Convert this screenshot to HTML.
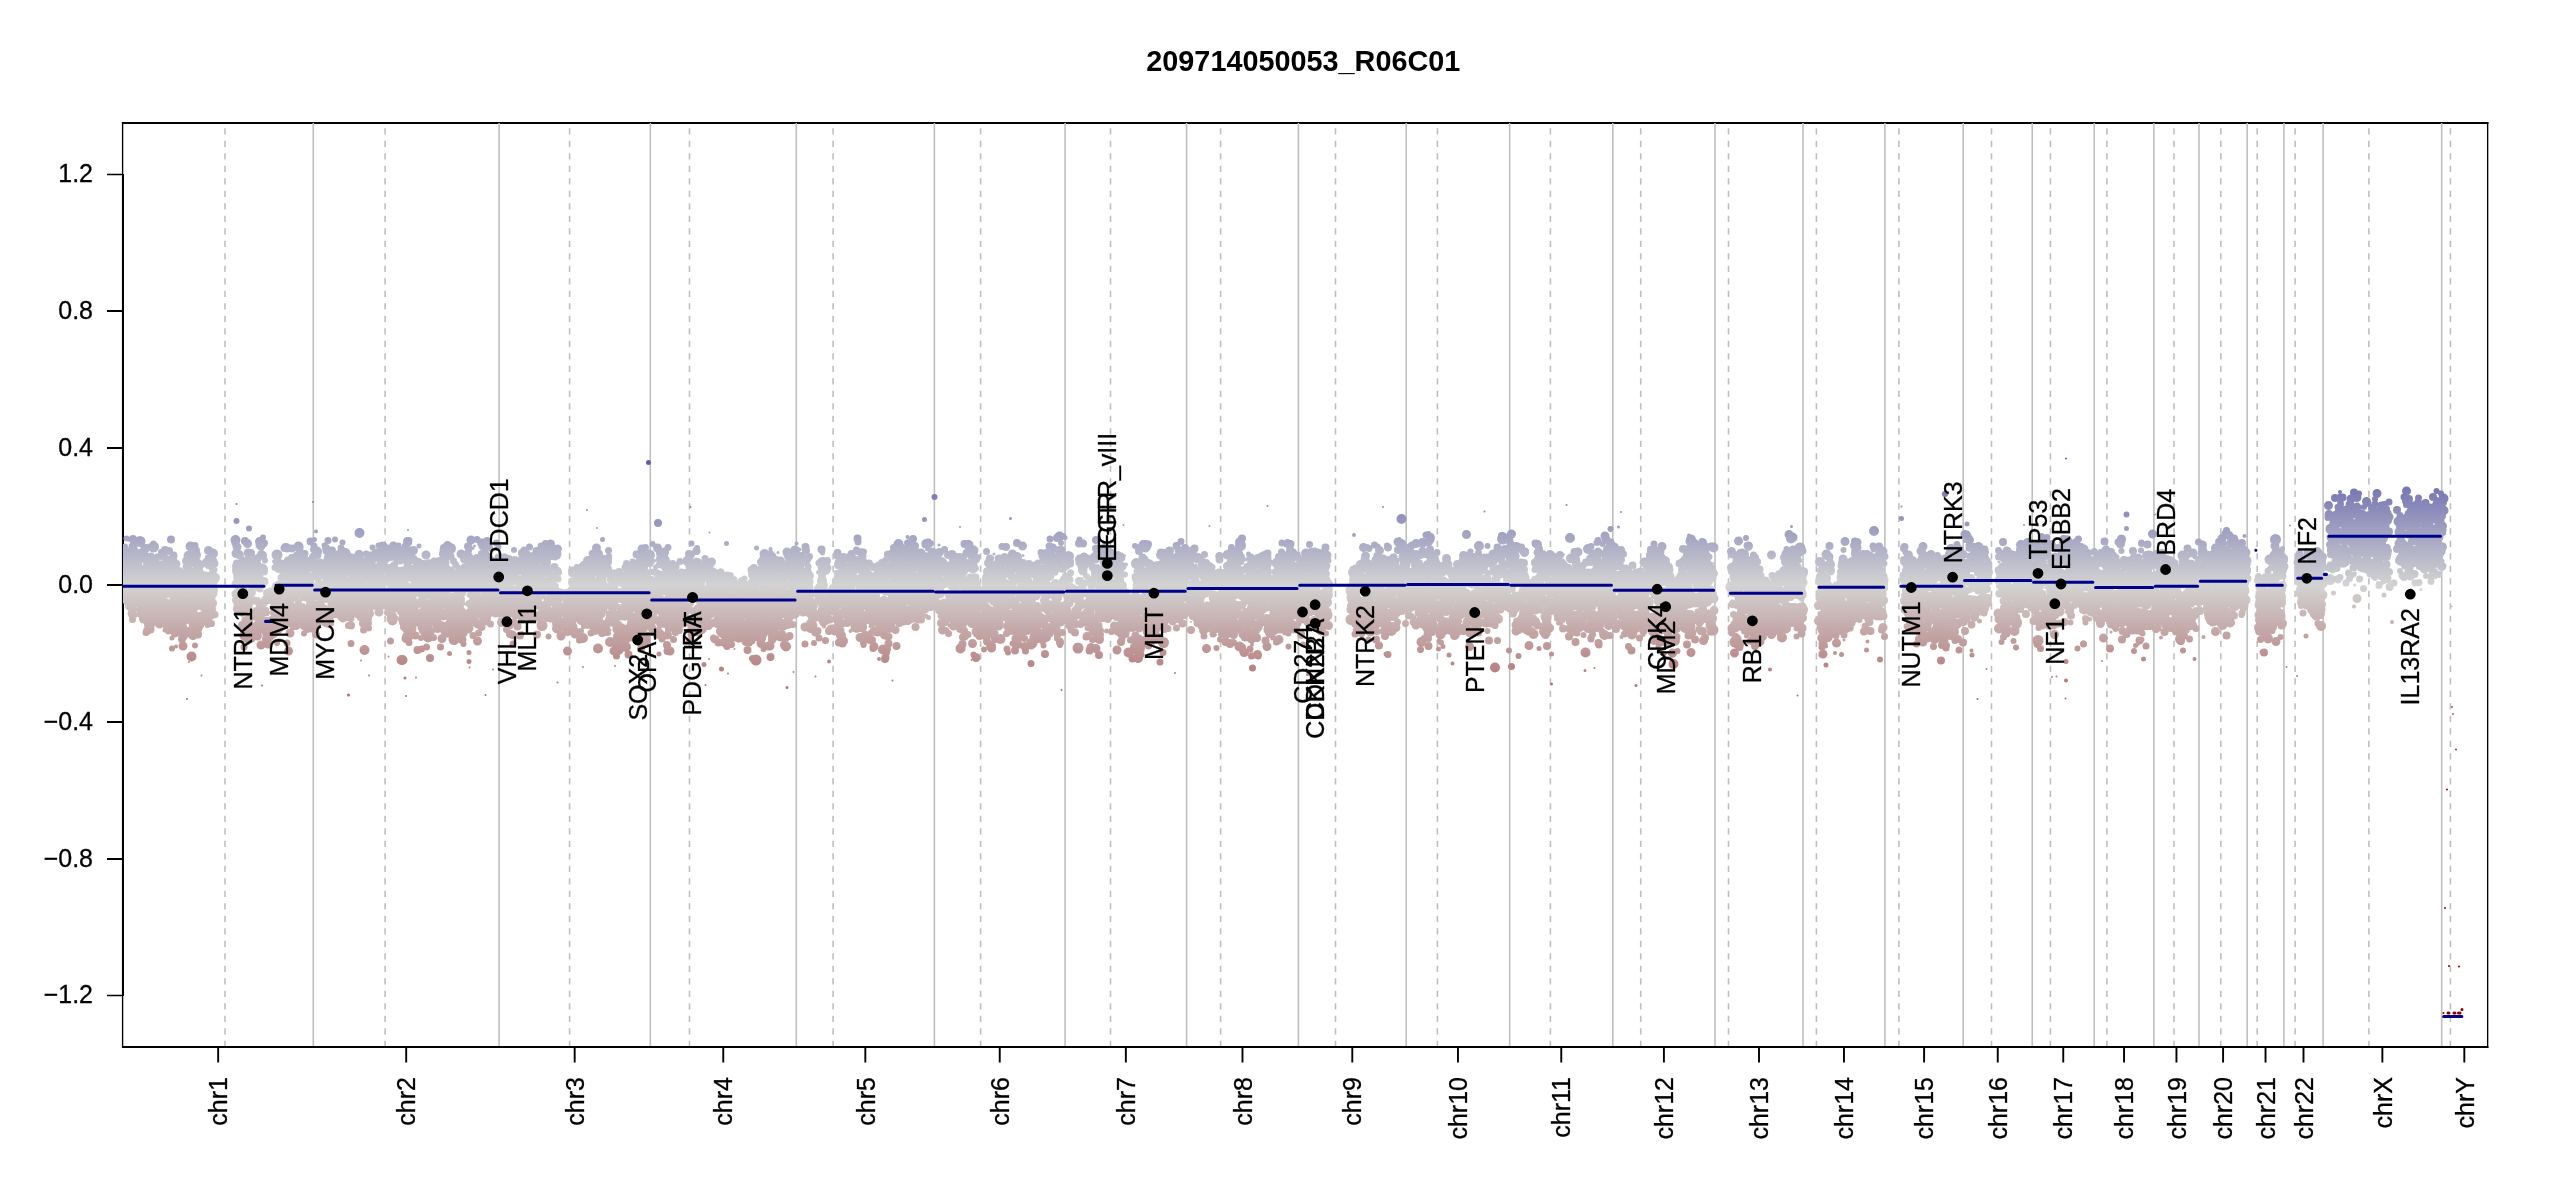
<!DOCTYPE html>
<html><head><meta charset="utf-8"><title>209714050053_R06C01</title>
<style>html,body{margin:0;padding:0;background:#fff}svg{display:block;will-change:transform}text{font-family:"Liberation Sans",Arial,Helvetica,sans-serif;fill:#000;stroke:#000;stroke-width:0.3px;font-size:25px}</style></head><body>
<svg width="2550" height="1200" viewBox="0 0 2550 1200">
<defs><linearGradient id="g" gradientUnits="userSpaceOnUse" x1="0" y1="362.6" x2="0" y2="807.4"><stop offset="0" stop-color="#00008b"/><stop offset="0.5" stop-color="#d3d3d3"/><stop offset="1" stop-color="#8b0000"/></linearGradient><clipPath id="c"><rect x="123.0" y="123.0" width="2364.5" height="924.0"/></clipPath></defs>
<rect width="2550" height="1200" fill="#fff"/>
<text x="1146.3" y="71" style="font-size:29.3px;font-weight:bold;stroke-width:0" textLength="314" lengthAdjust="spacingAndGlyphs">209714050053_R06C01</text>
<path d="M121.9 123H2488.4M121.9 1047H2488.4" stroke="#000" stroke-width="2" fill="none"/>
<path d="M122.6 122V1048M2487.65 122V1048" stroke="#000" stroke-width="1.35" fill="none"/>
<path d="M123.00 173.90V996.10M123.00 311.00H107.00M123.00 448.00H107.00M123.00 585.00H107.00M123.00 722.00H107.00M123.00 859.00H107.00" stroke="#000" stroke-width="2" fill="none"/>
<path d="M123 174.5H107M123 995.5H107" stroke="#000" stroke-width="1.3" fill="none"/>
<text x="93" y="182.3" text-anchor="end">1.2</text>
<text x="93" y="318.8" text-anchor="end">0.8</text>
<text x="93" y="455.8" text-anchor="end">0.4</text>
<text x="93" y="592.9" text-anchor="end">0.0</text>
<text x="93" y="729.9" text-anchor="end">−0.4</text>
<text x="93" y="866.9" text-anchor="end">−0.8</text>
<text x="93" y="1003.4" text-anchor="end">−1.2</text>
<path d="M313.3 123.0V1047.0M499.1 123.0V1047.0M650.3 123.0V1047.0M796.3 123.0V1047.0M934.4 123.0V1047.0M1065.1 123.0V1047.0M1186.6 123.0V1047.0M1298.4 123.0V1047.0M1406.2 123.0V1047.0M1509.7 123.0V1047.0M1612.8 123.0V1047.0M1715.0 123.0V1047.0M1803.0 123.0V1047.0M1884.9 123.0V1047.0M1963.2 123.0V1047.0M2032.2 123.0V1047.0M2094.2 123.0V1047.0M2153.9 123.0V1047.0M2199.0 123.0V1047.0M2247.2 123.0V1047.0M2283.9 123.0V1047.0M2323.1 123.0V1047.0M2441.7 123.0V1047.0" stroke="#bebebe" stroke-width="1.5625" fill="none"/>
<path d="M225.0 1047.0V123.0M385.1 1047.0V123.0M569.6 1047.0V123.0M689.5 1047.0V123.0M833.1 1047.0V123.0M980.6 1047.0V123.0M1110.5 1047.0V123.0M1220.6 1047.0V123.0M1335.5 1047.0V123.0M1437.4 1047.0V123.0M1550.4 1047.0V123.0M1640.7 1047.0V123.0M1728.5 1047.0V123.0M1816.4 1047.0V123.0M1898.9 1047.0V123.0M1991.5 1047.0V123.0M2050.4 1047.0V123.0M2106.9 1047.0V123.0M2174.0 1047.0V123.0M2220.8 1047.0V123.0M2257.2 1047.0V123.0M2295.1 1047.0V123.0M2368.9 1047.0V123.0M2450.4 1047.0V123.0" stroke="#bebebe" stroke-width="1.5625" stroke-dasharray="6.25 6.25" fill="none"/>
<path d="M218.17 1047.00H2464.33M218.17 1047.00V1062.60M406.20 1047.00V1062.60M574.67 1047.00V1062.60M723.26 1047.00V1062.60M865.33 1047.00V1062.60M999.74 1047.00V1062.60M1125.84 1047.00V1062.60M1242.49 1047.00V1062.60M1352.29 1047.00V1062.60M1457.96 1047.00V1062.60M1561.26 1047.00V1062.60M1663.91 1047.00V1062.60M1759.00 1047.00V1062.60M1843.96 1047.00V1062.60M1924.10 1047.00V1062.60M1997.75 1047.00V1062.60M2063.25 1047.00V1062.60M2124.06 1047.00V1062.60M2176.45 1047.00V1062.60M2223.09 1047.00V1062.60M2265.53 1047.00V1062.60M2303.50 1047.00V1062.60M2382.37 1047.00V1062.60M2464.33 1047.00V1062.60" stroke="#000" stroke-width="1.9000" fill="none"/>
<text transform="translate(227.3 1077) rotate(-90)" text-anchor="end">chr1</text>
<text transform="translate(415.3 1077) rotate(-90)" text-anchor="end">chr2</text>
<text transform="translate(583.8 1077) rotate(-90)" text-anchor="end">chr3</text>
<text transform="translate(732.4 1077) rotate(-90)" text-anchor="end">chr4</text>
<text transform="translate(874.5 1077) rotate(-90)" text-anchor="end">chr5</text>
<text transform="translate(1008.9 1077) rotate(-90)" text-anchor="end">chr6</text>
<text transform="translate(1135.0 1077) rotate(-90)" text-anchor="end">chr7</text>
<text transform="translate(1251.6 1077) rotate(-90)" text-anchor="end">chr8</text>
<text transform="translate(1361.4 1077) rotate(-90)" text-anchor="end">chr9</text>
<text transform="translate(1467.1 1077) rotate(-90)" text-anchor="end">chr10</text>
<text transform="translate(1570.4 1077) rotate(-90)" text-anchor="end">chr11</text>
<text transform="translate(1673.1 1077) rotate(-90)" text-anchor="end">chr12</text>
<text transform="translate(1768.1 1077) rotate(-90)" text-anchor="end">chr13</text>
<text transform="translate(1853.1 1077) rotate(-90)" text-anchor="end">chr14</text>
<text transform="translate(1933.2 1077) rotate(-90)" text-anchor="end">chr15</text>
<text transform="translate(2006.9 1077) rotate(-90)" text-anchor="end">chr16</text>
<text transform="translate(2072.4 1077) rotate(-90)" text-anchor="end">chr17</text>
<text transform="translate(2133.2 1077) rotate(-90)" text-anchor="end">chr18</text>
<text transform="translate(2185.6 1077) rotate(-90)" text-anchor="end">chr19</text>
<text transform="translate(2232.2 1077) rotate(-90)" text-anchor="end">chr20</text>
<text transform="translate(2274.7 1077) rotate(-90)" text-anchor="end">chr21</text>
<text transform="translate(2312.6 1077) rotate(-90)" text-anchor="end">chr22</text>
<text transform="translate(2391.5 1077) rotate(-90)" text-anchor="end">chrX</text>
<text transform="translate(2473.5 1077) rotate(-90)" text-anchor="end">chrY</text>
<g clip-path="url(#c)" fill="none" stroke-linecap="round">
<g stroke="url(#g)">
<path d="M123 562.5h0m0 35.5h0m7.5-2h0m3.5-25.5h0m6-16h0m0-13h0m9.5 83.5h0m1-34.5h0m1.5-18h0m1.5-25.5h0m13.5 66h0m5-52h0m.5 11h0m0 17.5h0m6 41.5h0m1.5-8.5h0m9-66.5h0m.5 25h0m12.5 2.5h0m0 34.5h0m12.5-40h0m30.5 57.5h0m2-2.5h0m11-65.5h0m12.5 62.5h0m3.5-9h0m3-66h0m10 59h0m14-48.5h0m7.5 49h0m2.5 5h0m.5-58h0m.5 32.5h0m7.5-24.5h0m3 24.5h0m2.5-21h0m11 15.5h0m3.5 19h0m3.5 2h0m5-40h0m12 15h0m5.5-11h0m6-16h0m3.5 41h0m4-45h0m3.5-6.5h0m7 51.5h0m3-28.5h0m15 67h0m2.5-28.5h0m17-4h0m14-42.5h0m1.5 51.5h0m8-65h0m3.5 35h0m0 56h0m3.5-59.5h0m10.5 48h0m7-40.5h0m6.5-27.5h0m6 9h0m4.5 2h0m10 39h0m1 2.5h0m3 9.5h0m6-60h0m1 48.5h0m1-3h0m1-6.5h0m2.5-35h0m7 29h0m.5-8h0m4 2.5h0m0-32h0m1.5 21h0m2.5-21h0m9 68h0m3.5-63.5h0m6.5-7.5h0m4.5 60.5h0m1.5-18h0m8.5 29h0m1-17h0m6-26.5h0m2 23.5h0m0 27h0m4-29.5h0m4.5-23h0m3 24.5h0m1-14h0m.5-23h0m15-5.5h0m.5 65.5h0m10-6.5h0m9-12h0m11.5-39h0m4.5 20.5h0m2-17h0m.5-19.5h0m30.5 38.5h0m5.5-6h0m4.5-4h0m3 36h0m1-11.5h0m2-46.5h0m13.5 67.5h0m7-64h0m16.5 40h0m5 16h0m1-1h0m10-34h0m4.5 4h0m0 44.5h0m10.5 26h0m4-64h0m0-22h0m12.5-3h0m1 7h0m1.5-11h0m3 2.5h0m.5 38h0m6.5-23.5h0m6.5 18.5h0m1.5-26h0m4 9h0m7.5 20h0m16.5 9h0m11-14.5h0m3.5-9h0m3.5 39.5h0m8-53.5h0m13.5 25h0m.5-15.5h0m.5 39.5h0m2-58.5h0m24 21.5h0m4 13.5h0m1-18h0m1.5-31h0m1 44.5h0m3-27.5h0m4.5 21h0m2 19.5h0m1.5-22h0m8.5 19.5h0m7.5-51.5h0m1 22h0m.5-14.5h0m0 25.5h0m.5-10.5h0m9-25.5h0m7 31.5h0m2-16.5h0m7.5 41h0m4.5 6.5h0m17.5-17h0m6 18h0m6-16.5h0m2 7.5h0m7-27h0m9 26h0m3-23.5h0m0 5.5h0m4.5-27.5h0m2 24.5h0m.5 28.5h0m5 14.5h0m13.5-34h0m2 47.5h0m3.5-48.5h0m.5 43.5h0m6.5-15.5h0m1-53h0m3 25h0m5-6h0m1 29.5h0m2.5 10.5h0m.5-69h0m13-3h0m9.5 91.5h0m9.5-32.5h0m6.5 7.5h0m20-51h0m1 12.5h0m4 12h0m6.5 4.5h0m11-37.5h0m1 14h0m2.5 30.5h0m5.5-9.5h0m.5-53h0m1.5 73.5h0m8 2h0m1.5-54.5h0m3.5 40h0m0-40.5h0m3 76.5h0m14-35h0m10-55h0m4.5 37h0m5 20h0m7.5-17.5h0m1.5-12h0m5.5 .5h0m4.5 26.5h0m3.5-23h0m8 43.5h0m13-82h0m6.5 87h0m11.5-18h0m7.5-56.5h0m1 4.5h0m3 68.5h0m6-10h0m1.5-16.5h0m3 5h0m1-29.5h0m.5 12h0m1 1h0m5-.5h0m4-39h0m.5 45.5h0m8-24h0m5.5 31.5h0m3.5-50.5h0m1.5 35h0m2-25h0m.5 27.5h0m1.5-23.5h0m1.5 9.5h0m3.5 26h0m5-22h0m26 36h0m0-29h0m2.5-18h0m1.5 36h0m5.5-31.5h0m1.5 6.5h0m14.5 39.5h0m4-59h0m6 62h0m1.5-33.5h0m2-9.5h0m8 20h0m1.5-22h0m4.5-11h0m4.5 9h0m1.5 20.5h0m1-26h0m1.5-17h0m4.5 19h0m1.5-1.5h0m1.5 23.5h0m3.5 5h0m1 7h0m6 13h0m2-27.5h0m.5-38h0m0 7.5h0m4.5 26.5h0m15.5-16.5h0m.5 54h0m1.5-47.5h0m1 31h0m4.5-44.5h0m1 24.5h0m2.5-31h0m0 36.5h0m.5-36.5h0m13.5 17.5h0m8 34.5h0m2-6.5h0m1-21.5h0m2.5 37h0m6.5-48h0m4.5-35h0m8.5 44h0m9-4h0m5.5 49h0m.5-19.5h0m1 12h0m3.5-36h0m.5 9h0m7.5 1h0m7 6.5h0m.5 15.5h0m4-8.5h0m0 2h0m6.5-4.5h0m3-36h0m0 20h0m2-22h0m.5 33h0m1 7.5h0m8 20.5h0m12-32h0m5 6.5h0m4-12h0m16-30h0m1 19h0m2-8.5h0m9 35.5h0m12.5 9h0m9.5-14h0m4.5-19h0m2-16.5h0m5-6.5h0m0 71h0m0-60h0m5.5-19h0m1 5.5h0m5.5 14.5h0m8.5 47h0m2.5-32.5h0m8.5 11h0m5.5 23h0m6-42.5h0m.5 20h0m1 1.5h0m8-21.5h0m3.5 16.5h0m3.5 35.5h0m18-43h0m4 55h0m3.5 2h0m1.5-47h0m4 .5h0m3 2.5h0m21 7h0m7.5-29h0m2.5 13.5h0m5.5 35.5h0m3-65.5h0m3 21h0m1-23.5h0m5.5 60h0m4-71h0m2.5 24.5h0m21.5 51h0m1.5 2h0m1.5-59h0m6 38.5h0m10.5 .5h0m10 12h0m0-29h0m4.5 19h0m.5 3.5h0m3-41.5h0m1 21.5h0m3.5 5h0m1-1.5h0m1.5-5.5h0m11.5 8.5h0m1-15.5h0m24-2.5h0m3-3.5h0m1.5 6h0m2 46h0m1-26.5h0m11.5-6.5h0m5-32h0m3.5 51.5h0m3.5-15.5h0m10.5 16h0m2 14.5h0m1-10.5h0m.5-18h0m0 32.5h0m34-74.5h0m.5 8.5h0m.5 33h0m15.5 14h0m5 1h0m2-11h0m9 18.5h0m1-26.5h0m9-6.5h0m2.5-3.5h0m8-14h0m1 68h0m1.5-89h0m10 66.5h0m3.5 6h0m6.5-21h0m2-28.5h0m24 23h0m7-10.5h0m.5 .5h0m2-26h0m15.5 46h0m8-25.5h0m6.5 32h0m7.5 15h0m3.5-52.5h0m.5 17.5h0m3 19.5h0m0-42.5h0m4 42.5h0m4.5-37h0m2.5 14.5h0m0 24.5h0m3.5-26.5h0m2 21.5h0m3.5 8h0m4-9h0m11.5-26h0m1 3.5h0m1 18h0m1.5-32.5h0m12.5-7.5h0m3.5 13h0m3 19h0m15-29h0m4.5 36h0m2.5 16.5h0m14-54h0m5-9.5h0m6.5 43h0m20.5 4.5h0m6-5h0m4-60h0m2.5 35.5h0m.5 39.5h0m26-36h0m.5 16.5h0m1.5-16h0m.5 25h0m4.5-49.5h0m1 20.5h0m.5-1.5h0m3.5 41.5h0m4-51.5h0m2.5 16.5h0m7-.5h0m1-50.5h0m1.5 20.5h0m7-27.5h0m6.5-10.5h0m0-.5h0m.5 28.5h0m32 19.5h0m2-47h0m.5 7h0m31.5 3h0m19.5 26h0m8-39.5h0" stroke-width="11"/>
<path d="M123 572.5h0m4-8.5h0m.5 8h0m1-2h0m1.5 36h0m.5-21h0m6.5-8.5h0m1 24h0m.5-17h0m1 4h0m1-4.5h0m0 21.5h0m8.5-20h0m1 4h0m0-24h0m1.5 51h0m3 2h0m2.5-23h0m2.5-10h0m0-17.5h0m2 30.5h0m4-25h0m1-2.5h0m0 33.5h0m1.5-10.5h0m2 17.5h0m3 6h0m6-44.5h0m0 22.5h0m.5-1h0m3.5-19h0m3 37h0m.5-21.5h0m4-43.5h0m.5 15.5h0m.5 94.5h0m5.5-93h0m0 1.5h0m1 4h0m4 28.5h0m.5-10.5h0m2.5-4.5h0m3 7h0m0 4.5h0m.5-16.5h0m2 24.5h0m2.5-48.5h0m0 36.5h0m22.5-50h0m3 61h0m15.5-17h0m2-20.5h0m3 9.5h0m0 6h0m2 41.5h0m5.5-21h0m4.5-7h0m2 41h0m1-40.5h0m2 10.5h0m5-38h0m2 21.5h0m1.5 23h0m3.5-16.5h0m0 9h0m0-18h0m1-5.5h0m2 15.5h0m.5 20h0m1-5h0m1-12.5h0m1 22h0m1.5-35h0m2.5 36.5h0m0-74h0m0 45h0m1.5-20h0m0 45.5h0m.5 3h0m2-34h0m.5-3.5h0m3.5 27.5h0m0-34h0m3 10h0m7.5-34.5h0m0 61h0m.5-5h0m2-13h0m.5 20.5h0m1.5-29.5h0m1 26.5h0m1.5-38.5h0m0-.5h0m1-8h0m0 31.5h0m3-35h0m1 15.5h0m.5-10.5h0m2.5 47h0m0-1.5h0m3-15h0m0 5h0m.5-37h0m0 27h0m.5-3.5h0m.5-26h0m.5 31.5h0m0-22h0m3.5 6h0m1-11h0m1.5-14.5h0m2 19h0m1.5 29h0m5.5 8h0m2.5-1.5h0m1.5-12.5h0m1.5-11h0m2-20h0m0-30.5h0m0 28h0m5 89h0m.5-32h0m1 3.5h0m2.5-54.5h0m2.5-6h0m1.5 25h0m0-17h0m1 30.5h0m2.5 0h0m1 4.5h0m.5-24h0m2 26.5h0m10-54.5h0m3 68.5h0m3.5-30h0m3-7h0m1.5-24h0m1 100.5h0m1 0h0m1.5-37.5h0m0-51h0m1 30.5h0m.5 12h0m.5-60.5h0m6 61.5h0m.5-13.5h0m6-38.5h0m.5 20.5h0m2-9h0m4 31.5h0m.5-11.5h0m.5-5.5h0m2-24.5h0m0 73h0m1-68.5h0m.5 6.5h0m.5 29.5h0m3.5 11.5h0m1.5-22.5h0m0-24h0m1 13.5h0m0 29h0m.5 8.5h0m1-10.5h0m.5-20h0m4.5-19.5h0m1 44.5h0m.5-56h0m6 28h0m1 26h0m2 13.5h0m.5-1.5h0m1-19.5h0m1-5.5h0m.5 23h0m2-21h0m0-28.5h0m.5 53h0m1.5-28h0m1 12.5h0m0 18h0m1.5 3.5h0m2-64.5h0m1.5 10h0m2 4h0m2.5 30.5h0m.5-39.5h0m1.5 16.5h0m.5 12.5h0m1-11h0m.5 23.5h0m2.5-35.5h0m1 34h0m1.5-39.5h0m1.5 3h0m1.5 38h0m.5-49.5h0m3 52.5h0m0-71h0m.5-2.5h0m1 21h0m6.5 28h0m1.5 4h0m1 2.5h0m2 9.5h0m1.5-15.5h0m3.5 6h0m.5-25h0m.5-16.5h0m0 29h0m4-27.5h0m4.5 30.5h0m2.5 24h0m3-17.5h0m5.5 2.5h0m1.5-40.5h0m.5 17h0m.5-10.5h0m1 22.5h0m0 27.5h0m.5-11.5h0m1.5-13h0m0 1.5h0m2-30.5h0m1-2h0m3.5-2.5h0m3 17.5h0m1.5 40h0m6-32.5h0m1-29h0m4 36h0m1-12h0m4-23.5h0m.5 74.5h0m1-34h0m1-1.5h0m4.5 14.5h0m6.5 5.5h0m0 14.5h0m3.5-22.5h0m.5 12h0m.5-22.5h0m5 2h0m2.5-10h0m1 51.5h0m.5-18h0m0-34.5h0m2.5 16.5h0m2.5 22h0m1-9.5h0m.5-52.5h0m1 43.5h0m1 .5h0m1 14h0m0-21.5h0m.5 20h0m1-61h0m0 59h0m0-31.5h0m.5 45h0m2.5-19.5h0m.5 7.5h0m0 30.5h0m0-94.5h0m.5 46h0m1-33h0m1 27.5h0m.5 .5h0m0-26.5h0m4 62.5h0m1-37h0m1-32h0m3 80h0m2.5-55.5h0m.5 19.5h0m.5-16.5h0m1.5-7.5h0m0 36h0m3.5 32h0m1-11h0m1.5-59h0m1 65h0m.5-33h0m.5 19h0m.5-19h0m2-29h0m0 32.5h0m.5 31.5h0m2-57h0m4 43.5h0m1.5-63.5h0m3-4h0m2.5 48.5h0m0-6h0m2-48.5h0m2 68h0m.5-53.5h0m0-9.5h0m.5 55h0m.5 20h0m1 .5h0m1.5-84h0m1 5h0m0 59.5h0m0-29.5h0m1 17h0m5.5 .5h0m2.5-16h0m0 15h0m3 26.5h0m1-34.5h0m1-20h0m1.5-16.5h0m1 40h0m1-37h0m3 33h0m0-30.5h0m2 15.5h0m1.5 35.5h0m2.5-45h0m.5 18.5h0m2.5 1.5h0m1-11h0m0 22h0m.5 17.5h0m2-2h0m0-30.5h0m3.5-11h0m1 41.5h0m.5-11.5h0m4.5-26h0m6.5 6.5h0m.5 34.5h0m9.5-53.5h0m0 37.5h0m3.5-25.5h0m3.5-8.5h0m3.5-.5h0m1 44.5h0m.5-23h0m2 35h0m5 12h0m2-19h0m1 13h0m4-7.5h0m3-10.5h0m.5 14.5h0m4-34.5h0m1.5 1h0m1-14.5h0m3 49h0m6-27h0m1-32.5h0m1 50h0m1 7.5h0m1-60.5h0m0 33h0m1-10.5h0m1 35.5h0m.5-2.5h0m3.5-10.5h0m1-22h0m0 26h0m1.5-67h0m1 73h0m.5-60h0m2 9.5h0m1 39h0m4 21.5h0m.5-17h0m.5-20.5h0m1-25h0m2.5 48h0m2.5 14h0m1-40.5h0m.5 4.5h0m.5-35.5h0m3.5 32h0m.5 49.5h0m2.5-78.5h0m.5 44h0m0-56h0m1 43.5h0m0-33h0m4-12.5h0m.5 29h0m.5 30.5h0m0-63h0m0 3.5h0m.5 42h0m.5-29h0m.5 32.5h0m.5-31.5h0m2 41h0m1-23h0m5 10h0m1 13h0m0 2h0m1-32h0m4 44.5h0m1.5 2h0m.5-8h0m9-36.5h0m3.5 19.5h0m3 6.5h0m1 1.5h0m.5-9.5h0m3-6.5h0m8 43h0m1-62.5h0m3 18h0m0-11h0m1.5-6.5h0m2-4h0m0 11.5h0m.5-1.5h0m0 38.5h0m.5-60h0m.5 59.5h0m3-40h0m.5 39h0m2 11h0m0-20h0m.5-9.5h0m.5 17h0m4.5 5.5h0m4.5-22.5h0m0-26.5h0m2.5 26h0m5-18.5h0m3-3h0m.5 1.5h0m2 24h0m3-21.5h0m1.5 69.5h0m1.5-62h0m4 27.5h0m1 13h0m1-38h0m0-33h0m3.5 52h0m4.5-65h0m2 39h0m0 0h0m1.5-2h0m1.5-30h0m2 32h0m1.5-25.5h0m3 36h0m4-28.5h0m0-13.5h0m2 14.5h0m1.5-11h0m0 11.5h0m4.5 34.5h0m3.5-21.5h0m1.5 9.5h0m0 14.5h0m1-19.5h0m0-40.5h0m1 22h0m7-8.5h0m0 17h0m.5 14.5h0m2 1h0m1-6h0m.5 10h0m2.5 13h0m7.5-5h0m0-28.5h0m2-18h0m2 4.5h0m0 8.5h0m2.5 17.5h0m2.5 19.5h0m1.5 43.5h0m0-82.5h0m1 62.5h0m3-26h0m3.5 11.5h0m.5-69h0m1 42h0m2.5 36h0m0-40h0m1 33h0m0-47.5h0m.5-18h0m0 42.5h0m5.5 10.5h0m2.5 19.5h0m4.5-32h0m0 28.5h0m3-48h0m.5 17h0m1.5 57.5h0m5-57.5h0m4.5 50.5h0m4.5-67h0m.5 44.5h0m7 6h0m4.5-65.5h0m3.5 9h0m1 21.5h0m0 30.5h0m4-48h0m1.5 48h0m2-53h0m.5 57.5h0m0-36h0m2 27.5h0m3 9.5h0m3.5-44.5h0m6.5 0h0m1.5 5.5h0m1.5 44h0m2-52.5h0m3.5 31h0m0-16h0m.5 17h0m2.5 0h0m3.5-71.5h0m2 54.5h0m1-23h0m1 49.5h0m2.5-52.5h0m7 52.5h0m.5-28h0m5.5 7.5h0m5.5 18.5h0m2.5-2.5h0m2.5 .5h0m4-19.5h0m4.5-21h0m.5 65h0m3-35.5h0m7-35.5h0m7.5-2h0m3 8h0m.5 41h0m1-56.5h0m1 67h0m3.5-9h0m2.5-10h0m1 47h0m2.5-35.5h0m.5 5.5h0m.5-24h0m1 20.5h0m3.5-1h0m1.5 40h0m1-30.5h0m4.5-82.5h0m0 58.5h0m0-23h0m1.5-1h0m4 10h0m.5-25h0m0 49.5h0m1-37.5h0m2.5 7h0m6.5 34h0m9-44h0m1-16.5h0m2.5 25h0m2-23h0m1.5 55.5h0m.5-41h0m4 24h0m1-7h0m1 22h0m1-58h0m1 37.5h0m2.5 15.5h0m1.5-52h0m0 20h0m2-5.5h0m1-18h0m1.5 22h0m1.5 35.5h0m13.5-24h0m6 12h0m.5 16h0m0-38.5h0m2 9.5h0m.5 43.5h0m4-53.5h0m2 52h0m.5-46h0m1.5 32h0m.5 4h0m1.5-27.5h0m1.5 2.5h0m4 29.5h0m0-3h0m.5 2h0m3-40h0m.5-15h0m.5-13h0m.5 73.5h0m0-68.5h0m1.5 69.5h0m1 20h0m.5-75.5h0m1 7h0m1.5 37.5h0m1.5 19h0m1-50h0m2.5 37h0m4-32.5h0m0 49.5h0m5-62.5h0m1 51h0m1.5-37h0m.5-28.5h0m5 33h0m6-6h0m1 8.5h0m.5-11h0m1.5 17.5h0m1 12.5h0m1.5-21.5h0m.5-31.5h0m3-.5h0m.5 34.5h0m0 24.5h0m0-13h0m3.5-52.5h0m0 13h0m3.5 49.5h0m3.5-38.5h0m2-24.5h0m5 24.5h0m8.5-26.5h0m.5 2.5h0m.5-2h0m.5 57.5h0m.5-48.5h0m6.5-3h0m1 30h0m0-23.5h0m0-7.5h0m5 46h0m.5 23h0m0 2.5h0m1.5-76.5h0m1.5 41h0m2 18h0m.5-57.5h0m1 36h0m.5-7.5h0m23.5 13h0m0 12.5h0m8-2.5h0m2.5-38.5h0m1 16.5h0m.5-17h0m3 56.5h0m4 7h0m15.5-52.5h0m0 24h0m5.5 28h0m1.5-15.5h0m1-4h0m3-6h0m4-6.5h0m.5-80h0m3 75h0m.5-32h0m.5 25.5h0m2 4.5h0m4 13h0m1.5-.5h0m.5-25.5h0m6 33.5h0m2 29.5h0m.5-38.5h0m.5-60.5h0m0 26h0m1 15.5h0m4.5-7h0m1 29.5h0m1-35h0m1-15h0m2 51.5h0m1.5-47.5h0m.5 15h0m4 9.5h0m0-4.5h0m1.5 53.5h0m.5-45.5h0m2 9h0m.5-16.5h0m1 48h0m1.5-7h0m4.5-51h0m5.5 5h0m2.5 29.5h0m2.5-19h0m1.5 22.5h0m.5-26h0m3 10h0m1-20h0m0 39h0m3.5-29.5h0m1 16h0m2.5 1h0m3-26.5h0m1-2h0m1-25.5h0m0 49.5h0m0 9h0m2.5-41.5h0m0 36.5h0m5.5-37.5h0m6 46h0m0 1h0m.5-21.5h0m1.5 80h0m1.5-81h0m1.5 32.5h0m2-17.5h0m1.5-9h0m6 13.5h0m2-7.5h0m2-48h0m2 53.5h0m1-22h0m1.5 25.5h0m0-40.5h0m.5-20h0m4.5 54.5h0m.5 26h0m1-3h0m2-17.5h0m2 .5h0m1-21.5h0m4 3h0m2 45h0m3-26.5h0m2.5-48.5h0m2.5 11.5h0m2.5 61h0m4-3h0m.5-57h0m4 34.5h0m1-44h0m.5 8.5h0m1.5-10.5h0m2 51h0m3-1.5h0m1 1.5h0m0-47.5h0m0 55h0m8-23h0m0 9.5h0m.5-67h0m.5 37.5h0m.5-17h0m0 63h0m.5-38h0m.5-6h0m4 5h0m4.5 22.5h0m1-27.5h0m4 75h0m1.5-25.5h0m1-78h0m3 10h0m1.5 55.5h0m.5-57.5h0m3.5 3.5h0m2 62h0m1-55h0m2.5 47h0m2 2.5h0m.5 18h0m0-17.5h0m1-63.5h0m.5 1.5h0m.5 28h0m2 5.5h0m1.5-18.5h0m1.5 40h0m1 7h0m1.5-70h0m4.5 16h0m1.5-10.5h0m.5 50.5h0m3-24.5h0m0 23h0m5-11h0m1.5-13.5h0m2 57h0m2-54.5h0m1 39.5h0m1-29h0m0-6.5h0m.5-10.5h0m.5 30.5h0m1-9.5h0m1-7h0m1 32.5h0m3-9.5h0m0-17h0m1.5 6.5h0m0-37.5h0m.5 30.5h0m2.5-17.5h0m0 13.5h0m0-26h0m2.5 2h0m0-2h0m4 77h0m3-57.5h0m2 26.5h0m1 12.5h0m1-46.5h0m1 4.5h0m1.5 12.5h0m1.5-31h0m0 16.5h0m3.5 29.5h0m.5-26.5h0m4.5 83.5h0m5-83.5h0m.5 34.5h0m0-6h0m.5-20h0m.5-9.5h0m1.5 30h0m2.5-14.5h0m1 33h0m.5-68h0m.5 44h0m2.5-14h0m0 39h0m1-79h0m.5 75h0m.5-10h0m.5-75.5h0m2 12h0m1.5-7.5h0m1 4.5h0m2 22h0m1 46h0m2.5-50.5h0m.5-8.5h0m1 17h0m2-24h0m.5 67.5h0m2-20.5h0m3.5 28h0m.5-27.5h0m1-4h0m1.5-46.5h0m22 33.5h0m0-15.5h0m1 73.5h0m5-21h0m.5-7.5h0m3 9h0m3-52.5h0m0 3h0m1.5 25h0m.5 .5h0m.5 33h0m2-57h0m.5-7h0m0 5.5h0m7 61h0m1-31h0m3-9.5h0m1.5 10.5h0m.5 27.5h0m.5-25.5h0m0 4h0m4.5-14.5h0m0-6h0m0 10.5h0m.5-2.5h0m1.5 24h0m6.5-5h0m.5-31.5h0m1 0h0m1-2h0m0 57.5h0m4-9h0m.5-74.5h0m4.5-15.5h0m.5 38h0m0 31.5h0m.5 14h0m.5-84.5h0m.5 19h0m6 61h0m.5-28h0m2 3.5h0m18.5-31h0m3 25.5h0m0 50h0m1-52.5h0m1.5 9.5h0m1 7h0m0-47h0m.5 43.5h0m1 14.5h0m2-48h0m2.5 51.5h0m2-27h0m1.5 19.5h0m1-21h0m4 28.5h0m.5-33.5h0m0-5h0m2-12.5h0m2 41.5h0m0 22h0m0-41.5h0m.5 29h0m0-9h0m2-13h0m2.5-8h0m0 26.5h0m1-12h0m9-7.5h0m2.5-27h0m1-9.5h0m3-1.5h0m4 7h0m2 14.5h0m.5 16h0m.5-61.5h0m2.5 35h0m0 45h0m.5 4.5h0m1.5-59h0m3 21.5h0m1-26.5h0m.5 36.5h0m22 13h0m2-30.5h0m0 31h0m5-10h0m1.5-6h0m.5 30h0m.5-38h0m2 13.5h0m1 14h0m1-2.5h0m3.5 2h0m1-.5h0m7.5 15h0m0-37.5h0m3 50.5h0m1 7h0m1.5-61.5h0m1 10.5h0m4.5-27.5h0m1.5 32h0m.5 48h0m.5-24h0m.5-37.5h0m0 13h0m2 1.5h0m3.5-31.5h0m1-13h0m2.5 25h0m.5 58h0m2-68h0m.5 6.5h0m.5 53.5h0m1-17h0m0-7h0m3-13.5h0m0-8h0m1 29.5h0m.5-26h0m3-18h0m.5 54h0m1-17.5h0m4-33h0m4.5-17.5h0m3-3h0m1 25h0m3.5 25.5h0m1.5-38h0m2 2.5h0m.5 3h0m.5-1h0m.5 8.5h0m10.5 41h0m.5 15h0m.5-9.5h0m8-59h0m.5 14.5h0m1.5-10h0m3 31h0m2 35.5h0m3.5-33.5h0m2-21h0m1-26.5h0m0-5h0m1 58h0m10-3h0m1.5-1.5h0m2-12h0m1.5-6h0m3.5 25h0m.5-54.5h0m.5 21h0m1.5 28.5h0m2.5-23h0m.5 25.5h0m5-58h0m1 21.5h0m2.5 42h0m2-20.5h0m1-2.5h0m1.5 13h0m.5-13h0m0 26h0m0-28.5h0m4.5-40h0m.5 13.5h0m1.5 20.5h0m.5 2h0m.5-38.5h0m1 23h0m1 10h0m.5 21h0m.5-21.5h0m7 10h0m0-21h0m1.5-13.5h0m1.5 3.5h0m2.5 53h0m2.5-24h0m3-4.5h0m.5 8.5h0m1-18h0m3.5 45h0m1-25.5h0m0 26h0m1-26h0m1-1.5h0m6.5-7h0m0 13.5h0m1 7.5h0m.5-15h0m2 32.5h0m.5-8h0m.5-10.5h0m1.5 5.5h0m2.5 9h0m2-4h0m1-27.5h0m.5 27h0m1.5 14h0m1.5-58.5h0m4.5 35h0m0-7h0m2 2.5h0m3-13.5h0m.5 10.5h0m.5 15.5h0m3 22h0m4-25.5h0m8.5 16.5h0m2.5-24.5h0m3-39.5h0m.5 69h0m1-34.5h0m2.5-7.5h0m0 19h0m3 3h0m2.5 3h0m2.5-27h0m1.5 4h0m0-11.5h0m2 13.5h0m1.5 38h0m3-35.5h0m3.5 21.5h0m.5-30.5h0m1 29h0m3 15h0m2.5-50h0m.5 65h0m1.5-16h0m1-67.5h0m2.5 74h0m2-35.5h0m2 21.5h0m0-34.5h0m.5 17h0m1-33h0m1 17h0m0 8.5h0m.5 34.5h0m.5-24h0m5-3h0m3.5-19h0m.5 20.5h0m4.5-4.5h0m.5-13h0m1.5-23.5h0m3 41.5h0m0 8.5h0m.5-50h0m3 57h0m1-43h0m2.5 28.5h0m3-6h0m.5-51.5h0m1 81.5h0m1.5-52.5h0m1 27.5h0m.5-13h0m0-17.5h0m1-9.5h0m1 26.5h0m1 7.5h0m0-10h0m.5-11.5h0m0 6h0m1 44h0m.5-43.5h0m.5-35.5h0m2.5 28.5h0m.5-12h0m.5 46.5h0m1.5-30.5h0m1.5 25h0m.5-49.5h0m0 23.5h0m.5 16.5h0m3.5-28.5h0m1.5 43h0m2-53.5h0m.5 19h0m.5-11h0m15 60h0m1-18h0m2 20.5h0m1 3h0m.5 11h0m.5-16.5h0m.5-19h0m1 37h0m1.5-79h0m1 61.5h0m1.5-24h0m3 14h0m1 4h0m0-5.5h0m.5 3h0m0 8.5h0m6.5-62.5h0m15.5 4h0m.5 13h0m4-1h0m1.5 5.5h0m3-9h0m2.5 6.5h0m5 25h0m0 4h0m2-54.5h0m1 11h0m2-7h0m1 70h0m0-66h0m1.5 35h0m0-11.5h0m13.5-29.5h0m3.5-21h0m.5 26h0m0-48.5h0m4 38.5h0m10.5 2h0m.5-14.5h0m1 25h0m1.5-18.5h0m2 21.5h0m.5-25.5h0m2.5 10h0m0-6.5h0m1.5 24h0m1-1h0m6-22.5h0m2-6.5h0m0-15h0m2 4.5h0m.5 44.5h0m3-8h0m0-33.5h0m.5 15h0m1.5 12.5h0m2-5.5h0m.5-25h0m.5-17.5h0m1 18h0m.5 24h0m1 6h0m0-36h0m1 0h0m11.5 1h0m1.5 39h0m1-28.5h0m.5 11h0m5.5 8h0m.5-31.5h0m5-13h0m1 34h0m.5-5.5h0m3.5-27.5h0m.5 44h0m1-39h0m.5 23.5h0m2.5 2.5h0m.5 4.5h0m0 14h0m.5-38h0m1.5-11h0m6 10h0m3.5 45.5h0m1.5-30.5h0m.5-1.5h0m.5 10.5h0m2 13h0m2-3.5h0m3-53h0m0 12h0" stroke-width="10"/>
<path d="M124.5 590.5h0m.5-26.5h0m2 30.5h0m.5-15h0m1 21h0m0-36.5h0m0 16h0m1.5 1h0m0-10h0m.5-19.5h0m1 9h0m.5 53h0m1.5-47.5h0m0-8h0m1 10h0m.5 18h0m0 10h0m1-28h0m1.5-3.5h0m.5 19.5h0m.5-25h0m2.5 52h0m0-18.5h0m1-4.5h0m1.5 31h0m0-15h0m.5-33.5h0m.5-21h0m.5 62.5h0m.5-25h0m0-38.5h0m0 8h0m.5 11h0m1 50.5h0m2-20h0m1-17.5h0m2.5-1.5h0m1.5 7.5h0m0 5h0m2-25h0m1 16h0m1 20.5h0m0 .5h0m.5 3.5h0m1 17h0m0-33h0m1-26h0m.5 0h0m.5 47.5h0m1-35h0m0 42.5h0m.5 2.5h0m0-18h0m1 8.5h0m0-34.5h0m4.5 45h0m1-62.5h0m1.5 59.5h0m0 1.5h0m0-31.5h0m0 36.5h0m2.5-14h0m.5-49h0m0 22.5h0m0 39.5h0m1.5-2h0m.5-60h0m.5 44h0m0-31h0m1.5 4h0m1 4h0m1 40h0m1.5-37.5h0m1-11h0m.5 69.5h0m.5-10h0m3-45.5h0m.5 10.5h0m2 11.5h0m.5 0h0m1-10h0m0-29h0m1 23h0m1.5 39h0m2-39h0m0 23.5h0m.5-42.5h0m1 52.5h0m1.5-65.5h0m0 19.5h0m1.5 8h0m1-18h0m.5 7h0m.5 35h0m3.5-11.5h0m1.5-42h0m.5 26h0m.5 21.5h0m.5-1h0m.5 13.5h0m0-.5h0m0-37h0m1.5 24.5h0m.5 0h0m2-49h0m1.5 3h0m22-10h0m.5 12.5h0m.5-19h0m.5 29h0m1.5 29h0m0-50.5h0m.5 31.5h0m0-13.5h0m1 25h0m2-14h0m1 27h0m0-17.5h0m.5-1h0m2 28.5h0m0-59h0m.5 39.5h0m0-19h0m.5 11h0m.5-49.5h0m.5 55.5h0m0-46h0m.5 51h0m.5 19.5h0m.5-49.5h0m1.5 60.5h0m.5-42h0m1-27h0m3-6h0m1.5 66.5h0m.5 10h0m1-66h0m0 17h0m1-45.5h0m1.5 103.5h0m0-99.5h0m.5 9h0m.5 74.5h0m.5-61h0m1 1h0m.5 33h0m2 23h0m1-3h0m.5-29h0m.5 51h0m1-16h0m.5 9h0m1-42.5h0m1 39.5h0m0-13.5h0m.5 3h0m2.5 8h0m1-33h0m.5 12h0m0-24h0m1.5-24.5h0m1 23h0m1.5 38.5h0m0 4h0m1.5-4h0m1-8h0m1.5-14h0m.5 20h0m0 .5h0m1.5-31.5h0m.5 .5h0m.5-43h0m1 66.5h0m0-53.5h0m.5 90h0m0-28.5h0m1-7.5h0m.5-45.5h0m0 63.5h0m0-65h0m2-.5h0m0 44h0m1.5 14h0m.5-56.5h0m2 56.5h0m1-69.5h0m0 21.5h0m0 3.5h0m.5-18.5h0m.5 24h0m1 7.5h0m0-46.5h0m1 19h0m1 18h0m2 34.5h0m.5-59h0m3 20.5h0m0 10.5h0m2.5 2.5h0m.5 23.5h0m1-39.5h0m0 26h0m1-40.5h0m.5 54h0m0-49.5h0m1.5-10.5h0m.5 55.5h0m.5-4h0m2.5-40.5h0m0 56h0m.5-4.5h0m.5-1h0m1-23.5h0m.5 9.5h0m0 0h0m2-32.5h0m0 22h0m.5-26h0m1 41h0m1-17.5h0m.5 21.5h0m.5 9h0m.5-45h0m1 21.5h0m1-26.5h0m1-14h0m0 65h0m.5-9.5h0m.5-25.5h0m1-26.5h0m2.5 10.5h0m.5 9.5h0m0 23.5h0m2.5-4.5h0m2-2.5h0m0-17h0m0 27h0m1.5 3.5h0m.5-26h0m1.5-20.5h0m.5 28.5h0m0-12h0m.5-22h0m.5 58.5h0m.5-37.5h0m3 32h0m.5-7h0m0-9h0m.5-40.5h0m2.5 27.5h0m1-.5h0m0 14.5h0m.5 13.5h0m0-44.5h0m0 40.5h0m.5-49h0m1 7h0m0 19h0m0 15h0m.5-33h0m0 45h0m0-46.5h0m1 8h0m1 10h0m0-.5h0m.5 6h0m.5 21h0m.5 4.5h0m0-19.5h0m0 18.5h0m.5-44h0m.5 22.5h0m1-36.5h0m.5 37h0m2 18.5h0m1-48.5h0m1 24h0m1.5 14h0m0 21h0m.5-24h0m2-5.5h0m.5-29h0m0 49h0m.5 3.5h0m0-40.5h0m0 15h0m0 9.5h0m0-6h0m.5-2.5h0m0 14.5h0m.5-3h0m0 12h0m0-26.5h0m1.5 14h0m.5-8.5h0m1 2.5h0m.5-15h0m0-4h0m1-4.5h0m1 2.5h0m1-16.5h0m0-4.5h0m1.5 28h0m.5-3h0m1 34h0m.5-19h0m1 2h0m0-18.5h0m0-17h0m1 22.5h0m.5-22.5h0m.5 24h0m1.5-28h0m1 4h0m.5 37h0m1.5-40.5h0m0 12h0m0-11.5h0m.5 42h0m1-41.5h0m1.5 56h0m1-63h0m0 6.5h0m0-4h0m.5 41h0m0-6h0m1 9.5h0m.5 1.5h0m.5-52.5h0m1 6.5h0m2.5 24h0m.5-22h0m.5 47h0m0-52h0m1 22h0m1 30.5h0m.5-44.5h0m.5 53.5h0m.5-31h0m1 25.5h0m0-34.5h0m.5 34h0m0 8h0m.5-13.5h0m1-12.5h0m0 2h0m1.5 49.5h0m0-92h0m1.5-5h0m.5 65h0m0-45h0m.5 15.5h0m.5 23h0m1-1.5h0m1-6h0m1 10h0m.5-6.5h0m.5-17.5h0m0 24.5h0m.5-43.5h0m0-9h0m.5 71.5h0m1-44.5h0m.5 42h0m0-27.5h0m1.5-18h0m.5-8.5h0m3.5 52.5h0m.5-15h0m0-16h0m.5 25.5h0m0 15h0m1.5-63h0m.5 28h0m1.5 24.5h0m.5 18.5h0m0-6.5h0m0-74h0m1.5 34h0m.5-18.5h0m1.5 2.5h0m.5 21.5h0m1 23h0m1-39h0m0 28.5h0m2-24.5h0m1.5-.5h0m.5 15h0m1.5 .5h0m1-27h0m3.5 68h0m0-58h0m3-4h0m0 23h0m0-45.5h0m1 37.5h0m1.5-46h0m.5 87.5h0m0-5.5h0m.5-23.5h0m.5-2.5h0m0 7h0m1 8h0m1-36h0m1 39h0m1-5h0m.5-26.5h0m0 33h0m.5-8.5h0m0-27h0m.5 37h0m1-38.5h0m.5 35h0m1 15h0m.5 2h0m.5-29h0m0 15.5h0m.5-5.5h0m0-32h0m.5 10.5h0m0 17h0m2-58.5h0m0 29h0m1-28.5h0m0 85h0m0-19.5h0m1 6.5h0m1.5-67.5h0m2 15.5h0m0 12.5h0m.5-19.5h0m.5 56h0m2-39h0m1-16h0m.5-28.5h0m.5 49h0m1-17.5h0m1.5 17h0m1.5-25h0m1 32h0m1 45.5h0m1-69.5h0m1.5 38.5h0m1.5-67h0m.5 41h0m1.5 13.5h0m.5 20h0m1-73h0m.5 51.5h0m.5-23h0m.5 34h0m0 9.5h0m2.5-31h0m.5-19.5h0m0-6.5h0m0 20.5h0m2-17.5h0m0 45.5h0m.5-46.5h0m1 19h0m.5 11.5h0m1-19h0m1 40h0m.5-6.5h0m2-6h0m0-4.5h0m1.5-34h0m0 45.5h0m2-47h0m0 62h0m2-46.5h0m0 1h0m5.5 21.5h0m0-7.5h0m.5 34h0m.5-31.5h0m0-11.5h0m1.5-7.5h0m.5 34.5h0m0-8h0m2.5-31h0m0 8h0m.5 34.5h0m2-41h0m1.5-.5h0m.5 9h0m0 15.5h0m2.5 7h0m0-42.5h0m1 53.5h0m0 3.5h0m1-10.5h0m1-42.5h0m1 38.5h0m0-6h0m0-9.5h0m.5-33h0m.5 26.5h0m.5 27.5h0m.5-10h0m0-3h0m1-9h0m1.5 28.5h0m0-29.5h0m2-13.5h0m1 47h0m2-37.5h0m0-19h0m.5 7h0m.5-12h0m1.5 43h0m.5-13h0m1.5 30h0m1-44.5h0m.5 2.5h0m.5 49h0m1-34.5h0m1 16.5h0m1.5-53.5h0m.5 57h0m2.5-8h0m1-14h0m0 23.5h0m1-36h0m.5 43h0m0-74h0m0 9.5h0m1.5 59h0m.5-62h0m2 36h0m.5-30.5h0m1.5 45h0m1-52h0m.5 56h0m3 31h0m1-42.5h0m1.5 29h0m0 3.5h0m2-12.5h0m1 8h0m1 29.5h0m0-19.5h0m.5-35h0m1 15.5h0m1 12h0m0-6.5h0m1-12.5h0m1.5-32h0m0-2h0m1.5 26.5h0m1.5 2h0m1.5 3.5h0m0-14h0m2.5 12h0m.5-9.5h0m1 29h0m.5-27.5h0m3.5 27h0m2-31h0m0 26h0m0 1h0m.5-55.5h0m1 8.5h0m1-5h0m0 28.5h0m0-10.5h0m.5 12h0m.5 23h0m2.5-63h0m1.5 3.5h0m.5 37.5h0m1-34h0m.5-13h0m.5 11h0m2 30h0m.5-9.5h0m1-2.5h0m1.5 10h0m0-23.5h0m1 39.5h0m.5-18h0m1.5-13h0m0 24.5h0m.5 7.5h0m.5 22.5h0m4-12h0m2.5-30.5h0m0-6.5h0m1 15h0m.5 58.5h0m1-71.5h0m1 20h0m1-6h0m.5-.5h0m0 0h0m1.5-20.5h0m3 55.5h0m2.5-12h0m.5-25h0m.5 38.5h0m0 10.5h0m0-59h0m.5-13.5h0m.5 8h0m0 39.5h0m2.5-45h0m0 26h0m1 37h0m.5-7h0m0-43.5h0m0-2.5h0m.5 46h0m1.5-6.5h0m1-39h0m1 39.5h0m0-42.5h0m.5 23.5h0m1 30h0m0-45h0m.5-6h0m1-13.5h0m1 68h0m.5 2h0m0 .5h0m0-13h0m1-2.5h0m.5-25.5h0m.5-29.5h0m1-17.5h0m2 45h0m5.5 29h0m0-27.5h0m0-41.5h0m.5 48h0m1.5 25h0m1-32.5h0m1 7h0m0-15h0m4-38.5h0m.5 55h0m.5-28.5h0m1 2h0m.5 33.5h0m.5 13.5h0m1.5-40h0m2 6.5h0m.5-38h0m0 50h0m.5-42.5h0m.5 1.5h0m2 74h0m1-44.5h0m1.5 60.5h0m2-84.5h0m.5 53.5h0m1-1h0m1 9h0m0-43h0m3 30h0m1.5-29h0m0 16.5h0m2 21h0m.5-50.5h0m.5 24h0m0 22h0m.5 2.5h0m2-15h0m.5-18h0m.5-1h0m3 10h0m0-1h0m1.5-29.5h0m1 15h0m.5-16h0m0 16h0m.5-3h0m.5 1h0m.5 44h0m2-8h0m0-39.5h0m.5 39.5h0m2-53.5h0m0 69.5h0m.5-65.5h0m1 4h0m.5 51h0m.5-21h0m1-23.5h0m0 25h0m0 10.5h0m1-12h0m.5 27h0m1.5-16.5h0m.5-18.5h0m1 19.5h0m.5-11h0m1 8h0m.5-19.5h0m1 36h0m1.5-11h0m0-3h0m1-7h0m.5-42.5h0m.5 49h0m.5-17.5h0m.5-21.5h0m0 30.5h0m0-20.5h0m.5-.5h0m.5-3h0m1 14.5h0m.5 5h0m1.5 24h0m3.5-15.5h0m0-1h0m.5 26h0m2-46h0m0 37.5h0m.5-20.5h0m2 34h0m.5-17.5h0m4-23.5h0m0 6h0m1.5-14.5h0m0 0h0m.5 31h0m.5 8.5h0m1-21.5h0m1 17.5h0m.5-3.5h0m0-16.5h0m1 29.5h0m3 6h0m0-40.5h0m.5-7.5h0m1-2.5h0m1 24h0m.5-30h0m1 50h0m.5 2h0m0-5.5h0m2-13h0m.5 26.5h0m.5-47.5h0m1 35.5h0m1 8h0m1-18h0m2-18h0m.5 21.5h0m.5-26h0m1 30.5h0m1-11.5h0m0 4.5h0m1.5-4h0m.5 1.5h0m.5 8.5h0m2-16h0m.5-28.5h0m0 2h0m0 47.5h0m.5 3.5h0m1-16h0m0 24.5h0m.5-5h0m0-8h0m.5-62h0m.5 16h0m0-9h0m1.5 35h0m.5 .5h0m0-26h0m.5 21h0m2.5-43.5h0m.5 44h0m.5 39.5h0m0-61h0m0-18.5h0m0-6.5h0m.5 46h0m1 40h0m0-78h0m.5 58h0m0-25.5h0m.5 29h0m0-43h0m1-30h0m.5 70h0m0 7h0m1-57.5h0m0 13h0m0 46.5h0m1-3.5h0m0-33.5h0m0 35h0m2-24.5h0m.5-27.5h0m.5 30h0m1-9.5h0m.5 .5h0m.5-23h0m1-18.5h0m1 43h0m2 22h0m3-2h0m.5-72h0m.5 49h0m1 18h0m0-12h0m1-45.5h0m.5 35.5h0m2 18h0m.5-23h0m2-18h0m0-10.5h0m.5 29.5h0m1.5-31h0m1 29h0m1-17h0m.5 19.5h0m0-34h0m1 22h0m.5-7.5h0m1 10h0m0 6h0m1.5 22h0m1-35h0m1 50h0m2-68h0m1 15h0m1.5 2h0m0 23.5h0m1 29h0m.5-.5h0m6.5-11h0m1-28h0m3-27h0m1.5 5h0m.5 55h0m0-32h0m.5 1h0m2 22.5h0m1-2h0m4 17.5h0m1-38h0m.5 16h0m0 4h0m.5-22.5h0m4.5-4h0m0 33h0m1-52.5h0m2 48.5h0m2.5-29.5h0m.5-26.5h0m0 83.5h0m.5-41h0m2 14h0m.5-5.5h0m.5-21h0m0-11h0m0 46h0m1-18h0m.5 1.5h0m0 9.5h0m2 6h0m.5-5h0m0-30h0m2.5-21h0m0-6h0m2 45.5h0m1-11h0m0 34h0m2-67.5h0m.5 33h0m.5-29h0m.5 73h0m.5-11.5h0m0-62.5h0m0 22h0m1-32.5h0m.5 48h0m0-16h0m.5 42.5h0m.5-51.5h0m1.5 61.5h0m0-39h0m1.5 38.5h0m0-52.5h0m.5 15h0m3.5-2.5h0m0 5.5h0m1 4.5h0m0 4.5h0m1-6h0m1-4.5h0m.5-19.5h0m0 9h0m.5 40.5h0m0 15.5h0m3-38h0m0 12.5h0m2 1.5h0m1-49.5h0m0 4.5h0m.5 2h0m.5-7h0m0 49.5h0m2.5-45h0m.5 30.5h0m.5-17.5h0m0 45h0m.5-26.5h0m1 10h0m.5-29h0m2-34.5h0m.5 46.5h0m.5-15.5h0m.5-17.5h0m.5 45.5h0m.5-39.5h0m0 18.5h0m.5-36h0m1.5 11h0m1 0h0m1 12h0m1-15.5h0m0-7.5h0m0 16h0m1 36.5h0m.5-34h0m0 2.5h0m1.5-4.5h0m2-25h0m0 69h0m1.5-46.5h0m.5 25h0m1-46h0m1.5 22h0m2.5 48.5h0m.5-56.5h0m.5 19h0m0 5h0m2 27.5h0m.5-62.5h0m0 23.5h0m1 22.5h0m1-41.5h0m.5 26h0m2-26.5h0m0 21h0m1.5 18.5h0m0-38.5h0m1 7h0m.5 53.5h0m0-30.5h0m.5 26h0m1.5-61h0m3.5 20.5h0m.5 35.5h0m.5-8.5h0m.5-57h0m0 15.5h0m.5 11h0m1.5 17.5h0m0-23h0m.5 22h0m0 9.5h0m0 1h0m.5-35h0m0 29h0m0-5h0m0 7h0m1.5 12h0m0-22.5h0m2.5-19h0m0 14.5h0m2 28.5h0m1-11h0m0 6.5h0m2.5-25.5h0m.5 6.5h0m.5 27h0m0-57.5h0m2.5 18h0m.5 59.5h0m1.5-27h0m0-22h0m0 2.5h0m1 31h0m0-31h0m.5 34h0m1-13.5h0m1-31.5h0m.5 4.5h0m5.5-5.5h0m0 54.5h0m.5-5.5h0m.5-41.5h0m.5 6.5h0m.5-1.5h0m0-10h0m.5-14.5h0m.5 34h0m1.5-23h0m2 51.5h0m1-11.5h0m.5 7h0m.5-31.5h0m.5 11.5h0m0-26h0m.5 51.5h0m0-50.5h0m1-3.5h0m.5 67h0m0-41.5h0m1.5-26.5h0m1-15h0m.5 11.5h0m.5 40.5h0m0-60h0m.5 37h0m1 38.5h0m1 .5h0m.5-22h0m1.5-48h0m0 92.5h0m1.5-38h0m2 26h0m0 26h0m.5-44.5h0m.5-10.5h0m0-13.5h0m0 8h0m1.5 25.5h0m0-31h0m1 8.5h0m1-7h0m2-2.5h0m.5 5h0m1.5 10.5h0m.5 29.5h0m.5-20h0m0-21.5h0m.5 36.5h0m0-22.5h0m.5-26h0m0-1.5h0m0 4h0m1-5.5h0m.5 33h0m.5-49h0m2 62h0m1-43h0m0 66h0m.5-49.5h0m.5 .5h0m.5 20h0m1-40h0m.5-6h0m.5 40.5h0m0-41.5h0m.5-5h0m1.5 27h0m.5 12h0m1 9h0m1.5-7h0m3-37.5h0m.5 14.5h0m4-24.5h0m1 58.5h0m0-18h0m2.5-44h0m1 36h0m0-2.5h0m0 25h0m.5-61.5h0m1.5 64h0m1-51h0m1.5 64.5h0m1.5-6.5h0m1-8.5h0m1-45h0m1.5 26h0m0-7.5h0m0 17h0m.5 22.5h0m.5-83.5h0m0 31h0m0-1h0m1.5-2.5h0m1 73h0m.5-42.5h0m1-19h0m3 .5h0m0 11.5h0m.5 31.5h0m1.5-59.5h0m2 21.5h0m.5 38h0m0-22h0m.5-39.5h0m0 57h0m.5 .5h0m0-37h0m0-21.5h0m.5 61.5h0m.5-19.5h0m.5 14h0m.5-15.5h0m.5-26.5h0m1 12h0m.5 24h0m.5 17h0m1.5-42h0m1 31h0m4-19.5h0m0 30h0m0-5.5h0m.5-72h0m1.5 54.5h0m0 0h0m1-37h0m.5 60.5h0m.5-70h0m0-10h0m2.5 41.5h0m0-29.5h0m1 60.5h0m1.5-20.5h0m.5-21.5h0m0 39h0m1-7.5h0m0-2h0m.5 3.5h0m0-4h0m.5-14.5h0m2-13.5h0m.5 21.5h0m1-49.5h0m4.5 63h0m0-9.5h0m1-16h0m.5 16.5h0m1.5-7h0m.5-41.5h0m1 32h0m6.5 4.5h0m1.5 9.5h0m1.5-48.5h0m.5 42.5h0m2 2.5h0m0-38h0m1 4.5h0m.5 50h0m1-56h0m3 57.5h0m2-27.5h0m.5 16.5h0m0-30h0m1 66h0m1.5-67.5h0m3-21h0m.5 89.5h0m.5-56h0m.5 5h0m1 41h0m.5-89.5h0m0 81h0m.5-45h0m0 21h0m.5 33.5h0m0-60h0m1.5 9.5h0m1-17.5h0m0-20h0m.5 52.5h0m1-49h0m1 43h0m.5-51h0m.5 46h0m1.5-19h0m2-6.5h0m0 46h0m1-61h0m0 15h0m.5 28h0m.5-38.5h0m1.5 44h0m1 1h0m.5 3h0m0-8h0m.5 29h0m1-61h0m1.5 32.5h0m0 52.5h0m1-21.5h0m0-29.5h0m.5 11h0m0-25h0m1 15.5h0m.5 6.5h0m2-40.5h0m0 53.5h0m.5-34.5h0m0 7.5h0m2 20.5h0m1-3.5h0m0-17.5h0m.5 37.5h0m.5-7.5h0m1-20h0m1.5 .5h0m2 2.5h0m1.5 22h0m1.5 22.5h0m1.5-54h0m0 13h0m2 1.5h0m.5 47.5h0m0-36.5h0m.5 17.5h0m.5-57h0m.5 5h0m.5 67.5h0m0-12h0m.5 6h0m1-67h0m1 39.5h0m1.5-61.5h0m1.5-11.5h0m0 34h0m0 39h0m1-18h0m1.5-11h0m.5-9.5h0m0 54.5h0m.5-19h0m.5-2.5h0m.5-43h0m.5 22h0m0 1.5h0m.5 42h0m0-40h0m.5 29h0m.5-13.5h0m.5-8.5h0m1-20h0m1.5 22h0m2 29.5h0m.5-39.5h0m1-1h0m.5 30h0m.5-46.5h0m.5 33.5h0m.5-58h0m0 58.5h0m.5-41.5h0m1-.5h0m0 20.5h0m.5-7h0m1.5 37h0m2.5-55h0m0 37.5h0m1-25h0m0 21.5h0m1-31h0m1-19h0m1.5 65h0m0-27h0m0-19.5h0m.5-1.5h0m.5 30h0m0 11h0m1-39.5h0m0-9h0m.5 16.5h0m1.5 10h0m.5 15h0m2-37.5h0m2.5 33.5h0m0 18h0m0-14h0m0-50.5h0m.5 16h0m.5 17.5h0m.5-20.5h0m0-12.5h0m.5-.5h0m0 46.5h0m0-15.5h0m.5 10.5h0m1-19h0m1-18.5h0m.5 10h0m1 46.5h0m2 0h0m1.5-49h0m1.5 34h0m1-22.5h0m1.5 17h0m0-19.5h0m1.5 36h0m0-27.5h0m1 32h0m1.5-8.5h0m0-45h0m.5-1.5h0m.5 59h0m3.5-21.5h0m.5-25h0m.5 16h0m0 2.5h0m.5 42h0m1-41h0m0 20.5h0m.5-36h0m.5 16.5h0m0-11.5h0m.5-13h0m.5 17.5h0m0 65h0m2.5-75h0m1.5 44.5h0m0-37h0m.5 45.5h0m1.5-53.5h0m1.5 22.5h0m1.5 2h0m3.5 23h0m0-47.5h0m1 27h0m1 29.5h0m0-3h0m.5-32.5h0m1 12h0m.5-32.5h0m0 42.5h0m0-39.5h0m1 33.5h0m0-14h0m1.5 33h0m0-43.5h0m.5-3h0m1-27.5h0m2 21h0m.5 24.5h0m.5 43h0m.5-19h0m.5-62h0m.5 63h0m.5-52.5h0m1 18.5h0m.5 43h0m1.5-29.5h0m0-43.5h0m.5 .5h0m1 52h0m2.5-33.5h0m.5-38.5h0m1 15h0m1.5 73h0m1.5-11.5h0m.5 34h0m7-72h0m.5 27.5h0m0-37.5h0m3 18.5h0m0 6.5h0m.5 5h0m0 24.5h0m1 12h0m0-49h0m1.5 66.5h0m1.5-54.5h0m.5 24h0m0-10.5h0m.5-41h0m0-8h0m.5 15.5h0m1 24h0m.5-31h0m.5 36.5h0m2.5-2.5h0m1.5-40h0m0 21.5h0m.5 58h0m1.5-21h0m.5-47h0m0 42h0m.5 2.5h0m0-40.5h0m.5 51h0m1.5-9h0m0 0h0m.5-27.5h0m0 28h0m1 4h0m1-32h0m1 33h0m1.5-22h0m2-47h0m.5 78.5h0m1-10.5h0m.5-6h0m.5-17h0m.5-37.5h0m0 5.5h0m2 9.5h0m1-9.5h0m0-3.5h0m1.5 5h0m0-14h0m.5 49h0m.5 14.5h0m0-64.5h0m1-1h0m.5 34h0m0-16.5h0m.5 31.5h0m0 16.5h0m0-36.5h0m0 40.5h0m.5-41h0m2-16.5h0m1 1.5h0m0-1h0m.5 32h0m.5-6.5h0m0-24h0m3.5-16.5h0m0 35h0m1-26h0m2 18h0m1 35h0m1-12.5h0m.5-23.5h0m0-2.5h0m1.5 31.5h0m1-1h0m0-49h0m.5 53h0m1-9h0m.5-2.5h0m.5 18h0m1.5-38h0m0-4h0m.5 17h0m1.5-44h0m0 2h0m0-1.5h0m1 7h0m.5 1h0m.5 49.5h0m0-21h0m1-8h0m1-9.5h0m1.5 34h0m1 3h0m0-56h0m1 22.5h0m.5 29.5h0m2 17.5h0m0-52h0m.5 44.5h0m1.5-59h0m0 5h0m2.5 13h0m0 30h0m.5-24h0m2 35h0m.5 10.5h0m0-30.5h0m0-5.5h0m23 10h0m1-14h0m1-5.5h0m1.5 40.5h0m.5-37h0m.5 9.5h0m0 3.5h0m3.5-21.5h0m1 48h0m0-58.5h0m1 64.5h0m1-25.5h0m1 12.5h0m0-68.5h0m0 77h0m1-44.5h0m.5-20.5h0m.5 19h0m0-22.5h0m1 66.5h0m.5-1h0m0-3h0m2.5-17.5h0m.5-23h0m.5 7h0m.5-3.5h0m.5-7.5h0m.5 38h0m0-.5h0m.5-16.5h0m0-16.5h0m0 47h0m2-42h0m.5-8h0m1-15.5h0m1 30.5h0m.5-3.5h0m1 19.5h0m.5-1h0m.5-40h0m0-15h0m.5 10.5h0m1.5 36.5h0m.5-30h0m0 37h0m2-8h0m.5 34.5h0m1-4.5h0m0-28h0m.5 22.5h0m0-42.5h0m1 14.5h0m1-27.5h0m.5 10.5h0m1 1.5h0m2.5 11h0m0 25.5h0m0-35h0m2.5-15h0m1.5 39h0m0 24.5h0m0-60h0m.5 8.5h0m1.5-34h0m3.5 1.5h0m.5 36.5h0m0 3h0m.5 7.5h0m.5-34h0m1 2h0m1 10.5h0m1-4.5h0m1.5-9.5h0m1 34h0m.5-.5h0m1-41h0m.5 60h0m0-54h0m3.5 49.5h0m2 22h0m0-81.5h0m2.5 20h0m0 21h0m1 36.5h0m3 3h0m.5-18.5h0m3-3h0m1-28h0m1 59.5h0m.5-92h0m2-4.5h0m0 26h0m.5 10h0m.5 13.5h0m1 5h0m0 27h0m.5-16h0m.5 24h0m0-22.5h0m.5-30h0m0 22.5h0m1 15.5h0m0-35h0m1 17.5h0m.5-16.5h0m0 10h0m1-6h0m1-16.5h0m0 25.5h0m1.5 0h0m.5 22h0m1-4.5h0m1 18.5h0m1 3.5h0m1-48.5h0m.5-17.5h0m.5 45.5h0m0 19.5h0m1-71.5h0m0 50h0m1.5-44h0m.5 20h0m.5-13.5h0m1.5 12.5h0m4 52h0m0-38.5h0m2-1h0m1-31.5h0m0 67h0m2.5-31h0m0 14.5h0m.5-13h0m.5 1h0m2-1.5h0m0-17h0m.5-29h0m1 44.5h0m0-20.5h0m1 47.5h0m.5-63h0m0 29.5h0m.5-37h0m0-22h0m1 87h0m.5 1.5h0m.5-46h0m.5 4.5h0m0 35h0m.5 30h0m1.5-49h0m0-19h0m0 38.5h0m1.5-33h0m2.5 37h0m.5-45.5h0m1 41.5h0m.5-18h0m1.5 25h0m2.5-20h0m3-38h0m.5 14h0m0 14.5h0m1.5 13h0m1-29h0m1 40h0m1-30h0m2.5-25h0m1.5-9.5h0m.5 7h0m1 32h0m0-21.5h0m1.5 14.5h0m0-7h0m3.5 25h0m2-15h0m1-52.5h0m2.5 28.5h0m1 41h0m.5-5.5h0m1.5 3h0m1.5-15.5h0m.5-11.5h0m1-31h0m.5 41h0m0-52.5h0m1 72h0m0-46.5h0m.5 46h0m1-47.5h0m0 51.5h0m1-53h0m0 43.5h0m1-52.5h0m0 83.5h0m1-48.5h0m3.5-19.5h0m1 31h0m.5 24h0m1 1h0m.5 8h0m.5-3h0m.5-71.5h0m2.5 57h0m1.5 14.5h0m0 7h0m.5 14.5h0m0-37.5h0m1 9.5h0m.5-16.5h0m.5-1.5h0m0-16h0m4.5 38h0m2-77h0m.5 41h0m1-7.5h0m.5 25h0m1.5-28.5h0m2.5 52.5h0m.5-26.5h0m.5 28.5h0m.5-63.5h0m.5 69h0m.5-77h0m0 14.5h0m.5 49h0m.5-3h0m0 6h0m1-14h0m1-25.5h0m0-15.5h0m1-14.5h0m1.5 38h0m3-11.5h0m.5 11.5h0m2-8.5h0m1-15.5h0m0 46.5h0m1-12h0m0-41h0m1.5 18.5h0m.5 21.5h0m.5 3.5h0m2-40h0m0 25h0m.5-17.5h0m0 17.5h0m.5-23.5h0m0 10.5h0m.5 18h0m.5-26h0m2 25.5h0m0-14h0m.5 32.5h0m.5-32.5h0m0 28h0m1-33h0m1 .5h0m1.5 13.5h0m2-18.5h0m1.5-12.5h0m2 24h0m.5-31h0m.5 47h0m0-1.5h0m1 17.5h0m.5-29h0m0-16h0m0 10h0m.5 23h0m2 2.5h0m4.5 3h0m1 20h0m1.5-39h0m0 9.5h0m1.5 2.5h0m2 0h0m2-42h0m0 40h0m2.5-9.5h0m.5 2.5h0m0-8h0m.5-31.5h0m.5 34h0m2-5.5h0m.5-6h0m.5 32.5h0m1-9h0m1 9.5h0m.5-4.5h0m.5-68h0m1 57.5h0m0-54h0m1 35h0m1.5 51h0m.5-10h0m.5 1.5h0m1.5-26.5h0m1-23h0m.5 23h0m.5-29h0m1-2h0m.5 24h0m3-6.5h0m1 1h0m.5-1h0m0 1h0m.5 9.5h0m1.5 24h0m.5-21h0m1 2h0m1 22h0m.5-41.5h0m.5 49.5h0m1.5-4h0m.5-27.5h0m.5 37h0m.5-36.5h0m0 19.5h0m0-7.5h0m.5-3h0m0-7h0m1 35.5h0m1-6h0m1-29.5h0m.5 36.5h0m1-15h0m0-38h0m0 24.5h0m1.5 20.5h0m.5-17h0m1.5-6h0m1.5 16h0m.5-25.5h0m1 14h0m1-31h0m1.5 18h0m0-9.5h0m2-4h0m.5 45h0m0 2h0m.5-17h0m2-31.5h0m1.5-2h0m1 8.5h0m1.5-24h0m0-3h0m.5 72h0m.5-2h0m.5-60h0m.5 21.5h0m0 38h0m1.5-65h0m0 32.5h0m1 40h0m1.5-67.5h0m2.5 65h0m0-36.5h0m.5 20.5h0m.5-9.5h0m.5-29h0m0-12h0m0 47h0m1-11h0m.5 22h0m0-74.5h0m.5 74h0m.5-28h0m1 33.5h0m0-12h0m3.5-39h0m0 56.5h0m0-36h0m.5 8.5h0m.5-37h0m0 69h0m0-60.5h0m.5 8.5h0m0 36h0m0-50h0m.5 40.5h0m1.5 16h0m1.5-43.5h0m0 70h0m1.5-70.5h0m0 26.5h0m1.5 32h0m.5-42.5h0m.5 30h0m1-25.5h0m2 10.5h0m1-17.5h0m0-12h0m0 14h0m.5 18h0m0-40h0m.5 9.5h0m3 20.5h0m1.5-12.5h0m.5-43.5h0m2 80h0m.5-65.5h0m0 52h0m.5-36.5h0m1.5 72.5h0m.5-107h0m.5 9.5h0m1 41.5h0m.5-29.5h0m1.5 35h0m2-17h0m1-8.5h0m0-15.5h0m3.5 54h0m1-69.5h0m0 37h0m0 28.5h0m0-2.5h0m.5-9h0m.5 41h0m3-84.5h0m1 46h0m0-22.5h0m.5 34.5h0m2.5-42.5h0m0 46.5h0m.5-22.5h0m.5-26h0m.5 1.5h0m1.5 2.5h0m.5 37h0m0-12h0m17.5-31h0m0-16h0m.5 76.5h0m.5-59.5h0m0 2h0m2 82.5h0m1-75h0m0 10h0m.5 36.5h0m1-4.5h0m.5-59h0m1-20h0m.5 35h0m1 39h0m0 10.5h0m0-21.5h0m1-18h0m1-33h0m0 12h0m1-11.5h0m0 54h0m.5-7h0m.5-43.5h0m0 40h0m.5-43h0m1.5 10.5h0m.5 20h0m0-23.5h0m2-15h0m3 65.5h0m0 11h0m.5 18h0m.5-69h0m.5 25.5h0m0-3h0m1 39.5h0m.5-6.5h0m0-32h0m1-23.5h0m.5 12.5h0m2-.5h0m1.5 11h0m1 30h0m3-11h0m0-6h0m2 22h0m0-48.5h0m1.5 38h0m.5 4h0m0-22h0m1 10h0m0-7h0m.5-6h0m0 1h0m1.5 1.5h0m1 34h0m0-3.5h0m0-76h0m.5 30h0m1.5 26.5h0m.5-2.5h0m.5 4h0m2-5h0m0-16h0m.5 32h0m0-31.5h0m1 15.5h0m1 18h0m.5-51.5h0m0 17.5h0m1 40.5h0m1-8h0m2-48.5h0m1-5.5h0m0-13h0m.5 41.5h0m.5 28.5h0m.5-16.5h0m.5-14.5h0m1-7.5h0m1-24h0m.5-30.5h0m.5 35.5h0m0-12h0m2.5 21h0m1-29h0m.5 67.5h0m.5-39.5h0m0-1h0m3 5.5h0m4 24.5h0m.5-27.5h0m17 26h0m0 15.5h0m2-44.5h0m.5 50.5h0m.5-47.5h0m0 14.5h0m.5-8.5h0m.5 42.5h0m.5 15.5h0m0 10.5h0m.5-38.5h0m1-24h0m2.5 26.5h0m1-32.5h0m0 52h0m1.5-19h0m0 13.5h0m1-61h0m2.5 26h0m1-3.5h0m1 4.5h0m1.5-12h0m0 57h0m1-53h0m2 35h0m1-22.5h0m.5 19.5h0m0-34.5h0m.5 5.5h0m0-21h0m0 19.5h0m1.5-32.5h0m1 34.5h0m1-1.5h0m0-50.5h0m0 32.5h0m.5 47h0m1.5-56.5h0m.5 8h0m2.5 .5h0m1 39.5h0m.5-29h0m.5-9h0m0-13h0m1 2.5h0m1 48.5h0m.5-67h0m.5 71.5h0m0-56.5h0m.5 20h0m.5-25h0m0 0h0m.5 28.5h0m.5 26h0m0-11h0m0-56.5h0m.5 55.5h0m.5 3h0m1.5-2.5h0m.5-29h0m2-2h0m0 17.5h0m1.5-8.5h0m0 19h0m.5 14h0m1-39h0m.5-1.5h0m1 1.5h0m1-14h0m1 6h0m1 .5h0m0-2h0m.5 20h0m2-10h0m0 35h0m0 5.5h0m1-40.5h0m1.5 23h0m0 7.5h0m0 5h0m.5 4.5h0m.5-42.5h0m0 36.5h0m2.5 6.5h0m2.5-35.5h0m1.5 36h0m1 15.5h0m.5-43.5h0m20.5-7h0m2.5 1.5h0m2-23.5h0m0 19h0m2.5 13h0m.5 13h0m.5-33h0m.5-6.5h0m0 39.5h0m0 7h0m0 5.5h0m2.5 17h0m1-43h0m1.5 32h0m0-20.5h0m.5 16.5h0m1-52h0m2-11.5h0m0 25h0m0 32h0m2-10.5h0m0-43h0m0 87.5h0m0-95.5h0m.5 12.5h0m1 18h0m1-20.5h0m1 70.5h0m.5-69h0m0 28.5h0m.5 32h0m1.5-43.5h0m2-20.5h0m.5 49.5h0m.5-8h0m1.5-16.5h0m.5-10h0m0-2h0m.5 6h0m.5 15.5h0m.5 42h0m1-11h0m2-20h0m2 14.5h0m0 14h0m.5-36.5h0m2 39h0m1-15h0m1-5h0m.5 19h0m.5-60.5h0m.5 39.5h0m1-39.5h0m2.5 8.5h0m0 40h0m.5 17.5h0m.5-46.5h0m1.5 36h0m.5 .5h0m.5-47.5h0m1 9.5h0m1 35.5h0m0-44.5h0m2-20.5h0m1.5-8.5h0m0 32.5h0m.5-8h0m1-15h0m1 15h0m3.5-39.5h0m1 33.5h0m.5-33h0m3 5h0m1.5 38.5h0m0-21.5h0m3.5 60h0m0-69.5h0m.5 65h0m1.5-44.5h0m1.5-10.5h0m1.5-.5h0m.5 11h0m0 12h0m.5-12.5h0m1-17.5h0m.5 32.5h0m2.5 26h0m.5-23.5h0m.5-7h0m2 3.5h0m0 20h0m11.5-31h0m1 45.5h0m.5-38.5h0m.5-.5h0m1 15.5h0m.5-25.5h0m1 44.5h0m.5-10.5h0m0 29h0m1-15h0m0-43h0m.5 5.5h0m.5 16.5h0m0 1h0m.5-11.5h0m0-3.5h0m0 48.5h0m0-67h0m.5 61.5h0m.5-13h0m.5-30h0m0 20h0m1.5 6.5h0m1 12h0m1-58h0m0 10.5h0m.5 6h0m.5 31h0m.5-43.5h0m0 0h0m1-3h0m1 17.5h0m0 8h0m1 30.5h0m0 7.5h0m2-68h0m.5 20h0m0 12h0m.5-13.5h0m.5-21h0m.5 30h0m0-27.5h0m.5 29h0m0-27h0m.5-10h0m.5 2.5h0m1-1.5h0m.5 52h0m.5-33h0m1.5 10.5h0m1 7h0m1.5-44h0m0 13h0m.5 1.5h0m.5-6.5h0m.5 0h0m1 31h0m0 15.5h0m2.5-25h0m.5 13h0m.5 3h0m.5 1h0m0-9.5h0m1-23h0m0 53.5h0m1-58h0m0 22h0m.5-2h0m3 51h0m0-36.5h0m.5 29.5h0m1-63h0m1-2.5h0m.5 12h0m.5 13.5h0m2.5 44h0m0-9h0m3 14h0m1-56.5h0m.5 43.5h0m.5-36h0m1 21h0m0-7h0m0 31h0m1.5-21.5h0m1.5 35h0m3.5-44.5h0m0-28.5h0m.5 40.5h0m.5-29h0m1 13.5h0m0-14h0m1.5 17.5h0m3 4.5h0m0-40.5h0m1.5 40.5h0m0-43.5h0m.5 3h0m1-3.5h0m0 13.5h0m0-6.5h0m1 1h0m0 31h0m.5-13.5h0m1 15.5h0m0-29.5h0m0 45.5h0m1-32.5h0m1 1.5h0m0-10.5h0m1-15.5h0m0 42.5h0m2.5-42h0m.5 21h0m1 1.5h0m.5 10h0m1.5 2.5h0m.5-21h0m.5 12h0m.5-11h0m0 31h0m.5 2.5h0m0-11.5h0m0-11.5h0m1-9h0m0-19h0m1 2.5h0m.5 18.5h0m.5-20.5h0m3.5 34h0m3-6h0m0 19h0m0 14h0m0-7h0m.5-25h0m2 7.5h0m2 13h0m1-.5h0m0 13h0m.5-7h0m2.5-28.5h0m.5 28h0m1 20h0m0-4.5h0m1.5-25h0m1.5-17h0m0 61h0m1-20.5h0m1.5-67.5h0m.5 13.5h0m0-7h0m.5 25.5h0m2.5 9h0m.5-17.5h0m.5-11.5h0m1 32h0m2 19.5h0m0-49.5h0m.5-6.5h0m1 6h0m0 31h0m0 31h0m.5-16h0m.5-29.5h0m.5 33h0m.5 7.5h0m2.5-22h0m1 13h0m0-67.5h0m0 29.5h0m1 49.5h0m0-84h0m1 83.5h0m1.5-12h0m0-15.5h0m1-28h0m0 28h0m.5 22h0m3 4.5h0m2-7h0m.5-41.5h0m0 25h0m0-17h0m.5 5h0m0 29h0m.5 2.5h0m1-13h0m1-46h0m0 8h0m1 22h0m0 11.5h0m.5-.5h0m1-15.5h0m.5-19.5h0m.5 52.5h0m.5-59h0m1.5 17h0m.5-4h0m1.5-4h0m0 21.5h0m0-23.5h0m1.5-1.5h0m.5 39.5h0m.5-15.5h0m1-16.5h0m1 18.5h0m0-24h0m.5-10h0m.5 10.5h0m.5 18.5h0m0-22h0m.5 14h0m1 45h0m1-56h0m1.5 11h0m.5 22h0m.5-64.5h0m.5 23.5h0m.5 59h0m1-55h0m0 24.5h0m1-9h0m.5-22.5h0m.5 22h0m.5 18h0m1-20h0m1.5-8.5h0m2.5-12.5h0m.5 50h0m.5-4.5h0m0 9.5h0m.5-37h0m.5-1h0m0 32.5h0m1-19.5h0m0 2.5h0m.5 17.5h0m1.5-33h0m.5 37h0m.5-24h0m0 37.5h0m.5-34h0m0-22h0m1 34h0m1-37.5h0m1 36h0m0-20.5h0m1 17h0m.5-19h0m0 11.5h0m0-13h0m1-10h0m3 44h0m1-35.5h0m.5 22h0m1.5 28h0m.5 18.5h0m.5-42h0m.5-16.5h0m.5 30h0m0 3.5h0m1 3.5h0m0-18h0m1 5h0m3-35h0m0 12h0m.5 18h0m1.5-18.5h0m2.5 34.5h0m.5 1h0m1-65h0m0 14h0m.5 12.5h0m2.5 32h0m3.5-19.5h0m0-24h0m.5 17h0m2 6.5h0m0-5.5h0m.5-41h0m3 36h0m.5-18h0m2.5 48.5h0m.5 6h0m.5-17h0m1-33h0m0 34h0m0 19h0m2.5-10h0m2-37h0m0 7h0m.5-32.5h0m0 83.5h0m.5-54.5h0m.5-14.5h0m1.5 13h0m1 39.5h0m0-5.5h0m2-16h0m0-9h0m.5 2h0m.5 33h0m0-81h0m.5 30h0m.5 7h0m0-11.5h0m.5-14.5h0m.5 43.5h0m.5-36h0m0 58h0m2-81.5h0m.5 23h0m1 56h0m1-77h0m1.5 23.5h0m.5 20h0m1-22h0m.5 25h0m2-41h0m1 31h0m1-9h0m1 26h0m1-7h0m0-7.5h0m1.5 23.5h0m.5-30.5h0m.5 31.5h0m.5-3.5h0m.5-45.5h0m2 17.5h0m.5 14.5h0m0-9.5h0m1.5-8h0m.5 5h0m.5 9h0m11.5 2h0m.5 24.5h0m0 10h0m.5 16h0m0-45h0m1 37.5h0m0-38.5h0m.5 5h0m.5 20h0m0-12.5h0m.5-9.5h0m0 38.5h0m.5-46h0m0 21.5h0m0-9h0m.5 14h0m.5 8h0m1 1.5h0m0-21h0m1 38.5h0m1-56h0m.5 54.5h0m2.5-39.5h0m.5 37h0m.5-3.5h0m2-14h0m0-3.5h0m.5-28h0m0-21h0m.5 56.5h0m.5-52h0m1 19h0m0-37.5h0m.5 7h0m.5 88.5h0m1.5-74h0m1 20.5h0m2-13h0m.5-14.5h0m.5 29.5h0m0 10.5h0m1 23h0m0-38h0m1-25.5h0m.5 6.5h0m14.5 13h0m2 3.5h0m0-23.5h0m1 16.5h0m1-11.5h0m0 18.5h0m1.5-8.5h0m.5-7.5h0m.5 15.5h0m1-17h0m0 15h0m.5 18.5h0m.5 2.5h0m.5-19h0m.5 2.5h0m0 11h0m1.5 1h0m.5-23h0m0-7.5h0m.5 11h0m.5 2h0m.5 30h0m.5-11.5h0m0-35h0m.5 .5h0m1.5 44.5h0m.5-36.5h0m0 35h0m1.5-14h0m.5-17h0m1.5 31h0m.5-9.5h0m.5-12h0m3.5-28h0m0 10.5h0m6-62h0m.5 9h0m9 40h0m2.5-56.5h0m2 23h0m.5 2.5h0m.5 9h0m.5 30.5h0m.5-29h0m.5-22h0m.5 48.5h0m1.5-38h0m.5 34.5h0m2-40.5h0m.5 10.5h0m0-22.5h0m.5 9.5h0m.5-15h0m0 27h0m.5-13h0m.5 19.5h0m4.5-5.5h0m.5-29.5h0m0 101h0m2-66h0m0 29h0m.5-44h0m1 27h0m0 1h0m.5-25h0m2 0h0m1 17.5h0m0-2.5h0m.5-12h0m0 .5h0m2-22.5h0m1.5 28.5h0m1 38h0m.5-37h0m1.5-16.5h0m1.5-6h0m.5 44.5h0m1-35.5h0m0 26.5h0m.5 4.5h0m1-35h0m1.5-20h0m.5 32.5h0m0 36h0m.5-3h0m1 14h0m0-23.5h0m1.5 3.5h0m2-29h0m0 8h0m1 35h0m.5-14.5h0m0-33h0m3 12.5h0m2-15h0m10 26.5h0m0-11.5h0m1.5 9h0m1.5-7h0m4.5-43h0m1 67.5h0m1.5-33h0m0-11.5h0m0 56.5h0m2-15.5h0m.5-32h0m1-16.5h0m1.5 14h0m1.5 34h0m0-23h0m1.5 0h0m3.5 9h0m1.5-8.5h0m1 31.5h0m2.5-39h0m0 11h0m0 6h0m1-5.5h0m3 4h0m.5 18.5h0m.5-2h0m.5-40.5h0m.5 22.5h0m0-10h0m.5 27.5h0m1-47.5h0m.5 8h0m0 56.5h0m.5-29.5h0m1-34.5h0m3 42.5h0m1.5-44.5h0m2 59.5h0m1-40.5h0m0 21h0" stroke-width="9"/>
<path d="M123.5 575.5h0m.5-11h0m0-16h0m.5 12h0m1 12h0m.5 9.5h0m.5-1.5h0m1 21h0m.5-44.5h0m.5 7.5h0m1.5 32.5h0m1 9.5h0m1-55.5h0m0 32h0m.5-36.5h0m.5-7.5h0m0 22.5h0m.5-17h0m0 44.5h0m.5-35h0m1.5 10.5h0m0-6.5h0m1 4.5h0m1-2h0m1 18.5h0m0-17.5h0m1 26.5h0m1.5 26h0m1.5-20h0m1 0h0m0 7.5h0m0-32h0m.5-18.5h0m1.5 68.5h0m0-13h0m.5-20h0m1 44.5h0m0-71.5h0m0 32.5h0m.5-32.5h0m1.5 48.5h0m0-16h0m0-27.5h0m1 1.5h0m0 15.5h0m.5-1.5h0m0 49.5h0m0-23h0m.5-6.5h0m0-19.5h0m.5 8.5h0m0 4.5h0m2-14h0m.5 38h0m0-31h0m.5-1h0m0 14.5h0m0-11h0m.5 26h0m0-9h0m.5-46h0m0 60.5h0m1-47h0m.5 25.5h0m1-7h0m1.5 1h0m2-1h0m1-5.5h0m.5-21h0m.5 27h0m0 1h0m1.5-43.5h0m.5 36.5h0m0 7h0m.5-34.5h0m0 58.5h0m1.5-51.5h0m.5 8.5h0m1-23.5h0m0 25.5h0m1 10.5h0m.5 23.5h0m.5-71h0m0 68.5h0m.5 17.5h0m1-54h0m0 34h0m0-33h0m.5 2h0m.5 13.5h0m0-32.5h0m0 74h0m.5-52.5h0m.5 30h0m.5-39.5h0m2.5 34.5h0m1 5h0m0-10h0m.5 18h0m1-9h0m.5 19.5h0m.5 5h0m.5-7.5h0m0-40.5h0m.5 7h0m0 49.5h0m0-14.5h0m3.5 6h0m.5-69.5h0m.5 49h0m.5-37h0m1.5-4h0m1.5 61.5h0m2-55.5h0m.5 60.5h0m0-11.5h0m.5-52h0m.5 38h0m.5 8h0m0-27h0m.5-32.5h0m.5 57h0m1-65h0m.5 11h0m0 54.5h0m0-22.5h0m0 7.5h0m.5-22.5h0m0-23.5h0m1 17.5h0m0 62h0m.5-40.5h0m0 34.5h0m0-38.5h0m1 27.5h0m.5 8h0m0-29.5h0m.5 24.5h0m0-18h0m.5-38h0m0 19.5h0m3-8h0m.5 24h0m0-11.5h0m.5 25.5h0m0-5.5h0m.5-29h0m0-4h0m0 13h0m1 16.5h0m.5 3.5h0m0-46.5h0m0 24h0m1-35.5h0m.5-.5h0m0 27.5h0m0-12.5h0m.5-6.5h0m.5 43h0m.5-10h0m.5 3.5h0m0-43h0m0 12h0m1 47h0m.5-16h0m0 20h0m1-53.5h0m0 13.5h0m0 28h0m.5-9.5h0m.5-12.5h0m21.5-38h0m0 41h0m0 10h0m.5-24h0m0 1h0m1 37.5h0m.5-16.5h0m4.5 33h0m.5-35h0m.5-22h0m1 8.5h0m1 58h0m0-93.5h0m0 66.5h0m1.5-44h0m1.5-2.5h0m.5 19.5h0m0 27.5h0m1.5-8.5h0m0-28.5h0m0 21.5h0m0 34.5h0m1 6.5h0m0-66h0m0-14.5h0m.5 85.5h0m1-22.5h0m0-2h0m1.5-51.5h0m.5 64.5h0m0-26.5h0m0 32h0m.5-54.5h0m.5-3.5h0m1 36.5h0m1 6.5h0m.5-59.5h0m1.5 46h0m0-59h0m0 64.5h0m0-38h0m.5 54h0m0-80.5h0m1 1.5h0m.5 58h0m1 15.5h0m0 8.5h0m.5-73h0m0-11.5h0m.5 83.5h0m.5-56h0m.5 52.5h0m0-42.5h0m1 47.5h0m0-18h0m.5 28h0m.5-4h0m6-3.5h0m.5 1.5h0m1-30h0m0-7.5h0m0 16.5h0m1 19.5h0m0-13h0m.5-4.5h0m0-8.5h0m1.5 17.5h0m.5 8h0m2-35.5h0m1 5h0m.5-37h0m.5 14.5h0m.5 32.5h0m.5 11.5h0m1-14.5h0m1-59.5h0m0 20h0m1 10h0m0-31h0m.5 22h0m1 48h0m0-27.5h0m0-22.5h0m3 27h0m.5 26h0m1.5-71.5h0m0 9.5h0m.5 49h0m0-26.5h0m1-21h0m0 5.5h0m.5 58.5h0m1-58.5h0m1.5 58h0m.5-14h0m0-48h0m1.5 51h0m0 5h0m.5 3.5h0m.5-42.5h0m.5 41h0m1-66h0m2 63h0m1.5 .5h0m0-37h0m1.5-11h0m.5 5h0m.5 55.5h0m.5-42.5h0m0 5h0m2 7.5h0m1 21.5h0m0-79h0m.5 63h0m2 21.5h0m1-22h0m1 3.5h0m.5 3h0m.5 24h0m.5-81.5h0m1 11h0m0 13.5h0m0-22.5h0m.5 19h0m0-1h0m.5 39h0m.5-20h0m.5 20h0m0-36h0m0 33.5h0m0-4.5h0m1-2h0m0-16.5h0m1-11.5h0m2 43.5h0m1-4.5h0m.5-38.5h0m0 34h0m.5-12.5h0m.5-49h0m0 23.5h0m0 49h0m1-34.5h0m0-8.5h0m0 6h0m.5-16h0m.5-10.5h0m0 58.5h0m1-46h0m0 12h0m.5 40h0m.5-29.5h0m0 25h0m0-7.5h0m.5-44.5h0m.5 12.5h0m1-27h0m0 22.5h0m.5 16h0m1.5-9h0m1-18h0m.5 48.5h0m.5-26.5h0m0-14h0m0 44h0m.5-22h0m0 7.5h0m0-35.5h0m0 41h0m.5-25.5h0m.5 11h0m0 17.5h0m1-25h0m0 23h0m0-38h0m.5 17.5h0m.5 6h0m1-25.5h0m.5 32.5h0m2-19h0m0-12h0m.5 13h0m.5 31h0m1-45h0m0-2h0m0 4h0m.5-16.5h0m0 53.5h0m1 .5h0m0-53h0m.5 64h0m.5-35h0m1-25h0m1 46.5h0m0-20h0m.5 17h0m0-33.5h0m.5 33h0m0 12.5h0m0 5.5h0m.5 7.5h0m0-10.5h0m.5-39h0m.5 30.5h0m1-.5h0m1-16.5h0m.5-9h0m0 25h0m.5 5.5h0m.5-25.5h0m0-20.5h0m.5 44h0m.5-26.5h0m0 13h0m.5-21.5h0m.5 15.5h0m0-1h0m.5-24.5h0m0 10.5h0m0 13h0m1-16.5h0m0-17h0m.5 39h0m.5 11h0m0-7h0m.5 20h0m.5-45.5h0m0 44.5h0m2-38.5h0m0 46h0m.5-12.5h0m0 8.5h0m1-45.5h0m0 39.5h0m0-11h0m.5 4h0m1.5-1.5h0m.5 9h0m1 9h0m0-4.5h0m.5-63h0m.5 9h0m2-4.5h0m.5 46.5h0m0-2h0m.5-39h0m0 12h0m0-21h0m.5 0h0m0 43h0m2.5 4h0m0-6h0m.5 8h0m1-2.5h0m0-3.5h0m.5 4.5h0m.5-12.5h0m.5-36h0m.5 24.5h0m1-8.5h0m0 35h0m1-18.5h0m0-11.5h0m1 24h0m0-31.5h0m1-19h0m1.5 31.5h0m0 19h0m1-18h0m0-29h0m1 27.5h0m3 26.5h0m0-27.5h0m1.5 39h0m.5-68h0m1.5 31.5h0m.5 26h0m1-43h0m1-12.5h0m.5-2.5h0m0 54.5h0m1-3h0m.5-28.5h0m1.5 23h0m1 12h0m1-4.5h0m1.5 15h0m1-63h0m0 47.5h0m.5-.5h0m.5-53h0m0 77h0m.5-45h0m1.5 47h0m0-2.5h0m1-35.5h0m.5 14h0m0-6h0m1-31h0m.5-16h0m0 63.5h0m.5 14.5h0m.5-11.5h0m0-44h0m.5 57h0m0-9h0m.5-16.5h0m.5 16.5h0m1 6h0m.5-10h0m.5-49.5h0m1 21h0m0-5h0m.5 20h0m0 6.5h0m.5 24h0m.5-68h0m1 11h0m0-8h0m.5 79.5h0m2.5-80h0m1 17.5h0m.5-12.5h0m0 50h0m0-56.5h0m.5-2.5h0m0 36h0m.5-15h0m0-18.5h0m2 14.5h0m0 38.5h0m.5-45h0m.5-6.5h0m.5 54h0m1-46h0m0 34h0m0 20h0m1-39h0m0 32h0m.5-7.5h0m0 5h0m1.5 35.5h0m0-70.5h0m0 27.5h0m1-20h0m1 7h0m4 14h0m0-39.5h0m1 16h0m1 21h0m0-6h0m.5-3h0m2-11.5h0m0-16.5h0m0 37.5h0m.5 11h0m.5-63.5h0m1.5-7.5h0m.5 72.5h0m.5 4h0m1-79.5h0m1-.5h0m0 32h0m.5 43h0m1-47h0m0 24.5h0m1.5 30.5h0m0-19.5h0m1.5 12.5h0m0-70h0m.5 14h0m1 29.5h0m.5 7h0m.5-25h0m.5 45.5h0m0-3h0m1-43.5h0m1 15h0m0 7.5h0m0 32.5h0m.5-13.5h0m0-38h0m1 24h0m1.5 11h0m.5-20.5h0m.5 11.5h0m0 4.5h0m.5-9.5h0m2.5-30h0m2-6h0m.5 19.5h0m2.5 25h0m.5-67.5h0m.5 9.5h0m.5 8h0m1 40h0m1-17.5h0m.5-22.5h0m.5 50h0m1.5-25.5h0m0-9h0m3-14h0m0 19.5h0m.5-19.5h0m0-7.5h0m0 64.5h0m.5-15h0m4 19.5h0m0-37.5h0m.5-14h0m0-2h0m.5-27.5h0m0 22h0m0 7h0m1.5 0h0m0 38.5h0m.5 7h0m.5-49.5h0m0-6.5h0m.5-9.5h0m1 18.5h0m0-17h0m0-1h0m0 18h0m.5 3.5h0m0-10h0m0-26h0m0 34.5h0m.5 32.5h0m.5-21.5h0m0 3.5h0m0-8h0m1-34.5h0m.5 58.5h0m0 7h0m.5-1.5h0m1-28h0m0 22h0m1-22.5h0m.5-10h0m0-11.5h0m0 44.5h0m1-28h0m.5 17h0m0 7h0m1-12h0m.5-1h0m0-21h0m1.5 14.5h0m2 9h0m.5-32h0m1 24h0m.5 28h0m0-34h0m.5 25h0m0 8h0m0-44.5h0m.5 14.5h0m0 20.5h0m.5 8h0m.5-41.5h0m0 27h0m1 19h0m.5-1h0m.5-30h0m0 14.5h0m.5 9.5h0m2-2.5h0m.5 7h0m2-49h0m0 72h0m0-43.5h0m1-20h0m.5-5.5h0m.5-4h0m.5 73.5h0m0 .5h0m1-33h0m.5 20.5h0m1-41h0m0 29h0m0-2.5h0m2.5 18.5h0m0-17h0m2-10.5h0m0 14.5h0m0-8.5h0m.5-18h0m0 48.5h0m.5-73.5h0m1 25h0m0 7.5h0m0 .5h0m.5-42h0m1.5 54.5h0m0-15.5h0m.5 8h0m0-5.5h0m1-25.5h0m.5 17.5h0m.5-16.5h0m1-2h0m1.5 12.5h0m1 29h0m0-23.5h0m.5-17h0m1 23h0m.5 26h0m2-25h0m1.5 1h0m1.5-43h0m.5 83.5h0m.5-45.5h0m0 11h0m0-23.5h0m1 40.5h0m.5-11h0m0-1.5h0m1.5-20h0m.5-15.5h0m.5-22.5h0m.5 69h0m.5-41.5h0m.5 17.5h0m6-2.5h0m2 12.5h0m.5-4h0m1-4h0m.5 8h0m1.5 14h0m0-48.5h0m1 47.5h0m0-16.5h0m.5 7.5h0m0 7h0m0-5h0m0 16h0m1-11.5h0m.5-41h0m.5 45h0m0-9.5h0m.5-7h0m1.5 12h0m.5 15h0m1-2.5h0m3-13h0m2 4h0m0-22h0m0 29.5h0m0-21.5h0m.5-6h0m2 26h0m1.5-9.5h0m1-10h0m0 18.5h0m0-29.5h0m1 34h0m.5-37h0m0 13h0m.5 26.5h0m0-37.5h0m0-1h0m.5-4.5h0m1.5 7.5h0m0 9h0m1 5.5h0m2-26.5h0m1-6h0m.5 2h0m.5 37.5h0m0-13.5h0m2-33h0m1.5 24h0m0 9.5h0m.5-5.5h0m.5-10h0m.5 5h0m0 9.5h0m.5-25.5h0m.5 9.5h0m1 35h0m0-24.5h0m.5-33h0m.5 11.5h0m0 2.5h0m.5-1.5h0m.5-10h0m1 38h0m0-13.5h0m.5-25.5h0m0 38.5h0m1-13.5h0m0 28.5h0m.5 1h0m.5-26h0m.5-17.5h0m0 49.5h0m.5-12.5h0m1.5-26h0m1-13h0m1.5 47.5h0m1-7h0m.5-6h0m2 8.5h0m.5 19h0m.5-56.5h0m0 4.5h0m0 19h0m1 7h0m0-33h0m.5-15h0m2 65h0m1-51h0m1-14.5h0m0 10.5h0m1 51h0m2-21h0m.5 7h0m.5 1.5h0m1-34h0m0 2.5h0m0 4h0m0-.5h0m1 23.5h0m1-19h0m.5-7h0m.5 68.5h0m.5-28h0m0 12h0m.5 7h0m1-41.5h0m.5 30h0m0 20.5h0m.5-65h0m.5 11.5h0m.5-12.5h0m0 51.5h0m1.5-35.5h0m.5-3.5h0m0-15h0m.5 22.5h0m.5 33.5h0m2-2h0m.5-27h0m.5-6h0m1.5-28.5h0m.5 7.5h0m.5 77.5h0m0-39h0m1-.5h0m.5 22.5h0m1.5-38h0m0 17h0m.5 1.5h0m2 12.5h0m0-62.5h0m0-2.5h0m.5 67.5h0m2-42h0m0-36.5h0m2.5 47.5h0m1-.5h0m0-.5h0m1 48h0m1.5-56h0m0 7.5h0m0-20h0m.5 3.5h0m.5 16.5h0m0-19.5h0m.5 19h0m.5-6.5h0m0-37.5h0m0 50.5h0m0-14.5h0m2.5 16h0m0-6h0m0-27h0m.5-20h0m1 53.5h0m0 0h0m1 7.5h0m.5-8h0m0-12h0m.5 12.5h0m1-28.5h0m1.5 7h0m1 1h0m1.5 13.5h0m.5 3.5h0m2 4.5h0m0-86.5h0m0 84h0m0 24h0m2-72h0m.5 44.5h0m0-46h0m0 29.5h0m.5 32h0m0-38.5h0m.5 9h0m0-12h0m.5-16h0m0 14h0m0 27.5h0m.5 12h0m0 21.5h0m0-24h0m.5-21.5h0m.5 18h0m.5 3.5h0m.5 11h0m.5 .5h0m.5-63h0m.5 11.5h0m1 72.5h0m.5-22h0m0 28h0m.5-58.5h0m1 27h0m0-3.5h0m.5-3.5h0m1-7h0m0 6.5h0m2.5-20h0m0 21.5h0m1.5 6h0m1.5-9h0m1-2h0m2-6h0m0 27.5h0m0-31h0m.5 6h0m0 14.5h0m0 2h0m.5-31.5h0m0 0h0m0-2h0m.5 2h0m0 27.5h0m0-27h0m.5 10h0m1.5 13.5h0m2-6.5h0m.5-13h0m0 19.5h0m1.5-38.5h0m2 31.5h0m.5-53h0m2 .5h0m.5 73.5h0m.5-39.5h0m1-19.5h0m1.5 50h0m.5 5.5h0m0-13h0m.5 14h0m.5-59h0m.5-15.5h0m1 61.5h0m.5-30.5h0m.5 12.5h0m0 33.5h0m0-46.5h0m.5 44.5h0m1-46h0m0 31.5h0m.5 10h0m.5-39h0m1-15h0m.5 7.5h0m0-3h0m.5 35.5h0m2-29.5h0m0 39.5h0m.5-23.5h0m0-33h0m.5 50h0m0 10.5h0m.5-11.5h0m.5 11h0m0-8h0m0-20h0m2 13.5h0m.5-35.5h0m0 41h0m.5-35.5h0m0 1.5h0m1.5 11h0m0 6h0m.5 10h0m1 18h0m2.5-11h0m0 27.5h0m0-34h0m2 18.5h0m1 18.5h0m.5-27.5h0m0-13.5h0m.5-17.5h0m1.5 39h0m0-31h0m.5 35h0m.5-30.5h0m.5 5.5h0m.5-2.5h0m1 22.5h0m.5-13.5h0m0-14h0m0 2.5h0m0 7h0m1 13h0m0 20.5h0m.5-30h0m0 4.5h0m0-31h0m.5 30.5h0m.5-36h0m0 45h0m.5 16.5h0m0-34h0m1 23.5h0m.5 11.5h0m0-11.5h0m1-50.5h0m.5 23.5h0m0 25.5h0m1-24h0m.5-2.5h0m0 31h0m0-38h0m.5 10.5h0m.5 21h0m0-14.5h0m.5 18.5h0m0-47h0m.5 51h0m.5-6.5h0m0-.5h0m1-11h0m0 16.5h0m0-24h0m1 7.5h0m0-12.5h0m1.5 29h0m0-6.5h0m0-26h0m.5 41.5h0m.5-7.5h0m.5-12.5h0m1.5-33h0m.5 17.5h0m0 6.5h0m.5 15.5h0m0-31.5h0m0 20.5h0m1.5-7h0m0 16.5h0m1.5 0h0m0 1.5h0m.5-39.5h0m.5 1h0m1.5 63.5h0m.5-13.5h0m.5-34h0m0 15h0m.5 11.5h0m0-14.5h0m0-13h0m.5 33h0m.5-24h0m0-14.5h0m.5 36.5h0m.5-37h0m.5-25.5h0m0 70.5h0m.5-30h0m.5-27h0m.5 4h0m.5-3.5h0m0 15h0m.5 15h0m0-8.5h0m0-37.5h0m1.5 22.5h0m1.5-13.5h0m.5 53h0m.5 1.5h0m2-59h0m.5 21.5h0m.5 34h0m0-46.5h0m0 11h0m1-.5h0m1 9.5h0m0 18.5h0m.5 14h0m.5-38h0m0 12.5h0m0-10h0m.5 25h0m1.5-30h0m0 37.5h0m1-2h0m0-20.5h0m0 14.5h0m1.5 5h0m.5-63h0m.5 40.5h0m0-40h0m1 47h0m0 44.5h0m.5-41h0m.5-22h0m.5 35.5h0m0 10.5h0m0-38h0m1 8h0m0 14.5h0m0-54h0m0 60.5h0m1-6h0m1.5-29h0m.5 30.5h0m2-5.5h0m0-53.5h0m.5 2h0m.5-3h0m0 34h0m0-21h0m0 26h0m0 12h0m.5-21h0m.5 12h0m.5 17.5h0m.5 8h0m1 0h0m.5-21h0m0-27.5h0m0 3h0m.5-10.5h0m1 33.5h0m0 26.5h0m0 7h0m0-31h0m0 9h0m1.5 15h0m0-62.5h0m1 49.5h0m0-1.5h0m0 .5h0m1.5-31.5h0m.5 18h0m.5-26.5h0m.5 52h0m.5-41h0m.5-27.5h0m1-4.5h0m0 8.5h0m2.5 12.5h0m0 1h0m0 10.5h0m1-10.5h0m.5-11.5h0m0 7h0m.5-13h0m0 14h0m.5 5.5h0m1 2h0m0-28h0m3 4h0m0 20h0m.5-29h0m0 45h0m1-8.5h0m1 2h0m.5 5.5h0m1.5-14.5h0m0-.5h0m.5 9.5h0m0-19.5h0m0-28h0m.5 46.5h0m0-43h0m0 11h0m.5 24h0m.5 9.5h0m.5-23.5h0m1.5 32h0m0-2h0m.5-19.5h0m0 10.5h0m0-5h0m.5 26.5h0m1-10.5h0m.5 9.5h0m.5-6h0m1 3h0m0 18h0m2.5 4.5h0m0-18h0m2 16.5h0m2.5-31.5h0m1.5-32.5h0m0 43.5h0m0 2h0m0-63h0m.5 25.5h0m0 37.5h0m.5-3h0m0-25h0m0-4.5h0m.5 9h0m1 21.5h0m2.5-40.5h0m0 34.5h0m.5-43.5h0m.5 7h0m0 32h0m0-32h0m1 50.5h0m.5 12.5h0m2-39.5h0m1 18h0m2-17h0m0 10.5h0m1.5 25h0m1.5-72.5h0m.5-2.5h0m0 68h0m0-21h0m1-12.5h0m0-5.5h0m0 20h0m.5 40.5h0m0-39h0m.5-42h0m.5 28.5h0m2.5-16h0m0 69.5h0m.5-78h0m.5 33h0m.5-38.5h0m2.5 8.5h0m.5 31h0m.5 11h0m0-43.5h0m1 15.5h0m.5 11.5h0m.5-1.5h0m1 6h0m1-22h0m0-22.5h0m.5 17.5h0m2 43h0m1.5-44.5h0m1 12.5h0m1-44h0m.5 79h0m1 6.5h0m1-45.5h0m.5 10h0m0 20.5h0m.5-56.5h0m.5 75h0m1-32h0m0-8.5h0m0 4h0m1.5 45h0m.5-36h0m0 15h0m2-35.5h0m0 13h0m.5 7.5h0m0 6.5h0m.5-25.5h0m.5 39h0m.5-38h0m.5 2.5h0m0-21h0m.5 72h0m0-54.5h0m.5 59h0m1-20.5h0m0-6h0m1 26.5h0m.5-17h0m.5-14.5h0m0-1h0m0-40.5h0m1 24.5h0m.5 17.5h0m.5 7h0m0-13h0m.5 9.5h0m.5 7.5h0m.5-19h0m.5-33h0m.5 64.5h0m1-65.5h0m.5 20.5h0m.5 40.5h0m.5-21.5h0m0-24.5h0m.5 6h0m0 29.5h0m1 9h0m.5-59h0m1.5 59.5h0m.5-37h0m0-24h0m.5 51.5h0m.5 41.5h0m.5-67.5h0m0-21.5h0m0 87.5h0m.5-79.5h0m1 34h0m0 37h0m1.5-5.5h0m3-78.5h0m0 43.5h0m0 15.5h0m.5-36.5h0m0 11h0m.5 6h0m.5-35.5h0m2.5 27h0m0-7.5h0m0 41.5h0m0-17.5h0m1 33.5h0m.5-55.5h0m0-23.5h0m0 46h0m1-34h0m0 7.5h0m1 4.5h0m0 26.5h0m.5-41.5h0m.5-22h0m0 12.5h0m.5-14.5h0m1 51h0m0-51h0m1-.5h0m0 51.5h0m.5-25.5h0m.5-23.5h0m0 40h0m0 9h0m0-39.5h0m1-4.5h0m.5 54.5h0m0-15h0m.5 21h0m1.5-23.5h0m.5-47h0m0-.5h0m0 69h0m1-38.5h0m1 9.5h0m.5 1.5h0m0-24.5h0m0 4h0m.5 27.5h0m1 22h0m0-48h0m0 19h0m0-6.5h0m.5-23h0m0 46.5h0m.5-5h0m.5-63h0m1 77.5h0m0-56h0m.5 18.5h0m0 25.5h0m.5-58.5h0m0 37h0m.5 16.5h0m0-2h0m0 29.5h0m.5-36h0m0-38.5h0m.5 64h0m0-54h0m0 14.5h0m1.5 12.5h0m.5-29h0m1 59h0m.5-6h0m.5-43h0m.5 43h0m0-50h0m0 56h0m.5-56h0m.5 22h0m.5-13.5h0m.5 25h0m0 8.5h0m2 2.5h0m.5-63.5h0m.5 20h0m0 4h0m.5 8h0m2.5-11.5h0m0 33h0m1-8h0m1-18h0m.5-7h0m0 13h0m0 18.5h0m0-27.5h0m.5 29.5h0m.5-26.5h0m.5 29h0m1-8h0m.5 10.5h0m0-16h0m.5 2.5h0m0-10h0m.5-25.5h0m.5 28h0m1-1.5h0m0-8h0m0 15h0m.5-16h0m0 12h0m1 0h0m.5-18.5h0m.5 6.5h0m1.5 51h0m.5-40.5h0m0-21.5h0m1.5 46.5h0m1.5 2h0m1 4h0m0 8.5h0m2.5-67h0m.5 10.5h0m.5 30h0m.5 .5h0m1 21.5h0m.5-50h0m.5 18.5h0m1-10.5h0m.5-12h0m0 21.5h0m.5 21h0m.5-17.5h0m0 30h0m.5-32.5h0m2-13h0m0-10.5h0m.5 37h0m1-1h0m0 16.5h0m0-2.5h0m0-9.5h0m1 23h0m0-20.5h0m0-48.5h0m0 59h0m1 7h0m0-4h0m1 5.5h0m0-41h0m1.5 60.5h0m0-59.5h0m.5-5.5h0m0-22h0m.5 58.5h0m0-46.5h0m0 42h0m.5-6.5h0m.5-11h0m0-49.5h0m.5 54.5h0m2 9h0m1-44.5h0m0 26h0m.5 25h0m1.5-26.5h0m0 12.5h0m.5-22.5h0m3-12.5h0m0-3h0m2 15.5h0m0 17h0m0 28h0m0-35h0m.5 10.5h0m1-14h0m.5 9h0m.5 7.5h0m.5 30h0m1-.5h0m0 6h0m2.5-20h0m0 7.5h0m.5 5h0m1.5-21h0m.5 22.5h0m1-8h0m1.5 19.5h0m0-70h0m2.5 57h0m0 6h0m0-40.5h0m.5 16h0m0-51.5h0m0 19.5h0m1 17h0m.5 0h0m.5-13.5h0m.5-13.5h0m0 17.5h0m2.5 53.5h0m.5-45.5h0m0 26h0m.5-8h0m1.5-1.5h0m.5-36h0m.5 52.5h0m0-25h0m1.5 15.5h0m.5-42.5h0m1 16h0m0-26h0m0 27h0m0-17h0m.5 4h0m1.5 5h0m0 12h0m.5-7.5h0m0-1h0m2-40h0m0 61h0m0-37h0m0 27.5h0m1 5.5h0m0 22h0m2 5h0m0-41.5h0m0 35h0m0-32.5h0m.5-24h0m0 2.5h0m1-4h0m1.5-4.5h0m.5 8h0m.5 61h0m0-16h0m1.5 16h0m0-4h0m.5-46h0m0 45h0m0 24.5h0m0-73h0m0-17.5h0m.5 78.5h0m0 5.5h0m1.5-101h0m0 83.5h0m.5 15.5h0m0-30h0m0-47.5h0m0-6h0m2 3.5h0m0 57.5h0m0-54h0m.5 67.5h0m.5 3.5h0m2-67.5h0m0 40.5h0m.5-28h0m0-18.5h0m1.5 15h0m.5 19h0m.5 27h0m.5-43.5h0m1 38h0m1-42.5h0m1.5 9h0m1.5 44.5h0m1.5-45h0m1 52h0m1-46h0m.5-23h0m1.5 4h0m0 40h0m0 8.5h0m0 4.5h0m1.5-49h0m1 43.5h0m.5 1.5h0m1.5-37h0m1 7h0m.5 46h0m0-80.5h0m0 62.5h0m1-58h0m.5 40h0m0-29.5h0m.5-17.5h0m0 85h0m.5 15.5h0m1-70.5h0m1 43.5h0m0-38h0m0 48h0m.5-26.5h0m.5-50h0m0 57.5h0m0-12.5h0m.5 27h0m1-86h0m.5 47h0m1.5 11.5h0m.5-57h0m.5 23.5h0m0 18h0m4 41.5h0m.5-93h0m.5 78h0m0-78.5h0m0 19.5h0m1 6h0m0 24h0m0 24h0m.5-17.5h0m.5 14h0m0-57h0m.5 92h0m.5-20h0m.5-8h0m.5-64.5h0m4 6h0m0 30.5h0m.5 1h0m.5 32h0m0-55h0m.5 46.5h0m.5-32.5h0m.5 35h0m0-35.5h0m1.5 47.5h0m.5-39h0m2.5 12h0m1 22.5h0m0 1h0m1.5-25.5h0m0 36h0m1-18.5h0m1-20h0m1.5 21h0m.5-34h0m0 23h0m0-60.5h0m1 19h0m.5 61.5h0m0-35h0m1.5-19h0m1-26.5h0m1 13h0m1 48h0m1-46.5h0m.5 61.5h0m0-26h0m.5 23.5h0m0 19h0m0-33h0m1.5 24.5h0m.5-26.5h0m.5 49.5h0m2-56.5h0m1-27h0m.5 51h0m0 14h0m1-3.5h0m0-22.5h0m.5-27.5h0m.5-6.5h0m0 28.5h0m1-60.5h0m0 8.5h0m0 28h0m2.5 53h0m0-17h0m0 13h0m0-15.5h0m.5 45h0m0-22h0m.5 6h0m2.5-21h0m0-67h0m.5 57h0m1.5-14.5h0m.5-35h0m1 27h0m0-7h0m1.5 33.5h0m0 6.5h0m.5-20h0m0-38h0m1 37h0m.5-19h0m0 25h0m0 13.5h0m0-42h0m0-18h0m0 32h0m.5 22.5h0m.5-17h0m1 19.5h0m.5-14.5h0m1-34.5h0m0 20h0m.5-2h0m0 22.5h0m1-36.5h0m.5 2h0m.5 23.5h0m1.5 22.5h0m2-49.5h0m1 8h0m0 3h0m0 36.5h0m.5-33h0m1 60h0m.5-18h0m.5-33.5h0m2.5 40.5h0m.5-5.5h0m.5 8.5h0m3-17h0m.5 2h0m.5-6h0m.5-7.5h0m2.5 53h0m1.5-36h0m0 24.5h0m.5-50h0m0 0h0m1-20h0m0 58.5h0m1-46.5h0m.5-24h0m1 11.5h0m.5 45.5h0m.5-71h0m1 59h0m1.5-33h0m.5-6.5h0m0 34h0m.5-47h0m1 24h0m0 5h0m.5-15h0m1 25h0m.5 19.5h0m.5-22.5h0m0 35.5h0m1-66.5h0m0 12h0m.5 47h0m.5-48.5h0m.5 50h0m0 6h0m.5-20.5h0m0-38h0m.5 16.5h0m2.5-6h0m1 9.5h0m.5 4.5h0m.5 38h0m0-21.5h0m.5-12.5h0m0-25.5h0m.5-3h0m0 51.5h0m0-9.5h0m.5-22.5h0m0 25.5h0m0 4.5h0m.5 9.5h0m0-13h0m.5-45.5h0m.5 48.5h0m0-20h0m2-17h0m.5-9.5h0m.5 67h0m1-87.5h0m1.5 21.5h0m0 18.5h0m.5-3.5h0m0-14h0m0 30.5h0m0-20.5h0m0-18.5h0m.5-6.5h0m0 29h0m0 19h0m.5 6.5h0m1-5.5h0m0-26.5h0m.5 33.5h0m0-10.5h0m0-12.5h0m.5-32h0m.5 21h0m.5 6h0m0-20h0m1.5 28h0m.5-4h0m0 26.5h0m.5-38.5h0m.5-11.5h0m0 48.5h0m.5-56h0m.5-2.5h0m0 54h0m.5-37.5h0m.5 4.5h0m1.5 24h0m1 6h0m1.5-27h0m.5-36.5h0m.5 10.5h0m0 31.5h0m1.5 30h0m1-52h0m0-15.5h0m1 10.5h0m.5 16.5h0m0 1.5h0m1.5 44.5h0m2.5-75.5h0m0 13h0m1 46h0m2-46h0m1-5.5h0m0 54h0m.5-1h0m.5-41.5h0m1 63h0m.5-37.5h0m3-44h0m.5 48.5h0m.5-20.5h0m0 7h0m.5 34.5h0m0-25h0m1.5 30h0m.5-19h0m0-9.5h0m1.5-10h0m0 19h0m.5-8.5h0m.5 20.5h0m0-41h0m0-4.5h0m1 45.5h0m1 6h0m1-10.5h0m.5-34h0m0-7.5h0m2-6.5h0m0 30h0m0 13h0m.5 4.5h0m1 4.5h0m0-9.5h0m0-37.5h0m3 6h0m1 51h0m.5-51h0m0 55h0m.5-45.5h0m.5 34h0m.5-17.5h0m1 4.5h0m1.5 21.5h0m.5-16h0m.5-1.5h0m0-25.5h0m.5 34h0m1.5-41h0m.5-16.5h0m0 36h0m0-39.5h0m0 51.5h0m1.5 17h0m1-35.5h0m0 16h0m3.5 14h0m0-37.5h0m0 60.5h0m.5-62.5h0m0 10.5h0m0 45.5h0m1-69.5h0m.5 61h0m0-60.5h0m0-12.5h0m0 35.5h0m0 14.5h0m.5 23.5h0m0 3.5h0m.5-63h0m0-14h0m.5 11h0m.5 40h0m.5-10h0m0-22h0m.5-20.5h0m0 66.5h0m.5 1.5h0m0-20.5h0m0-13h0m1.5 15.5h0m.5-12h0m0 29.5h0m.5-11.5h0m.5 1.5h0m.5-38.5h0m0 54h0m0-30h0m1.5-1h0m3-15h0m1.5 9.5h0m1.5 58.5h0m0-109h0m.5 66h0m0 29.5h0m1 17.5h0m0-18h0m1.5 4h0m0 15h0m.5-51.5h0m0 20.5h0m.5-9.5h0m0 7h0m0-28h0m0-5h0m1 41.5h0m.5-12h0m2-20h0m.5 20.5h0m0 15.5h0m.5-35.5h0m0-38.5h0m.5 5h0m.5 13.5h0m0-5h0m.5 32.5h0m.5-23.5h0m1 20h0m0-32h0m.5 18.5h0m1-13.5h0m.5 39h0m0-33.5h0m0 20h0m1.5 39.5h0m.5-42.5h0m.5 6h0m0-22h0m.5 1h0m0 43.5h0m0-45.5h0m0-19.5h0m0 41h0m1.5 11.5h0m0-8h0m0 7.5h0m1-20h0m.5-34.5h0m.5 8h0m.5 40.5h0m0 17h0m0-65h0m.5 44h0m2-21h0m.5 60.5h0m1.5-33h0m.5 13.5h0m0-67.5h0m1 38h0m.5 36.5h0m.5-9.5h0m.5-36.5h0m0 6h0m0-1h0m.5 17.5h0m1.5 28.5h0m0-16h0m1.5-5h0m.5 10h0m.5 0h0m.5 4h0m1-31.5h0m.5 25h0m0-29h0m0 25h0m1-45h0m.5 37.5h0m.5-19h0m0-7.5h0m3 7h0m1-8.5h0m0 19h0m0-27.5h0m1 24h0m0-9.5h0m0 17h0m.5-14h0m1-22h0m0 30h0m.5-28h0m.5 14h0m.5 17.5h0m1-37h0m0 55h0m1.5 5h0m1-73h0m.5-6.5h0m0 23.5h0m.5 15h0m0-20.5h0m.5 62.5h0m0-71.5h0m1 16h0m1 43h0m.5-33.5h0m0 51h0m1-21h0m.5-53h0m2 60.5h0m1.5-11.5h0m.5-14.5h0m.5 5h0m0 9h0m1 30h0m.5-20.5h0m0-40.5h0m.5 25.5h0m2 2.5h0m.5-20h0m0 9.5h0m.5 19h0m.5-20h0m0-32.5h0m.5 14h0m0 4h0m1 20.5h0m.5 10h0m1-14h0m.5 5h0m.5-16h0m0 32h0m1-15h0m1.5-19h0m.5 16.5h0m2-18h0m1-16.5h0m2 24.5h0m0 27.5h0m.5-44h0m0 29.5h0m.5 0h0m0-44.5h0m1 22.5h0m2-12.5h0m0 3.5h0m.5 16.5h0m0-9.5h0m0 28h0m.5 18h0m.5-48h0m1 50h0m.5-23h0m1-31.5h0m0-20h0m.5 18.5h0m0 38.5h0m.5-2h0m0-3.5h0m1-10.5h0m0 25h0m.5-29.5h0m0 32h0m0-13.5h0m23 3.5h0m.5-18h0m.5 16.5h0m.5-16h0m.5-2h0m1 31h0m0-17.5h0m.5 11.5h0m.5-26.5h0m0 38.5h0m.5-40h0m0-5.5h0m1.5 52h0m.5-41.5h0m0 11h0m1.5 13h0m0 19.5h0m.5-13.5h0m2-7h0m0 21.5h0m.5-32h0m3.5-20.5h0m.5 42.5h0m0-7h0m0-33.5h0m.5 17.5h0m.5-6.5h0m.5 14h0m.5 6.5h0m0-49.5h0m.5 26h0m0-23.5h0m.5 41h0m0 22.5h0m0-33.5h0m.5 19.5h0m0-52.5h0m1 53.5h0m1 13.5h0m.5-23.5h0m0-3h0m1-25h0m0 33h0m.5-45h0m.5 5h0m.5 3h0m.5-10h0m0 44h0m1 30h0m.5-52.5h0m.5 10h0m0 19.5h0m.5-55h0m0-4.5h0m1 62.5h0m0-4.5h0m0-44.5h0m0 11.5h0m.5-20h0m0 83.5h0m.5-29.5h0m.5-17h0m.5-.5h0m0 23.5h0m.5-44.5h0m0 4h0m0 4.5h0m.5 28h0m0-5.5h0m1-40.5h0m0 25.5h0m.5-24h0m.5 38.5h0m.5-37.5h0m0 32.5h0m.5 16.5h0m.5 16.5h0m2-54h0m.5 22h0m.5-56.5h0m.5 43.5h0m.5 7.5h0m.5-10h0m.5-10h0m.5-11h0m1 44.5h0m0-34h0m1.5 29h0m0-35h0m.5 54.5h0m0-69h0m1 59.5h0m.5-25h0m1-17h0m.5 9.5h0m0-4.5h0m.5 33h0m0-41h0m1-22h0m2 30.5h0m.5 13.5h0m1.5-22.5h0m0 39.5h0m.5-24h0m0-9.5h0m.5 20.5h0m.5-14h0m0-14.5h0m0 22h0m.5-.5h0m1 17.5h0m0-13h0m.5-24.5h0m0 3h0m.5-9h0m0 15.5h0m.5-22h0m1 47h0m0-1h0m.5-21.5h0m0 16h0m1 16.5h0m0-11h0m.5-51.5h0m.5 45h0m1.5 3.5h0m.5-47.5h0m.5 23h0m.5-4.5h0m2.5 30.5h0m.5-49h0m0 38h0m.5 14h0m0-16.5h0m0-14.5h0m0-2h0m1-4h0m2.5 20h0m.5 2.5h0m0-36.5h0m.5 25h0m.5 3h0m0-14.5h0m1-15h0m0-2.5h0m1 38.5h0m0 28.5h0m1.5-1.5h0m0-62.5h0m2 75h0m0-32h0m.5-14.5h0m0-18.5h0m0 57.5h0m.5-54.5h0m.5 79h0m0-52.5h0m0-18h0m.5 17h0m0-29h0m.5-8h0m0 37.5h0m.5 15h0m0-58.5h0m.5-10h0m0 69.5h0m.5 22.5h0m.5-7h0m.5 7.5h0m.5-45.5h0m0 12.5h0m1 7h0m1.5-33h0m0 30h0m.5 6.5h0m0 1h0m1-40.5h0m1.5-1.5h0m.5 60.5h0m.5-48.5h0m0 14h0m1-25.5h0m0 48.5h0m.5-24h0m.5 16h0m0 19.5h0m.5-4h0m1-22h0m1 1h0m0-3h0m0 20h0m.5 7.5h0m0-4h0m1-31.5h0m.5 35h0m0-27.5h0m1-39.5h0m2 45h0m1.5 19.5h0m.5-40h0m1 14.5h0m0 30.5h0m0-35.5h0m.5-7.5h0m.5-8h0m0 38.5h0m1.5-24h0m1-5h0m0-18h0m.5 62.5h0m0-4.5h0m1-13.5h0m.5-31h0m1 36.5h0m0-34.5h0m.5 40.5h0m.5-22.5h0m.5-30h0m0 13h0m1.5 27h0m.5-3h0m0 3h0m2 16.5h0m0-38h0m1-9.5h0m.5-1h0m0-23.5h0m.5 9h0m0 44h0m1-7h0m0-11h0m0 28.5h0m1-1.5h0m0-38.5h0m.5-4.5h0m1 19.5h0m.5 35.5h0m.5-17h0m0-15h0m.5 5.5h0m0 8h0m.5 5h0m.5-12.5h0m0-39h0m0 64h0m.5-66.5h0m.5 15h0m0 36.5h0m0-9h0m.5-46.5h0m1-4.5h0m.5 65.5h0m.5-61h0m1 63.5h0m0-45.5h0m1 33.5h0m.5 5h0m0-22h0m.5-7h0m0-9h0m.5 41.5h0m.5-46h0m.5 4.5h0m.5 34.5h0m.5-9h0m1.5-14.5h0m0-33h0m.5 21h0m1-9h0m1 37.5h0m1.5 16h0m1.5-27h0m1.5 44h0m3.5-55.5h0m.5 10h0m.5-25.5h0m.5 27.5h0m1 2h0m0 10h0m0-17.5h0m1 20h0m.5 7.5h0m1-71.5h0m.5 41h0m0-34.5h0m1 52.5h0m.5-5.5h0m0-15.5h0m.5-35h0m.5 51.5h0m.5-42.5h0m2 13h0m0-8.5h0m0-10h0m.5 16.5h0m1 16.5h0m.5-38h0m.5 48h0m0-45.5h0m.5 49.5h0m0-13.5h0m0 13.5h0m1-21.5h0m0 2.5h0m1 17h0m1.5-22.5h0m0-35.5h0m1 32h0m.5-17.5h0m0 44.5h0m.5-54.5h0m0 17.5h0m1.5 50.5h0m.5-6h0m0-60.5h0m1.5 36h0m.5 42h0m0-29.5h0m1.5 26h0m1-52h0m2 51.5h0m.5-50h0m1-1h0m1.5 22h0m0-13.5h0m0 35h0m.5-17h0m.5-33.5h0m0 18.5h0m1-30h0m.5 61.5h0m2 1.5h0m2.5-27.5h0m.5 23.5h0m0 8.5h0m1-34.5h0m.5 0h0m1 21h0m2-43h0m0 .5h0m.5-19.5h0m.5 80h0m1-28h0m1.5-29.5h0m.5-17h0m1 60.5h0m.5-18h0m.5 4h0m0-10h0m1.5-31.5h0m0 24.5h0m.5 11.5h0m0 13.5h0m.5-28h0m0-18.5h0m3 73h0m.5 16h0m1-55h0m.5-4h0m0-22.5h0m.5 16h0m.5-23h0m0 70h0m.5 .5h0m0-58.5h0m0 40.5h0m.5-20h0m0 3.5h0m0 8h0m2 6h0m.5-16h0m.5-25h0m0 40h0m.5-13h0m.5-3.5h0m.5 14h0m1-3.5h0m0-11h0m1-17h0m.5-4.5h0m0 20h0m.5 22.5h0m0-26.5h0m.5 6.5h0m1.5-27.5h0m0-8h0m.5 29.5h0m.5 26h0m1-24.5h0m.5-21h0m0 35h0m0-2h0m0 10.5h0m.5 20h0m0-24h0m1.5-3h0m2 10.5h0m0-31.5h0m1 5h0m0 9h0m1 17.5h0m.5 24.5h0m0-29.5h0m.5-7.5h0m0 18h0m.5-9h0m1-15h0m.5 13.5h0m1 25h0m0-16h0m1 11h0m.5-20.5h0m.5-54.5h0m.5 63h0m.5 27h0m.5-77h0m.5 55.5h0m2-45.5h0m0 8h0m0-14.5h0m.5 58.5h0m.5-57.5h0m0 58.5h0m.5-20h0m0-10h0m0-9.5h0m0 17.5h0m.5-31h0m1.5-7h0m0 25.5h0m1 10.5h0m1 22h0m0-49h0m1 10h0m.5 28h0m.5-40h0m0-12.5h0m2 44.5h0m.5-34.5h0m1.5 54h0m.5-44.5h0m1.5 47.5h0m0-51.5h0m0 10h0m.5 12.5h0m0 29h0m1-7h0m0-50.5h0m2 19.5h0m1.5 24h0m.5-36h0m1 63.5h0m.5-58h0m.5 12h0m1.5-32.5h0m.5 56.5h0m0-46.5h0m.5 38.5h0m1-42.5h0m1 42.5h0m0-51h0m1.5-8.5h0m0 19h0m.5-1h0m.5 16h0m1.5 25h0m0-27.5h0m2.5-33.5h0m0-9h0m0 19h0m.5-8h0m0 45h0m0 23h0m.5-48h0m0-28.5h0m.5 57h0m0-48h0m0 1.5h0m.5 31h0m1-4.5h0m.5 19h0m.5-14h0m1-1.5h0m.5 43.5h0m0-75h0m.5 53h0m.5-45h0m0-.5h0m.5 62h0m.5-18h0m1-30.5h0m1.5 10.5h0m.5-35.5h0m0 49.5h0m1 25h0m.5-19h0m.5-34h0m1 24h0m0-5.5h0m.5 34.5h0m.5-37h0m0 24.5h0m2-3h0m0-26.5h0m.5 41h0m.5-46h0m2.5 28h0m0 4h0m0-17h0m0 7.5h0m0-26h0m1 76.5h0m.5-73.5h0m.5-11.5h0m1.5 64.5h0m.5-44.5h0m1-9.5h0m.5 41h0m.5-23h0m0 34.5h0m1.5-40h0m0 4.5h0m.5 27h0m1.5-22.5h0m0-20h0m.5 3.5h0m0 12.5h0m1-14.5h0m0 37.5h0m1-8.5h0m.5-6h0m.5-19.5h0m0 28.5h0m0-11h0m0 31h0m1.5-48h0m.5 16h0m0-12.5h0m.5 34.5h0m1.5-54h0m0 55h0m2-20.5h0m0 .5h0m1 16h0m.5-66h0m.5 22h0m1 3.5h0m0 43h0m2 9.5h0m.5 1.5h0m.5-4h0m.5-47h0m.5 38.5h0m.5 20h0m.5-77.5h0m0 39.5h0m1 24.5h0m.5-74.5h0m.5 17h0m0 75h0m1.5-50h0m0 10h0m4-3h0m.5 29h0m.5-2h0m1.5 5h0m.5 12h0m0-45.5h0m.5 12h0m.5 3h0m0-10.5h0m0 8h0m.5-5h0m0-8.5h0m.5-16h0m.5 57h0m0-62h0m2 37h0m0 40h0m.5-41.5h0m0-24h0m.5 51.5h0m0-33h0m.5 2.5h0m0-20h0m.5 9.5h0m0 28.5h0m.5 1h0m0-10h0m.5-15h0m.5 1h0m.5-5.5h0m0 38.5h0m2-36h0m.5 8.5h0m0-6.5h0m.5-24.5h0m0-15h0m0 60.5h0m2-42h0m.5-12h0m.5-8h0m0 60h0m.5-73h0m0 24.5h0m1.5 41.5h0m.5-20.5h0m1 24.5h0m.5-5h0m0-37h0m.5 67.5h0m.5-22h0m.5-56h0m.5 69h0m.5-31h0m0-52.5h0m1 50h0m0-21h0m1-28h0m.5 73.5h0m0-77.5h0m1 83.5h0m.5-12h0m.5-77.5h0m.5 22.5h0m1-14h0m0 88h0m.5-58.5h0m.5 19.5h0m3-30.5h0m1 48.5h0m1 12.5h0m0-76h0m.5 21h0m.5 13h0m.5-25h0m.5 45.5h0m0 21.5h0m0-88.5h0m.5 62.5h0m1-59h0m0 16h0m.5 35.5h0m0 40h0m0-19.5h0m2.5-18.5h0m0-36.5h0m0 34.5h0m1.5-16h0m.5-16h0m.5 31.5h0m.5 26h0m.5-24h0m0-5.5h0m0-47h0m1 28.5h0m1 43.5h0m18.5-30.5h0m.5 4.5h0m.5-38h0m.5 49h0m1.5-10.5h0m.5-21.5h0m1 9h0m.5-25h0m.5 49.5h0m0-43h0m.5 9.5h0m1.5 28.5h0m.5 47h0m.5-24h0m.5-70h0m0 22.5h0m0 13h0m.5-34h0m1.5 4h0m1 61.5h0m2-10.5h0m0-34.5h0m.5 11.5h0m1.5 0h0m0 24h0m1-15.5h0m.5-19.5h0m.5 32h0m.5 20.5h0m0-54.5h0m1 24.5h0m0 6.5h0m.5 10h0m1-31h0m0 17.5h0m2-22.5h0m0-4h0m.5 71.5h0m1.5-21h0m1 13h0m0-62h0m0 3.5h0m.5-3.5h0m0 36.5h0m.5 1h0m0-27.5h0m0 14.5h0m.5-10h0m0-16h0m.5-5h0m0 28h0m0 5h0m.5 18.5h0m.5-45h0m0 25h0m0-5.5h0m0 46h0m0-52h0m.5 37h0m0-41.5h0m.5 25h0m0 .5h0m.5 8.5h0m1 17.5h0m0-24.5h0m1-15.5h0m.5 6.5h0m.5-6.5h0m0 1.5h0m0 2.5h0m1-12.5h0m0 22.5h0m1 21h0m0-14h0m.5-19.5h0m2.5 27.5h0m.5-24h0m1.5 30.5h0m0-20.5h0m.5-15.5h0m0 37.5h0m0-42.5h0m0 28.5h0m.5 2.5h0m.5-16h0m.5 11h0m0 14h0m0-15h0m0-14.5h0m.5-4h0m0 18.5h0m.5-32.5h0m0 33h0m0-15h0m1-19.5h0m0 45.5h0m.5-49.5h0m1 37.5h0m1.5-24.5h0m.5-1h0m.5 5.5h0m0 30.5h0m.5-27h0m.5 24.5h0m.5 6h0m.5-3.5h0m.5-14h0m1-36.5h0m0 5.5h0m.5 20h0m.5-25h0m0 35.5h0m.5-30h0m1 35.5h0m.5 2h0m2.5-10.5h0m.5-29h0m1 17.5h0m1.5-21.5h0m0 18.5h0m0-34.5h0m.5 11.5h0m.5 18.5h0m.5-28.5h0m0 50.5h0m.5-35h0m0-9h0m1 39.5h0m0-27h0m0 2h0m0-16.5h0m0 42.5h0m1-23.5h0m0 6.5h0m.5-21h0m.5-12.5h0m.5 58h0m1.5-62.5h0m1.5 27.5h0m1 53h0m0-45.5h0m1 40h0m0-21.5h0m.5 6h0m.5-3h0m0-27h0m0 29h0m.5-2h0m0-38h0m17-1h0m.5 32h0m0 26.5h0m.5 1.5h0m.5-31.5h0m.5-19h0m1 20h0m0-.5h0m2 9.5h0m.5 8.5h0m0-61.5h0m0 35h0m2.5 17.5h0m.5-51.5h0m0-11h0m1 23h0m1.5 23h0m.5 30.5h0m.5 10h0m0-39h0m1 35h0m.5-36h0m.5 37.5h0m0-33h0m.5 19.5h0m.5 3h0m.5 6.5h0m1-25h0m1.5-11h0m0 34h0m1.5-12.5h0m1-46h0m.5 22h0m1 17h0m0-23h0m1 26h0m.5-46h0m.5 .5h0m.5 8h0m.5 37.5h0m.5-16.5h0m1-24.5h0m0 15h0m0-13.5h0m0 40.5h0m.5 7h0m0 9.5h0m.5-6.5h0m1 9h0m.5-7.5h0m.5-21h0m.5-35.5h0m0 37h0m.5-4h0m0-19.5h0m0 29h0m2.5-37.5h0m.5-3.5h0m.5 37.5h0m0-49h0m.5 24h0m0-30h0m2 22h0m0-21.5h0m1 27h0m0-12h0m.5 18.5h0m.5-2h0m1-14h0m.5 11.5h0m1.5 25h0m0 10h0m0-23.5h0m.5-7.5h0m.5 28h0m0-29.5h0m.5 52h0m.5-22.5h0m1-21h0m0 19h0m0-28h0m.5 34.5h0m0-7h0m1-45.5h0m0 11h0m1.5 47.5h0m0-6.5h0m.5-21h0m.5-4h0m0 34h0m.5-27h0m.5 36h0m.5-20h0m.5-28.5h0m.5-24.5h0m0 9.5h0m.5 27.5h0m1.5-17h0m.5 37.5h0m.5-36h0m4-33h0m1.5 17.5h0m0 52.5h0m.5-66h0m0 51.5h0m.5-20h0m1-23h0m0 34.5h0m.5-10h0m.5 32.5h0m0-39.5h0m.5 24h0m.5-20h0m19-5h0m0 3.5h0m.5-17.5h0m0-1.5h0m.5-13h0m0 62.5h0m1.5-18h0m1.5-32h0m0 52h0m0-29h0m.5-6.5h0m1 26.5h0m.5 22.5h0m.5-28h0m.5 22.5h0m0-27.5h0m0 16h0m1-7.5h0m.5 16.5h0m.5-15.5h0m2.5 1h0m1 2h0m0-24h0m0 4h0m1-17h0m.5 14h0m.5 49.5h0m.5-21h0m.5 29h0m0-23.5h0m.5-41h0m0 35.5h0m.5-25.5h0m.5 1h0m.5-4h0m.5-30h0m0 17.5h0m1.5 44h0m0 20h0m1-40.5h0m.5-11.5h0m1.5-17h0m0 34.5h0m0 11.5h0m1 28.5h0m.5-32h0m.5-4.5h0m2 34h0m.5-77.5h0m1 5h0m.5 70h0m.5-33.5h0m1 33.5h0m1-13.5h0m.5 .5h0m0-10h0m0-49.5h0m.5 36.5h0m.5 20.5h0m0-.5h0m.5-54.5h0m0 64h0m.5-16h0m.5-23h0m.5 36h0m0-53h0m.5 27.5h0m.5 21.5h0m1-49h0m.5 3h0m.5 86.5h0m1-40.5h0m0 25h0m.5-79h0m.5 5h0m0 14h0m.5 20h0m.5 33.5h0m.5-34h0m.5-46h0m.5 69.5h0m1-58h0m0 15h0m0-4.5h0m1 33h0m2-47h0m0 25.5h0m1-31.5h0m1.5 22.5h0m0 47h0m.5-51.5h0m.5 43h0m.5-38h0m0-23.5h0m.5 51h0m0-30.5h0m0 51h0m0-6.5h0m1-21h0m1-53.5h0m1 29.5h0m0-4.5h0m.5 36h0m.5 27.5h0m1-27h0m0-1.5h0m.5-8.5h0m2.5 19h0m.5-54h0m.5 47h0m0 28.5h0m.5-20.5h0m1-25h0m.5 34h0m1-32.5h0m.5-8h0m.5 12h0m0 7.5h0m0-10h0m3.5-17.5h0m.5-26h0m.5 68h0m1-37.5h0m1 23.5h0m0-11h0m.5-14h0m.5 2.5h0m2 17.5h0m1-35h0m.5-19.5h0m1 48.5h0m0-39h0m1.5 10.5h0m.5 36h0m0-31h0m0-23.5h0m.5 37h0m1-11h0m.5 12.5h0m0-41.5h0m.5 5.5h0m.5 34.5h0m.5-14.5h0m0-21.5h0m0 0h0m0-4h0m.5 2.5h0m0 45.5h0m.5-21h0m1.5 27.5h0m0-40.5h0m0 25.5h0m0-17.5h0m1 4h0m0 22.5h0m10.5-17.5h0m1 13h0m.5-17h0m.5 9h0m2.5-43.5h0m1 51.5h0m1.5-1.5h0m0-37h0m1 78.5h0m0-23.5h0m1-59h0m.5 59.5h0m.5-20.5h0m.5 14h0m1-47h0m1 51.5h0m0-54.5h0m0 59.5h0m0-21h0m.5-37.5h0m.5 38h0m0 23h0m.5-60h0m.5 21.5h0m1 40.5h0m0-63h0m.5 4h0m0 53.5h0m0-18.5h0m1-25.5h0m0-2h0m.5 25.5h0m1 0h0m0 8.5h0m.5 21h0m.5-16h0m.5 2h0m.5-8h0m.5-33.5h0m1 19h0m.5-3.5h0m0-32h0m0 9h0m1.5 34.5h0m0-31.5h0m.5 3.5h0m1-5.5h0m0 36.5h0m2 18h0m0-31h0m.5 5h0m1-18.5h0m.5 26h0m1-36.5h0m1 10.5h0m1.5-17h0m0 55h0m.5-54.5h0m1 13h0m.5 21.5h0m0 33.5h0m.5-47.5h0m0 1h0m.5 18h0m1.5 2.5h0m1 21.5h0m.5-61h0m0-10h0m0 49.5h0m0 49h0m1.5-59.5h0m.5-25.5h0m1.5 23.5h0m0-22.5h0m.5 18h0m.5 47.5h0m.5-23.5h0m0-8h0m1.5-25h0m0-17h0m0 15.5h0m.5 14.5h0m.5-39h0m.5 65.5h0m.5-9h0m.5 8h0m.5-30.5h0m0-31h0m.5 62h0m0-53.5h0m.5 13h0m.5 7.5h0m.5-27h0m0 23h0m.5 14.5h0m.5 .5h0m.5 19h0m0-17h0m.5-27h0m1.5 32h0m1.5-16h0m0 24h0m1-14h0m.5 28h0m0-4.5h0m1.5-2.5h0m.5-48.5h0m0-11.5h0m0 47.5h0m.5 12.5h0m1 15.5h0m0-64.5h0m.5 17h0m.5 21.5h0m.5-2.5h0m0-22.5h0m2 29.5h0m1-63h0m0 54h0m1 29h0m1-38h0m.5 19h0m.5-40.5h0m.5 43.5h0m.5-66.5h0m1 8.5h0m.5 22.5h0m0-.5h0m.5 4.5h0m1-22h0m.5 63h0m1-23.5h0m1 6.5h0m.5-42.5h0m1 26h0m1-27h0m0-4h0m.5 43h0m0-23.5h0m.5 8.5h0m0-37h0m.5 53.5h0m1.5-3h0m1.5 1h0m1-46.5h0m.5 11.5h0m1-7.5h0m.5 23.5h0m0-13h0m0 1h0m2 36.5h0m0-42h0m.5 4h0m1 22.5h0m.5-14.5h0m.5 .5h0m.5-16.5h0m.5 47.5h0m0-22.5h0m0 27.5h0m1.5-20h0m0-23.5h0m.5 50h0m.5-36h0m.5-12.5h0m0 4.5h0m1 17.5h0m.5 19.5h0m0-8.5h0m0-21h0m0 25.5h0m1-1.5h0m.5-22h0m.5 2.5h0m.5 28h0m1 9.5h0m0-25.5h0m1.5 6.5h0m.5-7.5h0m0 22h0m0-27h0m.5 6h0m0-32.5h0m.5 14.5h0m1-11h0m.5-10h0m.5 39.5h0m1.5-16h0m1 4h0m.5-39h0m0 72h0m.5-12h0m.5-6h0m1.5 4.5h0m.5-1.5h0m.5-6h0m.5-15.5h0m1.5 45h0m0-46h0m0 72.5h0m1-81h0m0 57h0m0-72.5h0m0 63.5h0m0 0h0m.5-36.5h0m.5-13h0m0 14.5h0m1 39.5h0m.5-45.5h0m0-16.5h0m1 58.5h0m.5-39.5h0m.5 17h0m0 27h0m1-38.5h0m.5-4.5h0m0-4h0m1.5-10h0m.5 17.5h0m.5 0h0m.5 26.5h0m.5 9h0m0 5.5h0m1-15h0m.5-22h0m0 20.5h0m0 33.5h0m.5-8.5h0m.5-28.5h0m.5-38h0m.5-4.5h0m2 23h0m.5 51h0m.5-37h0m0 5.5h0m0-8h0m.5-9.5h0m0 14.5h0m.5 22.5h0m1-14h0m.5 6.5h0m.5-26h0m.5 34.5h0m.5-23h0m0-1.5h0m1-27.5h0m1-1h0m0-19h0m0 35h0m1 3h0m0 34h0m1-6h0m.5-37h0m1-5h0m0-8.5h0m0-4.5h0m1-.5h0m0 69h0m.5-8h0m1-5h0m.5 23h0m.5-40h0m0 25h0m.5 5h0m2-54h0m.5 24.5h0m0-34.5h0m0 14.5h0m1 45h0m1-7h0m0-14.5h0m.5-35.5h0m.5 55.5h0m.5-56.5h0m0 22.5h0m0 27h0m.5 8.5h0m0-20.5h0m.5-61h0m0 52h0m1-27.5h0m.5 48.5h0m0-32.5h0m0 0h0m1 41h0m.5-24h0m1.5-26h0m2.5-19h0m0 27.5h0m1 21.5h0m.5 23h0m.5-8h0m0-56.5h0m.5 45.5h0m.5 7h0m0 11h0m1-70.5h0m.5 60h0m3-16h0m0-29.5h0m1.5-3h0m0 17h0m1-4h0m0 50h0m.5-56h0m1 27h0m.5-10h0m.5 18h0m1.5-37.5h0m0 25h0m.5 2.5h0m0 7h0m0-18h0m1 17h0m.5-.5h0m0 21.5h0m0-5h0m1.5-49h0m0-2h0m1 34h0m.5 16h0m0-28h0m.5-1.5h0m.5-11h0m1 26h0m0-29.5h0m0 43h0m.5 10.5h0m.5-37.5h0m0-9.5h0m1 1h0m1 43.5h0m.5-20.5h0m.5-11.5h0m.5-17.5h0m2 41h0m.5-59h0m.5 6.5h0m1 59.5h0m0-17h0m0-33.5h0m2 44h0m1-8h0m.5-19h0m0-45.5h0m1 78h0m.5-36h0m0 10h0m2-28h0m1.5-7h0m.5 22.5h0m.5-4h0m.5-17.5h0m1 12h0m0-12h0m0 6h0m1 27h0m0-22.5h0m0 4h0m1.5 15h0m.5-20.5h0m1 21h0m1 14.5h0m1.5-57.5h0m.5 20h0m0-4h0m.5-21.5h0m0 17.5h0m1-.5h0m1.5-3.5h0m.5 29.5h0m1.5 16h0m.5-13.5h0m0 4.5h0m1-30.5h0m0-12.5h0m1.5 30h0m.5-9.5h0m0 1.5h0m1-20h0m.5 26.5h0m0-24h0m.5 37.5h0m.5-29.5h0m0 55h0m.5-41h0m2.5-4.5h0m1 22h0m0-39.5h0m0 6.5h0m1-5h0m1-19h0m.5 67.5h0m0 10.5h0m0-58h0m.5-8h0m1.5 64.5h0m.5-54.5h0m0 54h0m1-37.5h0m0-17.5h0m.5 33h0m.5 12.5h0m1-16.5h0m.5 0h0m0 10h0m.5-3.5h0m.5-8h0m0 45h0m0-67.5h0m1 33.5h0m.5-48.5h0m1 30.5h0m.5-17h0m.5 34h0m0 17h0m.5-65h0m.5 33h0m0 18.5h0m1-5h0m0-9h0m.5-33.5h0m.5 34h0m.5-25h0m.5 36h0m0 14h0m0-77h0m1.5 58h0m0-39h0m.5 24h0m.5-34.5h0m2.5-1.5h0m.5 13.5h0m0 20.5h0m.5 16h0m0-19.5h0m.5 13.5h0m0 7h0m1 4.5h0m.5 1h0m0-59h0m.5 34.5h0m1.5 13h0m0-21h0m.5 .5h0m0 2h0m.5 2h0m0 9h0m.5 8h0m.5-19.5h0m.5-7.5h0m0 5h0m11.5 58.5h0m1-31h0m.5 5.5h0m0-3.5h0m0-18h0m0 13h0m.5 32.5h0m.5-8h0m0-2.5h0m0 15.5h0m.5-37.5h0m0 11h0m.5 2.5h0m.5 10h0m.5 7h0m1 11.5h0m.5 17h0m1.5-55.5h0m.5 21h0m0 12h0m.5-35h0m.5-1.5h0m.5-2h0m.5 33h0m.5-4h0m0-40.5h0m.5-20h0m1 50h0m.5-2h0m0-26h0m.5 10h0m0-1h0m.5-29h0m1 47h0m.5 18h0m1.5-39.5h0m0 5.5h0m.5 24.5h0m0-4.5h0m0-11h0m0-39.5h0m.5 17.5h0m0 12h0m1.5-20.5h0m.5-6.5h0m.5 56h0m.5-53.5h0m0 6.5h0m1 38.5h0m0-17h0m.5-9.5h0m0-31h0m.5 19.5h0m0-17h0m.5 42.5h0m.5 25.5h0m.5-38h0m0 9h0m2-37h0m14 15h0m.5-.5h0m0 7.5h0m.5-3.5h0m.5-24h0m.5 26h0m1 22.5h0m.5-3.5h0m1.5-4h0m0-10h0m1-10h0m.5 13.5h0m0-3h0m.5 14.5h0m0-35.5h0m0 6.5h0m2.5-4h0m1-13.5h0m.5 48.5h0m1.5-36.5h0m.5 24h0m.5-28.5h0m0 32.5h0m.5-36.5h0m.5 12.5h0m0 20.5h0m.5-7h0m.5 21.5h0m0-26.5h0m.5-19h0m.5 26h0m0 6h0m1-30.5h0m0 30.5h0m0 6h0m.5-17.5h0m0-19h0m.5-5.5h0m.5 46h0m0-7h0m1.5 15.5h0m0-27.5h0m2 7.5h0m0-27.5h0m.5 41.5h0m0 10h0m0-14.5h0m.5 10.5h0m.5-27.5h0m0 22.5h0m7.5-36.5h0m1-2.5h0m.5-35.5h0m0 20h0m1 4.5h0m0-13.5h0m1.5-19h0m1.5-24h0m0 20h0m1 37.5h0m.5-22.5h0m0 35h0m1-15.5h0m0-15h0m2-4.5h0m0-19.5h0m0-.5h0m.5 44.5h0m.5-59h0m.5 15h0m0 42.5h0m1.5-58.5h0m1.5 55.5h0m1-11.5h0m.5-9h0m0-16.5h0m.5 12.5h0m0 33.5h0m2.5-31h0m.5-3.5h0m.5 8.5h0m2-23.5h0m.5-5h0m.5 37h0m0-9.5h0m.5 26h0m.5-46.5h0m0 53h0m0-41h0m.5 24h0m0-58h0m.5 58h0m1.5 4h0m.5-14h0m0-26.5h0m.5 8.5h0m.5 40h0m0-11h0m1-15h0m.5-4.5h0m0 18h0m1-1h0m.5-35.5h0m.5 54h0m0-6h0m.5-44h0m.5 48.5h0m0-35h0m.5 37.5h0m.5-49.5h0m1-3h0m3 41h0m1.5-27h0m0-5.5h0m1 23.5h0m2-14h0m0 32.5h0m2.5-26.5h0m.5-14.5h0m2 2.5h0m.5 38h0m0-9h0m.5-16.5h0m.5-16.5h0m.5-3.5h0m0 36.5h0m1-22h0m1 13h0m.5-39h0m0 12h0m0-12h0m.5-3.5h0m0 12h0m1.5 38h0m1-17.5h0m.5 32h0m0-65h0m0 72h0m.5-58h0m1.5 45.5h0m1 14h0m1.5-47h0m0 40.5h0m.5 15h0m7.5-38h0m0-39h0m1 38h0m2-21h0m.5 4.5h0m1-10h0m1 0h0m1 4.5h0m.5 51h0m0 0h0m1-11.5h0m0-44h0m.5 2.5h0m.5-23h0m0 56.5h0m.5-32h0m2 9h0m.5-30h0m0-5.5h0m1 63.5h0m.5 14h0m0-13.5h0m0-34.5h0m.5 21h0m.5-15h0m.5 28.5h0m2.5-10.5h0m0 21.5h0m1-45h0m0-13.5h0m.5 0h0m0-9h0m0 17h0m.5 0h0m0 17.5h0m.5-16.5h0m.5 6h0m.5-27.5h0m1.5 44h0m0 19h0m0-55.5h0m0 39h0m.5-9h0m.5 23.5h0m1.5-17h0m0-30h0m0-.5h0m.5 18.5h0m1.5 16h0m0-42h0m.5 60.5h0m0-6h0m.5-19.5h0m0 16.5h0m.5-10h0m0-47.5h0m.5 14h0m1.5 16h0m0 34h0m1-33.5h0m.5-9.5h0m1-16.5h0m0 48.5h0m.5-.5h0m.5-10h0m.5-3h0m1.5-45.5h0m0 62h0m1 13h0m0-52.5h0m1.5 23.5h0m.5-38h0m.5 8.5h0m.5 32.5h0m0 9h0m0 3h0m.5-3.5h0m1-40h0m.5-6h0m1-4h0m1 12.5h0m.5 32.5h0" stroke-width="8"/>
<path d="M123.5 550h0m1.5 26.5h0m0 .5h0m.5 2.5h0m0-8h0m.5 23h0m1.5-19.5h0m1.5 6h0m.5 4h0m.5-27.5h0m.5 36h0m.5-5h0m.5 9h0m.5-19h0m.5 41h0m1-47h0m.5-3h0m0-3.5h0m0 21.5h0m0-39h0m1 2h0m2 38.5h0m1-32.5h0m1 27.5h0m0-11h0m1 1.5h0m0 35h0m1-51h0m0 11h0m1.5 5h0m.5 17h0m.5 17.5h0m0-.5h0m.5-31h0m.5 32.5h0m.5-22.5h0m1 45h0m0-48h0m1-37h0m.5 30.5h0m0 33h0m1-31.5h0m.5-3h0m1 17.5h0m.5-4h0m0 15h0m.5-49h0m.5 2.5h0m.5 48h0m.5-6h0m.5 7h0m0-26h0m.5 33h0m0-1h0m.5-24h0m2.5 21.5h0m0-44.5h0m1.5 56.5h0m.5-39h0m0-2h0m.5-4.5h0m1.5-8.5h0m0 7h0m.5 17h0m0 26h0m0-64.5h0m0 2h0m.5 45.5h0m0-37h0m1.5 47h0m1 10.5h0m.5-58.5h0m.5 8.5h0m.5 1.5h0m1 53.5h0m1.5-43h0m.5 46.5h0m.5-67.5h0m1.5 16.5h0m0 46h0m.5-6h0m.5-35.5h0m0 26h0m1 16.5h0m0-54.5h0m.5 26h0m.5-5.5h0m0-3.5h0m0 27.5h0m.5-44h0m0 16h0m.5 45h0m0-65h0m0 32h0m.5-19h0m1 44h0m1-55.5h0m1 34.5h0m.5-5h0m2.5 13.5h0m.5-1h0m.5-40h0m.5 30h0m.5 8.5h0m.5 18.5h0m0 6h0m0-9h0m.5-51.5h0m.5 29h0m.5-24h0m0 37h0m0-18.5h0m.5-24h0m.5-8h0m1 38.5h0m0 7.5h0m0 8h0m.5-36.5h0m.5 33.5h0m.5-5.5h0m1-22h0m0-.5h0m.5 12.5h0m0 1h0m0 30.5h0m.5-55.5h0m.5 25h0m1 3h0m.5-15h0m0-3.5h0m0 14h0m1.5 26h0m.5-22.5h0m.5-59.5h0m.5 24.5h0m1-8h0m1 44h0m0 .5h0m.5-15h0m3-14.5h0m.5 8h0m1.5 16h0m.5 6.5h0m0-26h0m4 .5h0m2-17h0m.5 39h0m.5-16h0m1 35.5h0m0-67.5h0m.5 12h0m.5 5h0m0 36h0m.5-5h0m1-17.5h0m1 28h0m20.5-14.5h0m1-37h0m.5 41h0m0-25h0m.5 32h0m1.5-34h0m1 15.5h0m0 9.5h0m0 .5h0m0-46.5h0m0 43h0m2-26h0m0-13.5h0m1 5h0m0 14h0m0 21.5h0m1 11h0m0-39h0m0 2h0m0 73h0m1-66.5h0m.5 41h0m1.5 18h0m.5-10.5h0m.5-69.5h0m.5 23.5h0m.5-19.5h0m1 67.5h0m.5-12.5h0m1.5-45h0m.5 61.5h0m1.5-63.5h0m3.5 41.5h0m0-42.5h0m.5 52h0m2-33.5h0m0 31h0m2 .5h0m2.5-77.5h0m.5 67h0m.5 22.5h0m1-6h0m.5-6h0m.5 10h0m7.5-63h0m2.5 57.5h0m0-38h0m0 10.5h0m1-28h0m2 40h0m0-16.5h0m.5 19h0m.5-1.5h0m2-41.5h0m1 0h0m2-1.5h0m.5 75.5h0m0-47h0m3-31h0m.5 25h0m0-10.5h0m0-5.5h0m1 31h0m0-30h0m1 33h0m0-46h0m2 18.5h0m3 27h0m1-30.5h0m0 25.5h0m1-20h0m0-18h0m1 1.5h0m2-11h0m0 15h0m.5 42.5h0m0-15h0m.5 29h0m.5-11.5h0m0-53.5h0m0 32h0m.5-38h0m.5-2h0m0 44.5h0m.5-28.5h0m0 46.5h0m1 10.5h0m2-6h0m.5-3h0m.5-32h0m.5-4h0m0-4h0m0-9.5h0m.5 10.5h0m.5 50.5h0m0-3h0m.5-62h0m2-14.5h0m.5-3.5h0m0 78.5h0m1-38.5h0m0-11.5h0m.5 31.5h0m.5 3.5h0m.5-44h0m2 41h0m.5-36.5h0m1-8h0m0 5.5h0m.5 44h0m.5-13h0m2-4h0m.5-24.5h0m.5 23h0m.5 1.5h0m.5-1.5h0m1 30h0m0-72h0m.5 69.5h0m1.5-80h0m.5 53.5h0m0 27h0m1-64h0m1.5 32h0m0 15.5h0m0-32.5h0m0-17.5h0m2 54h0m0-37h0m1.5-16h0m1 42h0m1-30.5h0m1 13.5h0m.5 1h0m.5-28h0m.5 51.5h0m0-46h0m2-11h0m.5 9h0m1 46.5h0m1.5-18.5h0m2 6.5h0m1 3.5h0m.5-39.5h0m0 41h0m1 29h0m1-37h0m.5-29h0m.5 26h0m0 17h0m0-.5h0m.5 41.5h0m1.5-57h0m0 2.5h0m.5-31.5h0m0 53h0m1.5-31h0m0-21.5h0m.5 39h0m1.5 14.5h0m1-16h0m.5-11.5h0m0 17h0m.5-34h0m0 28h0m1 19.5h0m0-39.5h0m.5 5h0m.5 3.5h0m1-16.5h0m.5 17h0m1-10.5h0m0 24h0m.5 32.5h0m0-6.5h0m.5-3.5h0m.5-31.5h0m.5-24h0m0 15h0m.5-17h0m.5-8.5h0m.5 39h0m1.5-30.5h0m0 28.5h0m.5 37h0m1.5-52h0m0 32h0m1-25h0m0 7.5h0m.5-26h0m0-9.5h0m1.5 2h0m1.5 17h0m.5 14.5h0m1.5 13h0m1.5-34.5h0m0 31.5h0m1-32.5h0m3.5-1h0m.5 13h0m.5 11.5h0m0-6.5h0m2-1h0m.5 24h0m0-28h0m.5 26.5h0m1 8h0m0-40.5h0m1-2.5h0m.5-16.5h0m0 25.5h0m.5 13h0m1 49.5h0m.5-66h0m.5 3.5h0m0 18h0m.5 25h0m0-22.5h0m0-22.5h0m0 13.5h0m.5 9.5h0m.5-33h0m.5 14.5h0m.5-27h0m0 41.5h0m.5-7.5h0m0 9h0m0 12h0m0-43.5h0m0 52.5h0m.5-48h0m.5-14h0m1.5 36.5h0m0 5h0m2.5-36.5h0m3 53.5h0m0-60h0m0 23h0m1.5 0h0m1 13h0m.5 9.5h0m.5-6h0m0-39h0m1 10h0m.5-1h0m.5 22h0m.5-23.5h0m.5 80h0m0-102h0m3 79.5h0m.5-26.5h0m0-16h0m2 33h0m2 11.5h0m1-44h0m.5 12.5h0m.5 2h0m0 25h0m.5-32h0m0-13.5h0m.5 12h0m.5-3.5h0m0 13.5h0m1.5 5.5h0m0 49.5h0m1-18h0m3-51.5h0m1 67.5h0m1-68.5h0m0-13.5h0m1 19h0m.5-21h0m1 0h0m.5 74.5h0m1-6.5h0m0-46h0m1 .5h0m0-14h0m.5-1h0m.5 67h0m.5-46.5h0m0-30h0m2 15.5h0m0 51h0m0-4h0m.5-57.5h0m1 63.5h0m.5-45.5h0m.5 27.5h0m1-18h0m1 53.5h0m1-20h0m.5-42h0m1-35h0m.5 24.5h0m0-27h0m2 14.5h0m0 4h0m1.5 36.5h0m.5 25h0m.5-22h0m0-28h0m.5 7.5h0m1 36.5h0m.5-9h0m.5-.5h0m0-14h0m.5-16.5h0m.5-5.5h0m1 30.5h0m0 8h0m.5-37h0m0-2.5h0m.5-14h0m.5 15.5h0m1.5 23h0m0-35h0m0 69h0m1-51.5h0m1.5 26.5h0m.5-25h0m.5 45.5h0m2.5-45h0m.5-12h0m.5 21h0m.5-22.5h0m2.5 56h0m1.5-10h0m1-41.5h0m.5-24.5h0m.5-3.5h0m.5 70h0m0-5.5h0m1-6.5h0m.5 9.5h0m1-18.5h0m0 24h0m1-14.5h0m0 30h0m0-28h0m2-5h0m.5 3h0m0 17.5h0m1-27.5h0m.5-56h0m.5 38h0m1 55.5h0m.5-26.5h0m2.5-48.5h0m0-4.5h0m1 34.5h0m.5-34h0m1 32.5h0m1.5-5h0m1 9h0m.5-14h0m0 26h0m0 19.5h0m.5-35h0m1.5-29h0m1.5 66h0m.5-31h0m0 4h0m1 5h0m1-29.5h0m.5 17.5h0m0 5.5h0m1-16.5h0m0 1.5h0m.5 5.5h0m0 6h0m1 7.5h0m.5 7.5h0m0-64h0m0 43.5h0m1-11.5h0m.5-17.5h0m1.5 47.5h0m0 7.5h0m1.5-40h0m.5-13.5h0m1.5 6.5h0m.5 5h0m0 22h0m1.5-11h0m0-15.5h0m1 23.5h0m.5-2.5h0m0 12h0m0 30.5h0m.5-35.5h0m.5-3.5h0m0 19.5h0m.5-25.5h0m.5 12.5h0m.5-33.5h0m4 80.5h0m.5-54.5h0m.5 23h0m1 2.5h0m1.5 0h0m.5-36h0m4-18h0m.5 59h0m1.5-38h0m.5 17h0m.5-24.5h0m0-24.5h0m.5 39.5h0m.5 14.5h0m.5-11.5h0m0 10.5h0m1-35h0m1 44.5h0m.5-47.5h0m.5-5h0m1-13h0m0 53h0m.5-5h0m.5-11h0m0-17h0m2.5 9h0m.5 38h0m.5-32.5h0m0 23.5h0m1.5-34h0m.5 24h0m0-26h0m.5 32h0m0-26h0m1-1.5h0m0-6.5h0m0 5.5h0m.5 24.5h0m0-35.5h0m2-.5h0m0 11h0m1-17.5h0m0 14h0m.5-9h0m.5 55.5h0m.5-43h0m.5 40h0m0-26.5h0m0 28h0m1-8.5h0m.5-45.5h0m0 21.5h0m0 .5h0m1-38h0m.5 30h0m.5-27h0m0 40h0m.5 32h0m0-5h0m1-58.5h0m0-3.5h0m1 17h0m0 28.5h0m.5 2.5h0m.5-4h0m0 18.5h0m2-22h0m0 23.5h0m1.5-15.5h0m1-5h0m2.5-39h0m.5-6.5h0m.5 77h0m0-47.5h0m0 19.5h0m.5-26h0m.5 39h0m0 7h0m0 11h0m.5-32h0m1 37h0m1-24h0m2-.5h0m0 0h0m1 11h0m.5-11h0m.5 1.5h0m.5 0h0m.5 9h0m1 6.5h0m6.5 4h0m.5-28h0m2.5-35.5h0m0 11.5h0m1 4h0m0 28h0m.5 6h0m.5-22h0m0 18h0m0 1.5h0m.5-39h0m0 64.5h0m2.5-28.5h0m1.5-47h0m1 5.5h0m1.5 20.5h0m0 22.5h0m1-44.5h0m0 23.5h0m.5-7h0m.5-24h0m0 31.5h0m0 32.5h0m1.5-44.5h0m0 25h0m0 8h0m1-10.5h0m.5 30h0m0-55.5h0m.5-2.5h0m.5-5.5h0m0 41h0m0-4.5h0m1.5 5h0m1 8.5h0m.5-3h0m.5 8.5h0m.5-58h0m.5 39.5h0m0 9.5h0m.5 .5h0m.5-10.5h0m1.5 11h0m.5-14.5h0m1 22.5h0m1-.5h0m.5-60.5h0m2 46h0m.5-19.5h0m.5-26h0m0 66.5h0m1.5-65.5h0m1 34h0m.5 2h0m.5-51h0m.5 70h0m.5-14.5h0m.5-27h0m2.5 19h0m2 23.5h0m.5-3.5h0m1.5 38h0m1.5-42.5h0m0-22h0m1.5 43h0m.5-23h0m.5 5.5h0m0-21.5h0m.5 39.5h0m0-43h0m0 22.5h0m.5 1h0m1 27.5h0m0-59h0m2 47h0m0-31.5h0m.5-9.5h0m0 51h0m1-31.5h0m.5 20h0m0-66h0m.5 46.5h0m2.5-18h0m.5 4h0m0 6h0m0-14h0m.5 20h0m.5 7h0m0-39.5h0m.5 46h0m.5-21h0m0-12.5h0m1 17h0m0-19.5h0m.5 33.5h0m0-10.5h0m1 14h0m.5-27.5h0m.5-32h0m.5 19h0m1-10h0m1 12h0m2-10h0m.5-8h0m0 11.5h0m0 9h0m.5-9.5h0m.5 69.5h0m0-26.5h0m.5 18h0m0 4.5h0m.5-19.5h0m0-35.5h0m.5 12.5h0m.5-29h0m1.5 1.5h0m.5 54h0m0-79h0m.5 43.5h0m.5 16h0m.5 28h0m0-38.5h0m.5-12.5h0m2.5-20.5h0m0 16h0m.5 28.5h0m.5-54h0m.5 44.5h0m0-37.5h0m0-6h0m.5 52h0m0-22.5h0m1.5 36.5h0m0-49h0m.5 45h0m1-18.5h0m1-26h0m1 14.5h0m1 24h0m.5-7.5h0m.5-38.5h0m0 66.5h0m.5-78h0m.5 50.5h0m0 16h0m2 19h0m0-53.5h0m0 25h0m1-56.5h0m1 30.5h0m1-31h0m.5 63h0m1-27.5h0m1 25.5h0m.5-10h0m0-57h0m.5 26h0m0 56h0m.5-51.5h0m1.5 10.5h0m0-24.5h0m0 10h0m1 39h0m1.5-2.5h0m.5 7h0m0 22h0m1-38h0m1 19.5h0m0 11.5h0m.5-65.5h0m0 57.5h0m0-8.5h0m.5-33.5h0m.5 30h0m1 8.5h0m0-34h0m.5 6h0m0-10.5h0m.5 1h0m0 12h0m.5 10h0m.5-44h0m0 16h0m1 18.5h0m.5-.5h0m.5 6.5h0m1.5 22h0m0-44h0m1.5 14h0m0 18h0m.5-15h0m0-16.5h0m0 12.5h0m0-20.5h0m.5 48h0m.5-45.5h0m.5 11h0m.5 9.5h0m.5-3.5h0m.5 7h0m0-2h0m1.5 0h0m.5-24.5h0m.5 4h0m.5 34h0m2-29h0m2-9.5h0m1 9.5h0m0 27.5h0m0-28h0m.5 4h0m1 24h0m0-28h0m.5 33.5h0m.5 5h0m1.5-10h0m.5-38h0m0 46h0m.5-32h0m.5 40.5h0m1.5 1.5h0m1.5-14h0m0-55h0m1 66h0m0-31.5h0m.5 10.5h0m.5 6h0m1.5-3.5h0m.5 5h0m3 12.5h0m1.5 14.5h0m.5 1h0m3-53h0m1.5-9h0m.5 20.5h0m.5 11h0m.5 10h0m0-28.5h0m0-6.5h0m0-2h0m1 1.5h0m0 59.5h0m0-70.5h0m0 38h0m1-6h0m.5 30.5h0m.5-10.5h0m0-5.5h0m.5-13h0m0-10h0m1 38.5h0m.5-57.5h0m0 52.5h0m.5 1h0m.5-37h0m.5 10h0m.5 43.5h0m1.5-47h0m0-19.5h0m0 34.5h0m1-14h0m0 2h0m1 27h0m.5-14h0m.5 29h0m1-55.5h0m.5 36.5h0m1-3h0m.5 12h0m.5 3.5h0m0-6h0m1 .5h0m0-47h0m.5 49.5h0m1-38h0m.5-11h0m.5 35.5h0m.5-14h0m0-7.5h0m.5 12h0m0-10.5h0m1 19.5h0m.5-10.5h0m3 17h0m.5-33h0m0 5h0m1.5-6h0m2 11.5h0m.5 12h0m1-3.5h0m0 10h0m0-38h0m0 11h0m.5 3h0m.5 21.5h0m0-33h0m.5 41h0m0-46.5h0m.5 43.5h0m1 32.5h0m1-21h0m1-4h0m1.5-32.5h0m1.5-4h0m0 28h0m1.5-54.5h0m1 38.5h0m.5-47h0m.5 48h0m0 9h0m1-7.5h0m0-31h0m.5-21.5h0m.5 15.5h0m.5 40h0m1-6.5h0m2-23.5h0m1 40.5h0m1-61.5h0m0 53h0m.5 15.5h0m.5-42.5h0m.5-30h0m.5 70h0m0-8.5h0m1 11.5h0m2-1.5h0m.5-16h0m.5 3.5h0m1-59h0m0 72.5h0m1-72.5h0m.5 6.5h0m1 23h0m0-7.5h0m2 17.5h0m0 27h0m0-57h0m.5 1h0m0 41h0m0-14.5h0m1 6.5h0m0-20.5h0m1 15h0m.5-28h0m0 35.5h0m1-30.5h0m2-1.5h0m1-18.5h0m.5 56.5h0m.5-9.5h0m1 23.5h0m0-21.5h0m1.5-35h0m0-11h0m.5 28h0m2 39h0m1.5-46.5h0m0 21h0m1.5-43h0m.5 4h0m0 3.5h0m0-2.5h0m1.5 16h0m.5-15.5h0m1 43.5h0m0-12.5h0m.5 13.5h0m.5-37.5h0m.5-7.5h0m1 23h0m.5-27h0m.5 .5h0m.5 26.5h0m.5 20.5h0m.5-33h0m.5 72.5h0m.5-50h0m1 13.5h0m0-22.5h0m.5 18.5h0m0-1.5h0m1-35.5h0m.5 33.5h0m1-43.5h0m.5 40h0m0 6.5h0m1.5 10h0m0-10h0m7-2h0m.5 37h0m0-75h0m.5 55h0m2.5-24.5h0m1-33h0m1.5 48.5h0m.5 1h0m.5-8.5h0m0 39h0m0-69h0m1 49.5h0m2-17h0m.5-11.5h0m1 27.5h0m1.5-25.5h0m2.5 33.5h0m1-29h0m1-8h0m.5 28h0m.5-41h0m1-15.5h0m2 56.5h0m0-22h0m1.5 18.5h0m0-54h0m1 17h0m.5 45h0m2-43h0m1-21.5h0m.5 33h0m.5 22.5h0m1-14h0m.5-15h0m1.5-12h0m1 26.5h0m1.5 12h0m.5-2.5h0m0 1h0m0-35.5h0m1 24.5h0m1.5-2.5h0m1-47h0m1.5-8h0m0 19h0m.5 44h0m0-12h0m2-13.5h0m1-8h0m1.5-5.5h0m.5-14h0m0 90.5h0m0-81.5h0m1.5 73h0m1 .5h0m1.5-41.5h0m.5 19.5h0m.5 5h0m.5-43.5h0m.5 25h0m0-11h0m.5 20h0m1 5.5h0m1-20h0m0-1h0m.5 29h0m0-8h0m.5 35h0m1-27h0m1-30.5h0m1 17h0m.5-14h0m0-9.5h0m.5 7h0m.5 20.5h0m1-30.5h0m0 8h0m0-24.5h0m0 64h0m1-1h0m.5-2.5h0m0-52.5h0m.5 6h0m1 33h0m.5 16h0m0-50.5h0m1 47h0m1-50.5h0m.5 52h0m.5 .5h0m.5-66h0m.5 41.5h0m.5 50.5h0m0-27h0m0-42h0m1.5 53.5h0m.5-26.5h0m.5 26h0m1-25.5h0m2-26h0m0 35h0m0-35.5h0m.5 22h0m1-41.5h0m0-17.5h0m1 69.5h0m.5-46h0m0-10h0m0-2h0m1.5 25.5h0m.5 32.5h0m0-32h0m.5-6h0m.5 20.5h0m0-34.5h0m1 58.5h0m0-77.5h0m0 15.5h0m1.5 26.5h0m2-8h0m.5 18h0m.5 24h0m.5-22h0m.5-48h0m.5 66h0m0-60h0m2 51h0m.5-66h0m.5 52h0m1.5 7h0m.5-58.5h0m1 39.5h0m0 33.5h0m.5-3h0m1-49h0m.5 52h0m0-.5h0m0-50h0m.5 36.5h0m.5 10h0m.5-3.5h0m0-33.5h0m1.5 12.5h0m.5 2.5h0m.5 29h0m0-26.5h0m.5 6h0m.5 15.5h0m.5-13h0m1.5-7.5h0m2-32h0m.5 22h0m1 0h0m2-3.5h0m3.5-25h0m.5 28h0m.5 24h0m0-14h0m1.5-7h0m0 17h0m0-25.5h0m0-15h0m.5 43h0m1-54.5h0m.5 46.5h0m0-9h0m0-9.5h0m.5-9h0m.5-4h0m1.5-2.5h0m0-1.5h0m1.5-8.5h0m1 49.5h0m0-29.5h0m.5 7.5h0m.5 28.5h0m2.5-37h0m2.5-23.5h0m.5 66.5h0m1 14.5h0m.5-51.5h0m.5 37h0m1-22.5h0m.5 40h0m.5-58h0m1.5 21.5h0m3.5-14h0m.5 17.5h0m0-10h0m.5 15.5h0m0-2.5h0m1-9.5h0m0 3h0m1-23h0m0 12h0m0-22.5h0m0 58.5h0m.5-9h0m.5 13h0m.5-45h0m0-1.5h0m.5 43h0m.5-1.5h0m2-57h0m0 1h0m.5 15h0m.5 1h0m0 56h0m.5-36h0m.5 22h0m.5 14h0m.5-6.5h0m0-29.5h0m0-30.5h0m.5 12h0m.5-13h0m1-24.5h0m1.5 89.5h0m.5-49.5h0m.5-2.5h0m.5 26.5h0m.5-24.5h0m0 11.5h0m3-31.5h0m0 60h0m.5-47.5h0m1.5 34h0m.5-2h0m1-49.5h0m0 71.5h0m1.5 .5h0m3-38h0m.5 33.5h0m0 3.5h0m1.5-10.5h0m0 15.5h0m.5-37h0m.5 36h0m0-15h0m1 7h0m.5-49.5h0m.5 5.5h0m.5-31h0m.5 77h0m.5-14h0m1.5-54h0m1 60.5h0m0-59h0m0 5h0m1.5 60.5h0m1-33h0m.5 35.5h0m0-34.5h0m0-1h0m3 9h0m0-22h0m.5-18h0m.5 33h0m1.5-9.5h0m0-28.5h0m.5 51.5h0m0 1h0m0-53h0m.5 9h0m.5 56h0m1-8h0m.5-37h0m0-3h0m.5-28.5h0m2.5 10h0m0 18.5h0m1-17.5h0m0 60h0m.5 0h0m.5 16h0m0-33h0m.5 48.5h0m.5-64h0m.5-11h0m0-4h0m0 16.5h0m.5 44h0m0-5h0m1-10.5h0m0-55h0m.5 33h0m.5-35h0m0 47.5h0m0 12h0m0 0h0m.5-40.5h0m1 37h0m2-14h0m0-18h0m.5 20.5h0m1.5-24.5h0m0 24.5h0m.5-12.5h0m.5-23h0m1 2.5h0m1 10h0m0 15.5h0m0 1h0m.5 49h0m1.5-29h0m3-22h0m.5 2h0m0 2h0m0 40.5h0m.5-55h0m.5 10h0m0 15.5h0m0 42h0m.5-65.5h0m1-10.5h0m0 56.5h0m0-58h0m1 .5h0m0 31.5h0m1.5-19h0m.5 17h0m0 4.5h0m1 38h0m0 17.5h0m.5-66h0m.5 22h0m.5-19.5h0m2-27h0m0 12.5h0m0 39.5h0m1-29.5h0m.5-20.5h0m.5 50h0m0-47.5h0m0 19h0m1-16h0m0 47h0m.5-52h0m0-12.5h0m.5 76.5h0m1-59.5h0m1.5-27.5h0m.5 64.5h0m1-8.5h0m1-19.5h0m.5 50.5h0m.5-6.5h0m.5-35h0m1.5-13.5h0m0 8h0m.5 45.5h0m3-99h0m.5 24.5h0m.5 67.5h0m.5-45h0m.5 8.5h0m.5-2.5h0m0-26.5h0m.5-18.5h0m1.5 69h0m.5-17h0m0 20h0m0-47h0m0 37h0m2.5 26.5h0m1-86h0m1 35h0m.5 56.5h0m1-52.5h0m.5-6.5h0m1 50.5h0m1-53.5h0m0-14h0m1-7h0m.5 28.5h0m.5-10.5h0m0 28h0m.5 .5h0m.5-26h0m0-23h0m.5 42h0m.5-38.5h0m.5 52.5h0m.5-32h0m1 19.5h0m.5 1.5h0m0 3h0m0-17h0m.5-13.5h0m0 28.5h0m0-37.5h0m0-2.5h0m0 37.5h0m.5 31h0m0-36.5h0m.5 2.5h0m1-4h0m2.5 18h0m0 15h0m2.5-12.5h0m2-54.5h0m1 23.5h0m2.5 6h0m0-28h0m1 4h0m.5 27.5h0m.5-8h0m1 54h0m.5-14.5h0m.5-1h0m1-63h0m0 4h0m2 64.5h0m0 .5h0m1-36.5h0m1 36.5h0m.5 12h0m.5-82.5h0m1.5 38.5h0m0-40h0m.5 64h0m1 2.5h0m.5-20h0m1.5 2h0m.5 22.5h0m0-54.5h0m.5 25h0m1-5h0m.5 42.5h0m2.5-72.5h0m0 52h0m0-2.5h0m0-30h0m.5-1h0m2 25.5h0m.5-18.5h0m1 13.5h0m.5-25.5h0m0 16.5h0m0 18.5h0m0-19.5h0m2-21h0m.5-5.5h0m0 24.5h0m.5-18.5h0m1 61h0m2-58.5h0m.5 40.5h0m.5-53h0m1 26h0m.5 14.5h0m0 30h0m.5-34.5h0m1-26.5h0m0 62h0m.5-32.5h0m0-45h0m1 40.5h0m.5-24.5h0m0 27.5h0m0-23h0m1.5 59.5h0m1 4.5h0m0-33h0m3 5h0m2 15.5h0m.5-.5h0m.5-27h0m.5 7.5h0m.5 13h0m1.5 20.5h0m.5-16.5h0m0-20h0m2 1h0m1.5 6.5h0m.5 29h0m0-24.5h0m1-38.5h0m0 3h0m1 25.5h0m0-4h0m.5 24h0m0-19.5h0m0-34h0m2 66.5h0m0-41h0m1 29.5h0m.5-23h0m0 42.5h0m1-82.5h0m.5 22.5h0m3 57h0m.5-20h0m1 3.5h0m0 5h0m.5 5.5h0m1-5h0m0 13.5h0m0-102h0m.5 61.5h0m.5-12h0m1-21h0m.5 22h0m.5 47.5h0m1.5-65.5h0m.5 9.5h0m1 29.5h0m1-21h0m0 45.5h0m.5-33h0m0-34h0m1.5 52h0m.5-55.5h0m1.5 40h0m.5 52.5h0m0-51h0m0 7.5h0m0-45h0m.5 30.5h0m.5 11.5h0m.5-5.5h0m1.5-10h0m0-19.5h0m0 72h0m1-89.5h0m.5 66.5h0m0-22.5h0m0-54.5h0m.5 68.5h0m1 6.5h0m.5-57.5h0m.5 49.5h0m.5-6h0m.5 15h0m0-47h0m1-12h0m0 31.5h0m.5-47.5h0m1.5 6h0m1 16h0m.5 46.5h0m.5-1.5h0m.5-8.5h0m2-.5h0m.5-37.5h0m0 19.5h0m.5 34.5h0m1-9h0m0-25h0m.5-27.5h0m0-16.5h0m.5 64.5h0m.5 0h0m.5-22.5h0m1.5 16h0m0-66.5h0m1.5 24h0m1 33h0m1 17h0m0-23.5h0m2-28.5h0m2 46.5h0m.5-37h0m.5-9h0m0 4.5h0m0 2.5h0m1 3h0m.5 14h0m1.5-32h0m0 60.5h0m0-14h0m.5-9.5h0m.5 2.5h0m.5-45h0m0 29.5h0m1 7h0m0-4h0m.5 32.5h0m1-18.5h0m2 15h0m0-13.5h0m.5-1.5h0m.5-2.5h0m.5-23h0m1 54.5h0m2-1.5h0m0-63h0m1 74.5h0m.5-81.5h0m0 70h0m.5-54h0m.5 0h0m.5 17.5h0m.5 5h0m2 33.5h0m0 .5h0m.5-7.5h0m0-9.5h0m.5-44.5h0m.5 23h0m1-17h0m1 44.5h0m1 18h0m1-20h0m0-13.5h0m.5-6.5h0m.5-20.5h0m1 27.5h0m0-21.5h0m.5 0h0m.5 4h0m.5 39h0m.5-23h0m0 15h0m1-58h0m2.5 54h0m.5-35.5h0m1 4.5h0m.5 18.5h0m0 .5h0m1.5-3.5h0m1 27h0m0 12.5h0m.5-38.5h0m2 12h0m0 3.5h0m.5-21.5h0m.5 15.5h0m0-6h0m1.5-42h0m0 57.5h0m.5-67.5h0m0 67.5h0m.5 2.5h0m.5-52h0m0 53.5h0m1 23.5h0m0-30.5h0m1-17.5h0m.5-5h0m1.5 21h0m0 20h0m1.5-20.5h0m0-15h0m0-19h0m.5 31.5h0m1 6.5h0m0-60h0m1 68h0m.5-44.5h0m.5 19h0m0 34h0m.5-24.5h0m.5 13.5h0m0-25.5h0m.5-14.5h0m1 22.5h0m1-19h0m0-14h0m1 11h0m1-13.5h0m.5 25h0m0 3h0m.5-18h0m0 53h0m1-57h0m0 22.5h0m0-23.5h0m.5-5h0m.5 82.5h0m1.5 7h0m0-17h0m1-17.5h0m0 46.5h0m1-52h0m0-14h0m1-7h0m.5-35.5h0m1 3h0m.5 92.5h0m.5-25h0m.5-72.5h0m.5 18h0m1.5 16h0m0-18.5h0m.5 31.5h0m1-17h0m.5 18h0m.5-29h0m.5 4h0m.5-11.5h0m1-1h0m0 36h0m.5-4.5h0m.5-11.5h0m.5 0h0m.5 29.5h0m1 12.5h0m0-32h0m.5-12.5h0m1-7.5h0m0-6.5h0m1 55h0m1-34.5h0m.5-3h0m1 27.5h0m1-25.5h0m1 40h0m.5-39.5h0m0-13.5h0m0 44h0m.5 .5h0m0-14.5h0m1.5-21.5h0m0 20h0m0 35.5h0m.5-38.5h0m.5-33h0m0 32h0m0 6.5h0m0-41.5h0m.5 59h0m0-46h0m.5-24h0m1.5 25h0m0 29h0m.5-12h0m.5-12h0m.5 30.5h0m0-65h0m.5-9h0m1 60h0m.5 26.5h0m1-23.5h0m1 26h0m2-89.5h0m0 35.5h0m1.5-16.5h0m0-6h0m0 51h0m0 3h0m1-61.5h0m0 61.5h0m1.5 13h0m.5-53.5h0m.5 47h0m.5-51h0m.5 46h0m0-25.5h0m1-30.5h0m0 13h0m.5-11.5h0m0 58h0m1-21.5h0m.5 35h0m0-41h0m1 10.5h0m.5 26h0m.5-17h0m0-32.5h0m2 1h0m2 26.5h0m.5-35.5h0m0 6h0m0 38h0m.5-51h0m.5 52.5h0m1.5-55h0m.5 28.5h0m.5 6h0m2-2h0m.5-28.5h0m0 39h0m.5-55h0m2 9.5h0m.5 16h0m0 31h0m1-22h0m0 29h0m1.5-57h0m0 52.5h0m.5 5h0m0-16h0m1.5-24h0m0 38.5h0m0 16h0m.5-40.5h0m1.5-8.5h0m1 24h0m.5-34h0m1 36.5h0m.5 18.5h0m0-12.5h0m1-7h0m.5-7h0m.5 30h0m27.5-27h0m2-19h0m.5-3h0m.5 45h0m0-15h0m0-11.5h0m.5-15.5h0m.5 31.5h0m0 9h0m0 17h0m.5-66h0m.5 30h0m0-25.5h0m0 11.5h0m0-2h0m.5 16h0m.5-21h0m0-7.5h0m1.5 20.5h0m0 24h0m0-44.5h0m.5 2h0m1 33.5h0m1-41h0m1.5 37.5h0m0-37.5h0m.5 46.5h0m.5 7.5h0m.5-38.5h0m.5 23.5h0m1-4.5h0m1-32h0m.5 52.5h0m.5-17h0m0-15h0m1 11.5h0m0-26.5h0m.5-23.5h0m0 28h0m.5-7h0m0 25h0m1-14h0m.5 32.5h0m.5 15h0m0-10h0m0-11h0m.5 9.5h0m2.5-71.5h0m1 64.5h0m.5 10.5h0m0-38.5h0m.5 41.5h0m.5-29h0m0-38.5h0m0 61.5h0m0 14.5h0m1-30h0m.5-19h0m0 9.5h0m1-23.5h0m1 20.5h0m0 12h0m0-37h0m0 .5h0m.5 14.5h0m0 28.5h0m.5 3.5h0m2-53h0m1 18h0m0 26h0m.5 18.5h0m0-54.5h0m.5 8h0m0 43h0m.5-5.5h0m1.5-32h0m0 15h0m0 25h0m.5 10.5h0m0-70.5h0m0 95h0m1-22.5h0m1-29h0m.5-7.5h0m0-24.5h0m1 5h0m.5 37h0m0-27.5h0m.5 13.5h0m.5 7.5h0m2.5-29.5h0m2 45h0m.5-45h0m.5 11h0m0 21h0m.5-23.5h0m.5 20h0m.5-4.5h0m.5-18h0m.5 20.5h0m0-9.5h0m1 14h0m.5-48h0m0 7.5h0m0 41.5h0m.5-45.5h0m0-13.5h0m1.5 22h0m0 15h0m1 36.5h0m.5-34.5h0m.5-10.5h0m0 3.5h0m.5 14h0m.5-42.5h0m.5 6.5h0m4 29h0m1 33h0m.5-25.5h0m1-30.5h0m.5-2.5h0m0 30.5h0m1.5 28h0m0-47.5h0m.5 7.5h0m0-6.5h0m.5-19h0m.5 26h0m1.5 22h0m1 45h0m.5-58.5h0m.5 25.5h0m0-50.5h0m1 4.5h0m0 43h0m0-37.5h0m.5 27.5h0m0-1.5h0m1 36.5h0m2-103.5h0m.5 64h0m2 39.5h0m.5-66h0m0-33h0m1 30h0m1 60h0m.5-64.5h0m0 51h0m1-57.5h0m.5 26h0m2.5-18.5h0m0 24.5h0m1.5-27h0m0-11h0m3 66.5h0m2 7h0m1.5-1.5h0m1 3.5h0m1-29h0m1-39h0m.5 48.5h0m1-20h0m.5 9h0m1.5-10.5h0m.5-3h0m1.5 38.5h0m0-41h0m1.5 2.5h0m2.5 51h0m0-45.5h0m.5-.5h0m3-2h0m.5-5h0m.5 8.5h0m0 5h0m4.5 14h0m1-32h0m1-22.5h0m.5 15.5h0m0-3h0m2.5-5.5h0m0 51h0m0-29.5h0m2 49.5h0m.5-75.5h0m0 41h0m5.5-2h0m.5 36.5h0m0-80h0m0 24.5h0m1-13h0m.5 36.5h0m1-32.5h0m.5-1h0m0 32h0m0-29.5h0m0-7h0m1 35h0m.5-36h0m1-5h0m1 30h0m.5 36h0m2-10.5h0m5-51h0m1 53h0m.5-.5h0m1 11.5h0m1.5-17.5h0m0-30.5h0m.5 30h0m.5 33h0m1-72.5h0m0-10.5h0m.5 38h0m0 11h0m2-47h0m.5-24h0m4 71h0m0-14.5h0m1.5-7.5h0m.5-47.5h0m0 15h0m.5 31h0m0-4.5h0m.5-21.5h0m.5-5h0m.5 8h0m.5 49h0m1-43.5h0m.5 101h0m0-65h0m1-23.5h0m0-1h0m.5 2.5h0m.5 0h0m0-8.5h0m1.5-12h0m.5 44.5h0m0-27h0m.5-7h0m0-19.5h0m2 56h0m0-28h0m.5 52.5h0m3-83.5h0m.5 59h0m.5-34.5h0m2-2h0m.5 26h0m1-18h0m2 35.5h0m3-16h0m0 12h0m.5 21.5h0m1-8h0m1-4.5h0m1-38.5h0m.5-10h0m.5 41.5h0m0-12.5h0m1.5-35.5h0m0-10.5h0m.5 73.5h0m0-2h0m0-19.5h0m1.5 3.5h0m1-24.5h0m.5 15.5h0m.5-23h0m.5 1.5h0m.5 1h0m.5 9.5h0m0-25.5h0m.5-5h0m0 16h0m0-7.5h0m.5 26.5h0m2-31h0m.5 17h0m.5-6h0m0-10.5h0m.5 12.5h0m.5 37.5h0m0-37.5h0m.5-6.5h0m0 43.5h0m.5-20.5h0m1.5-6.5h0m1-26h0m2 43.5h0m.5-28h0m0-18h0m2.5 26.5h0m.5 .5h0m1 9.5h0m0-24.5h0m0 9h0m0-10h0m1 36h0m1.5 19h0m1-49h0m0 35.5h0m.5-44h0m.5 21h0m1.5 12h0m2.5 12.5h0m0-12.5h0m.5 8.5h0m0-23.5h0m.5-7.5h0m.5 8h0m0 8h0m.5 7h0m.5-7h0m.5 26.5h0m.5-23h0m0 18.5h0m0-28h0m.5 37h0m.5-44.5h0m1-4.5h0m1 9h0m0 41.5h0m0 4.5h0m3-29.5h0m1.5 34.5h0m1-45h0m1.5 24h0m1-10.5h0m1-36h0m.5 39h0m2 14.5h0m0-32h0m.5-.5h0m0-14.5h0m2 11.5h0m0 69h0m2-44.5h0m1-57h0m0 37h0m.5-5h0m.5 6h0m0 32.5h0m0-5h0m0-54h0m.5 76.5h0m0-92.5h0m.5 27.5h0m0 27h0m1 23h0m0 10.5h0m1-38h0m1 25.5h0m0-1h0m.5-24.5h0m0 4.5h0m.5-27h0m.5-21.5h0m.5 27h0m0-16.5h0m.5-5.5h0m0-15h0m1-2h0m0 15h0m0-4.5h0m1 94h0m.5-52.5h0m0-11.5h0m.5 11h0m.5 33.5h0m.5-16h0m1 22h0m.5-51.5h0m.5-12h0m0 67h0m.5-57h0m1-9.5h0m.5 39.5h0m1-47h0m0 37h0m.5-31h0m0-18h0m2 41h0m0-13h0m1.5 36h0m0 22.5h0m0-83h0m.5 6h0m.5 54h0m1-40h0m.5-11.5h0m.5 38h0m0-7.5h0m.5 22.5h0m.5-8h0m1.5 1.5h0m1-40.5h0m3.5 21h0m.5-5h0m0 31h0m0-18h0m1.5 21h0m0-49.5h0m.5 56.5h0m.5-19.5h0m.5-2.5h0m0-48h0m1 80h0m1.5-6h0m1-42h0m0 15.5h0m0 12.5h0m1 9.5h0m.5-53h0m0 39h0m0 37h0m.5-31h0m0-27h0m0-4h0m.5 14.5h0m0 6h0m.5-20.5h0m2 35.5h0m1-22h0m1 34.5h0m1.5-43h0m.5 38h0m.5-47.5h0m2.5 0h0m0 47.5h0m.5 10.5h0m0-45h0m.5-16.5h0m.5-5.5h0m0 36h0m1.5-3.5h0m1 7h0m.5-23.5h0m0 13h0m1-25h0m1 21h0m.5 14h0m.5 4.5h0m1.5-14.5h0m2-44h0m1.5 11.5h0m0 22.5h0m.5-1h0m.5-28.5h0m1-13h0m.5-3.5h0m1 19.5h0m2.5 2h0m0 28.5h0m.5 1.5h0m.5 16h0m0-41.5h0m.5 48h0m1-52h0m1 65h0m0-28.5h0m1.5-35.5h0m0 39h0m.5-12.5h0m.5-11h0m0-4.5h0m.5 36h0m.5-38.5h0m1 53.5h0m.5 1.5h0m2.5-2.5h0m0-45h0m.5-1.5h0m0 13h0m1-7.5h0m1 2h0m0 49.5h0m1-16h0m.5-16h0m1.5-20.5h0m.5 3h0m.5 24.5h0m1 9.5h0m0-29h0m0-9.5h0m1.5 42h0m.5-23h0m1-16h0m0 13.5h0m0-6.5h0m.5 27.5h0m.5-36h0m2 20h0m2.5 .5h0m.5-31h0m.5 9.5h0m1-31h0m.5 36.5h0m0-12.5h0m0 4.5h0m1.5 40.5h0m.5-38.5h0m0-43h0m0 50h0m.5 22h0m0-39h0m.5 49.5h0m1-69h0m0 9.5h0m0 29h0m1.5 5.5h0m0-40h0m0 45h0m0 28.5h0m0-82.5h0m.5 24h0m1-30h0m.5 23h0m.5 14h0m.5-3h0m3 43.5h0m.5 7.5h0m.5-5.5h0m.5-20h0m0 11h0m0-58h0m1 8.5h0m.5 28h0m.5-51.5h0m.5 24.5h0m.5-.5h0m.5 17.5h0m.5-13.5h0m0 29h0m1-25.5h0m1.5 14.5h0m1.5 33h0m2-26h0m.5 37.5h0m0-43h0m0 2h0m.5 31h0m.5-24.5h0m1.5-19h0m19 26h0m0 28.5h0m1-55.5h0m.5 37h0m.5 9.5h0m0-46h0m0-4h0m.5 18h0m1.5 36.5h0m.5-55h0m0 64h0m1-74.5h0m0 .5h0m1 29h0m1 12.5h0m1 7.5h0m1 15h0m.5-62h0m1 32.5h0m.5-17.5h0m1 50.5h0m.5-72h0m1 47.5h0m0-31h0m1 26h0m0-30.5h0m0-25.5h0m1.5 41.5h0m0-40h0m.5 22h0m.5 61h0m1 2.5h0m0-48.5h0m1 15h0m.5-38h0m1-3.5h0m.5-1h0m0-1.5h0m.5 84.5h0m0-72h0m.5 23.5h0m.5-6h0m.5 23.5h0m0-40.5h0m0-10.5h0m.5 8h0m.5 56h0m1-60h0m1 28h0m1 7.5h0m1 3h0m.5-3.5h0m0 15h0m1-23.5h0m0 7h0m0 7h0m1 13h0m1-5h0m0 10.5h0m.5 4.5h0m1.5-13.5h0m.5-13h0m0-3h0m0-2.5h0m0 31h0m1 2h0m0-5.5h0m.5-19.5h0m1 21.5h0m.5-12.5h0m.5-17h0m1 5.5h0m.5 4.5h0m0-18h0m.5-9.5h0m1.5 53.5h0m.5-12.5h0m1-30.5h0m0 2h0m.5 38h0m0-11.5h0m.5-18h0m.5 2.5h0m0 18h0m0 6h0m0-35h0m.5 1h0m1.5 6h0m0 4h0m0-6.5h0m.5 32.5h0m.5-2.5h0m.5-39.5h0m.5 34.5h0m.5-37.5h0m.5 .5h0m0 38.5h0m1.5-49h0m.5 53.5h0m.5-9h0m1-7.5h0m1-50.5h0m.5 64h0m.5-15.5h0m0-22.5h0m0 15h0m0-39.5h0m.5 51h0m1.5-55.5h0m1 59h0m3.5-28h0m.5-27.5h0m1.5 8h0m0-10h0m1.5 40.5h0m0 32.5h0m.5-68h0m.5-9.5h0m1.5 44h0m.5-3.5h0m.5 5.5h0m0-3.5h0m1.5-17h0m.5-2.5h0m.5-22.5h0m0 44h0m.5 23h0m15-36.5h0m.5 16.5h0m2-22h0m0 61.5h0m.5-10.5h0m.5 20h0m.5-23h0m.5 7h0m.5-56.5h0m.5 35.5h0m.5 4.5h0m.5-34.5h0m.5 12.5h0m.5 31h0m1-46h0m1 33h0m0-13.5h0m1 34.5h0m.5 4.5h0m.5-74.5h0m0 6h0m0 62h0m.5-9.5h0m1 0h0m.5-25h0m1-3.5h0m0 28h0m.5-29.5h0m1 15.5h0m.5-15.5h0m0-2.5h0m1 48h0m2-42.5h0m1 12.5h0m0-2.5h0m0 14h0m.5-2h0m2-10.5h0m0 27h0m0-56.5h0m0 38.5h0m.5-14h0m0 1.5h0m.5-34.5h0m.5 15h0m1 53.5h0m.5-11.5h0m0-11h0m2-2h0m.5-33.5h0m0 43.5h0m2-26h0m.5 14.5h0m0-30h0m.5 49h0m2-5h0m.5-2.5h0m2-79.5h0m1 56.5h0m0 10.5h0m1-18h0m1-16h0m.5 40.5h0m1-57h0m.5 42h0m1-29h0m.5 5h0m0-9h0m.5 40h0m1.5-53h0m0 62h0m.5-52.5h0m.5-1.5h0m0 29.5h0m1-9h0m0 44h0m.5-10h0m.5-45.5h0m0 57.5h0m1.5-10.5h0m0-5.5h0m.5 7h0m1.5-53h0m1-10.5h0m.5 22.5h0m1.5 32.5h0m.5-64.5h0m0 62.5h0m1-59.5h0m0 10.5h0m0 27.5h0m1.5-11.5h0m0 .5h0m.5 26h0m1-39.5h0m0 5h0m.5 16.5h0m.5 10h0m1-18.5h0m0 33h0m1.5-4h0m.5-34.5h0m.5-9h0m0 69h0m1-42h0m2 48.5h0m.5-80h0m18.5-8h0m1.5 34h0m.5-11h0m.5-6.5h0m1 48h0m0-21h0m.5 7h0m.5-4h0m.5 22.5h0m0-30h0m.5 4.5h0m.5 23.5h0m0-29h0m2.5-19.5h0m.5 24h0m1.5 34.5h0m0-37h0m0 28.5h0m.5 13h0m1-59.5h0m.5 38.5h0m0-6.5h0m.5 41.5h0m1.5-74.5h0m1 49h0m0-54.5h0m.5 5h0m.5 30.5h0m0 9h0m.5-.5h0m0 13.5h0m.5-12.5h0m1 15.5h0m.5 6h0m0-21h0m1-4.5h0m0-17.5h0m1-25.5h0m0 26.5h0m1.5-15.5h0m1 26h0m.5 12.5h0m.5-40h0m2 63h0m.5-67h0m0 2.5h0m0-1.5h0m0-5.5h0m.5 15.5h0m0-11.5h0m1.5 37h0m0-42h0m.5 56h0m.5 28.5h0m.5-67.5h0m.5 37.5h0m0 17.5h0m1-38h0m0 26h0m.5-26.5h0m1 31h0m.5-10h0m0-61h0m.5 49.5h0m.5-9.5h0m.5 27.5h0m.5 3.5h0m1 3h0m0-65.5h0m.5 29h0m0 41h0m.5 5.5h0m1-15h0m0-31.5h0m1.5 28.5h0m.5-4h0m.5 15.5h0m1 15h0m1.5-48h0m1 0h0m0-46h0m.5 19.5h0m0 38h0m2-23.5h0m1.5 21h0m.5 7h0m0-52h0m0 63h0m1.5-46h0m.5 59.5h0m1-76h0m0-15.5h0m.5 11h0m.5 21h0m0-36.5h0m2 45h0m0 60.5h0m1-99.5h0m1 46h0m0 13.5h0m1-15.5h0m1-29h0m.5-12h0m1 21.5h0m0-20h0m0 26.5h0m.5 29h0m0 5h0m0-6h0m0-17h0m1-16.5h0m.5-3h0m1 8.5h0m1.5-20h0m0-16h0m1 53h0m1-30.5h0m.5 33.5h0m.5-16.5h0m1.5 17h0m.5-33h0m.5-9.5h0m3 13.5h0m.5 39.5h0m.5-49.5h0m0 6.5h0m0 13.5h0m.5 7h0m0-30h0m0 47h0m5 6h0m0-10.5h0m1-22.5h0m1-19.5h0m0 7h0m.5 12h0m0 25h0m.5-40h0m.5 36.5h0m.5-30.5h0m10.5-20h0m0 6.5h0m.5 36.5h0m1-41h0m3 30h0m.5-23.5h0m0 78h0m0-29.5h0m.5-24.5h0m.5 38.5h0m.5-24.5h0m0-43.5h0m0 27.5h0m.5 6.5h0m0 38h0m0-50h0m1-15.5h0m0-10h0m1.5 35.5h0m.5 33h0m1-2.5h0m0-19.5h0m4.5 7.5h0m0-31.5h0m1-6.5h0m0 60h0m1-69.5h0m1.5 1h0m.5 47h0m0-32h0m2.5 16.5h0m0 20.5h0m0-32.5h0m1.5 3.5h0m0-27h0m.5 22.5h0m.5-15.5h0m0 22.5h0m0 17.5h0m0-14h0m.5-16h0m1 8.5h0m0 6.5h0m1 11.5h0m0-40.5h0m0 9.5h0m1-21h0m0 22.5h0m.5 37.5h0m.5-41.5h0m1.5 14h0m.5 2.5h0m0-14h0m1.5-21h0m0 6.5h0m1 .5h0m0 54.5h0m3.5-5.5h0m.5-37.5h0m.5 24h0m1 34h0m.5-33.5h0m.5 29h0m.5-11.5h0m1-21h0m.5 64h0m0-92h0m1-20h0m2.5 20.5h0m0 16.5h0m.5-22.5h0m1 28h0m0 42.5h0m1.5-84h0m0 16h0m1 24.5h0m0 32h0m1-12.5h0m.5-16.5h0m.5-12.5h0m0 24h0m0-46h0m0 67h0m.5-25h0m.5 10.5h0m.5-22.5h0m1.5 30h0m2-50.5h0m1.5 14.5h0m1 3.5h0m1-6h0m0 14h0m1.5-26.5h0m1-2h0m.5 40.5h0m.5-33.5h0m.5 44.5h0m.5-29h0m2.5 22h0m.5-14.5h0m0-30h0m.5 31.5h0m1-1.5h0m.5-21h0m1.5 22.5h0m.5-10.5h0m0 11.5h0m0-34.5h0m2 35h0m.5-25.5h0m.5-18h0m.5 10.5h0m.5 52h0m.5-40h0m2 38.5h0m1.5-3h0m0-9h0m0-1h0m.5-52h0m4.5 26h0m0 33h0m.5 46h0m1-70.5h0m0 37.5h0m1 7.5h0m.5-30.5h0m.5 9.5h0m0-20.5h0m1.5-9.5h0m1.5 15h0m0 3.5h0m.5-27h0m0 21h0m1 18.5h0m0-6h0m.5-29h0m1.5-3h0m1-8.5h0m1.5 25h0m.5-9h0m1-4.5h0m.5-7.5h0m1 27h0m0-10.5h0m0 11.5h0m.5 36.5h0m1-44.5h0m3 21h0m.5-36.5h0m1 33.5h0m.5-28.5h0m.5 24h0m.5-10h0m2 6.5h0m.5 20h0m0-20.5h0m0 1.5h0m.5-22h0m.5 54.5h0m0-14.5h0m1.5-39h0m1.5-7.5h0m0 66h0m.5-28h0m0-25.5h0m.5 14h0m0 14.5h0m1 17.5h0m0-15h0m1.5-44.5h0m.5 13.5h0m0 38h0m.5-44h0m0 1.5h0m1-24.5h0m.5 64.5h0m1-30h0m.5 36h0m1-3.5h0m1-67.5h0m0 55.5h0m1-.5h0m0 17.5h0m1-45h0m0-9.5h0m1 45h0m0-40.5h0m3.5-1.5h0m0 52h0m.5-13h0m1.5-3.5h0m.5-34h0m0 31.5h0m1.5-11h0m.5 29h0m0 7h0m.5-63h0m1 55.5h0m.5-24h0m.5 25.5h0m0 11h0m0-31h0m.5-27h0m0 43.5h0m0-28.5h0m1.5 10h0m1-13.5h0m.5-5.5h0m1 17.5h0m.5 13h0m0-21.5h0m1-13h0m0-26h0m.5 83.5h0m.5-10.5h0m.5-25h0m2-29h0m1 53h0m0 30.5h0m.5-85.5h0m.5 31h0m0 29h0m1-24.5h0m.5-22.5h0m0 40.5h0m1.5-25.5h0m2.5-9.5h0m1.5-18.5h0m.5 24h0m0 0h0m1.5-22.5h0m.5 45.5h0m1-22.5h0m.5 11.5h0m0-19h0m.5 37.5h0m.5 7h0m0-54h0m.5 13h0m0 1h0m.5 0h0m1-13h0m0 32h0m1-9h0m1.5-33h0m1 44.5h0m.5-7.5h0m.5 22.5h0m.5-8.5h0m.5-38h0m0 42h0m1.5-40h0m0 29.5h0m0 7.5h0m.5-47.5h0m.5 17h0m1.5 45.5h0m0-35h0m1-13.5h0m0 30h0m.5-14.5h0m.5-11.5h0m.5 24.5h0m.5-14.5h0m.5 28h0m1-16h0m0 21h0m0-41.5h0m.5-2h0m0 9h0m1.5-5h0m.5-17.5h0m1 49h0m.5-11h0m0 16h0m.5 11.5h0m2.5-37h0m.5-31.5h0m.5 71h0m1-27h0m.5 27.5h0m0-16h0m.5-14h0m.5-35h0m.5-10h0m.5 7.5h0m0 51h0m.5-41h0m.5 32.5h0m.5-19.5h0m1-27.5h0m0 46.5h0m.5 28.5h0m1-56h0m1.5 32h0m1-13.5h0m.5 14h0m1-44.5h0m1 44h0m0-23h0m.5 36.5h0m0-57h0m1.5-5.5h0m.5 6h0m.5-30h0m1 68h0m.5-16.5h0m1-5h0m1.5-35.5h0m0 48.5h0m0-26.5h0m0 24h0m.5-27.5h0m0-16.5h0m1-.5h0m0-3.5h0m.5 7.5h0m0 4.5h0m0 6h0m.5-10.5h0m1-2.5h0m.5 46h0m0-29h0m.5-2h0m.5 43h0m0-37.5h0m1 30.5h0m0-47.5h0m1 52.5h0m1-12.5h0m1.5-17h0m1.5-29.5h0m0 64h0m1-65h0m0 21.5h0m2-.5h0m0 11h0m.5 4.5h0m2-30.5h0m1 45.5h0m.5-21h0m1-16h0m0 1.5h0m1.5-25h0m0 66.5h0m.5-4h0m.5-9h0m.5-47.5h0m0 42h0m.5 17h0m.5-57h0m0 10.5h0m1-31h0m.5 39.5h0m1 25h0m1.5-33h0m.5 33h0m2 .5h0m1-9h0m0 7h0m1.5-24h0m.5-.5h0m0-22h0m.5 1.5h0m0 32h0m0-15.5h0m.5 25h0m.5 11.5h0m0 .5h0m2-39h0m.5 21h0m0-14h0m.5 11.5h0m0 20h0m.5-51h0m0 33h0m.5 1h0m0-38.5h0m1 17h0m.5 14.5h0m0 35.5h0m.5-19.5h0m0-21.5h0m1.5-23h0m0 14.5h0m2 3.5h0m12.5 9.5h0m0 43.5h0m1-15h0m0 6.5h0m1 28h0m1.5-57.5h0m1 21h0m.5-10h0m1.5 30.5h0m0-46.5h0m1.5 32h0m0 5h0m0-10.5h0m1-24h0m.5-8.5h0m0 50.5h0m.5 6h0m2.5-11h0m.5-1h0m0-11h0m1.5-49.5h0m1 28h0m0-23h0m.5 1.5h0m0 62h0m.5-28h0m.5 24h0m0-66.5h0m1 18.5h0m.5-1h0m1 18.5h0m.5 9h0m.5-30.5h0m0-16.5h0m.5 49.5h0m.5-49h0m0 13.5h0m.5-8h0m.5 12h0m.5 19.5h0m0-32h0m0 47.5h0m.5 13.5h0m0-1.5h0m.5-13h0m.5-27h0m.5-5.5h0m0-9.5h0m15 32.5h0m0-30.5h0m0-5.5h0m.5 0h0m0 11.5h0m.5-.5h0m0 21h0m.5-31h0m0 23.5h0m0 2h0m.5-3.5h0m0-7h0m.5 19h0m0 9.5h0m1.5-15.5h0m.5 26.5h0m0-29h0m.5-5h0m.5 5h0m0 8h0m.5 6.5h0m.5-34.5h0m.5 8h0m0 20.5h0m1-22h0m0-3.5h0m.5-15.5h0m0 34.5h0m0-31.5h0m.5 25h0m0-13h0m1 16h0m.5 19h0m.5-15.5h0m.5 15h0m0-43.5h0m.5 6.5h0m0 38h0m.5-5h0m0-5.5h0m1-9.5h0m0-16h0m1 47h0m.5-19h0m0 14.5h0m0-44.5h0m.5 34.5h0m1 3h0m1-28h0m1 4h0m0-7.5h0m.5-6.5h0m.5 60h0m0-63.5h0m.5 13h0m.5 6.5h0m0 17.5h0m0-34.5h0m.5-.5h0m.5 42.5h0m.5-5.5h0m0 16.5h0m1-58.5h0m0 53h0m6.5-92.5h0m1.5 27h0m.5-7h0m.5 17h0m.5 14h0m2-45h0m1.5 25h0m.5-1.5h0m0 14h0m1-18.5h0m0-16h0m.5 9h0m.5 24h0m.5-4h0m.5 24.5h0m0-67h0m1.5 36.5h0m.5 28h0m0-65h0m.5-8.5h0m2 60h0m0-25h0m0 11.5h0m1-31h0m2-2h0m.5 65.5h0m1.5-31.5h0m0-41.5h0m.5 43h0m0-42.5h0m.5 62.5h0m1-22h0m0 27.5h0m.5-36h0m.5-21h0m.5 7h0m.5 46.5h0m1-47h0m.5 6.5h0m0 26.5h0m.5-25h0m.5 26h0m2-8h0m.5-6.5h0m0-36h0m.5 25.5h0m0-31h0m.5 6h0m0 43.5h0m.5 3.5h0m.5-37.5h0m0-14h0m.5 58h0m.5 13.5h0m0-37.5h0m3-6h0m1 53h0m0-51h0m.5-19h0m1.5 31.5h0m.5 11.5h0m0-5.5h0m0-3.5h0m.5 17.5h0m.5-66.5h0m0 38h0m.5-26.5h0m2.5 59h0m1-12h0m1-16h0m0-33.5h0m1 10h0m1-.5h0m0 54h0m1-41h0m0-31h0m.5 66h0m0-33.5h0m3 19.5h0m.5 29.5h0m1-11.5h0m.5 2.5h0m.5-61h0m1 38.5h0m0-37h0m.5 26h0m1-20h0m0 16.5h0m1-10.5h0m0 0h0m1.5-18h0m.5-2h0m0 66h0m.5-27.5h0m.5 6.5h0m.5-41h0m1-11h0m5 81h0m6-25.5h0m0-12.5h0m0-29.5h0m.5 45.5h0m.5-33h0m.5-8.5h0m0-1h0m.5 4h0m0 53h0m2-78.5h0m0 47h0m1 21.5h0m0-20.5h0m.5 14.5h0m1 1.5h0m.5-13h0m.5-31.5h0m.5 33h0m1.5 17h0m.5-55h0m.5 43h0m0 12h0m.5-24.5h0m.5-29.5h0m0 0h0m1.5 21h0m1.5 30h0m.5 19.5h0m1.5-73h0m.5 38.5h0m.5-11.5h0m.5-24.5h0m.5 46h0m0-60.5h0m.5 84.5h0m1-50h0m.5-17.5h0m.5 20h0m2 33.5h0m.5-16h0m0-20.5h0m.5-4h0m0-2h0m.5 34.5h0m.5-17.5h0m1-15h0m1 36.5h0m1.5-28h0m2.5 45h0m0-5h0m0-66h0m0 35.5h0m2-3h0m.5-26.5h0m.5 32h0m2 5.5h0m0-25h0m.5-13h0m0-15.5h0m.5 39h0m.5-23h0m.5 7.5h0m.5 50.5h0m1-23.5h0m0 11.5h0m0-39.5h0m.5 14h0m0-29h0m.5-5h0m.5 58.5h0m1.5-29h0m0 34h0m1-64h0" stroke-width="7"/>
<path d="M124.5 552h0m.5-5.5h0m0 11h0m1.5-19h0m.5 53h0m2.5-16.5h0m0-3h0m0-12.5h0m6.5 10h0m.5 29h0m1-30.5h0m2 7h0m2 22.5h0m1.5 6h0m0-35h0m1.5-12.5h0m1 56.5h0m.5-50h0m1.5 19h0m5.5 38.5h0m.5-76.5h0m3.5 20h0m2 30.5h0m1 21h0m1-63h0m0 25h0m1.5 34.5h0m1 8h0m0-19h0m1-46.5h0m.5 69h0m3.5-40h0m1.5-6h0m.5 40h0m1 6h0m.5 25.5h0m1.5-26h0m0-5h0m.5-30h0m2 38.5h0m1 4h0m0-26.5h0m.5-19h0m0 35.5h0m1-14h0m.5 22.5h0m.5-41h0m2 16h0m7.5-41h0m0 44.5h0m2-4.5h0m3-39.5h0m.5 8.5h0m.5 74h0m.5-23h0m1-66h0m.5 47.5h0m3.5 20h0m.5-38h0m.5 31h0m4.5 1.5h0m1.5 6.5h0m1.5-50h0m.5 47h0m.5-38h0m0 25.5h0m.5-5h0m.5-50h0m2 60h0m.5-39h0m.5 8.5h0m.5-14h0m22-49h0m.5 80.5h0m1-29h0m1.5 35.5h0m0-37h0m1.5 15.5h0m1 27h0m0-31h0m.5 3.5h0m3.5-4.5h0m.5 22h0m.5 .5h0m2-75.5h0m0 39.5h0m.5 9.5h0m1.5-17h0m4 3.5h0m1 48.5h0m1-42.5h0m1 18.5h0m1-18.5h0m0 32h0m2.5 14.5h0m1.5-79h0m1 42.5h0m0 33h0m1-52.5h0m1.5 53h0m0 25h0m4-37.5h0m3 13.5h0m0 11h0m1-19.5h0m1-7.5h0m1.5-30h0m0 27.5h0m0 47h0m.5-23h0m1.5 7h0m.5-7.5h0m1.5-3h0m1.5-43.5h0m.5 36.5h0m0-6h0m1-31h0m0 22h0m.5 18.5h0m1.5-51h0m1 38.5h0m.5-30h0m2-9.5h0m1.5 38.5h0m1 13h0m3-16h0m1.5-34h0m1 43.5h0m.5-12.5h0m.5-44h0m2 58h0m.5-35.5h0m2 34h0m1 27.5h0m2-41.5h0m0 31.5h0m.5-5.5h0m1.5-25.5h0m2-33h0m.5 40h0m1 .5h0m1 0h0m1-25.5h0m2-9h0m1 31.5h0m.5-19.5h0m1 3h0m1-17.5h0m2 35h0m.5-2h0m1.5 10.5h0m1.5 3h0m0 10h0m0-74h0m.5 62.5h0m1-47h0m1 2h0m1 45.5h0m1.5-32h0m1.5-24.5h0m1.5 33.5h0m2.5-5.5h0m0-40.5h0m1.5 47.5h0m.5-6.5h0m3 36.5h0m.5-31.5h0m.5 18.5h0m0-41.5h0m.5 25h0m.5 19h0m0-31.5h0m.5-32.5h0m0 65h0m0-24h0m.5-25.5h0m1 49.5h0m.5-10h0m1.5-8h0m0 22.5h0m0-24.5h0m2.5 2h0m0-24.5h0m2 29h0m5 .5h0m0-25.5h0m1.5 25h0m1.5 21h0m1.5-55.5h0m1 35h0m2.5-30h0m.5 53.5h0m1.5-46.5h0m.5 44h0m4-38.5h0m.5 16.5h0m2-46h0m.5 27h0m4-6h0m1.5-23h0m0 54h0m.5 2h0m0-27.5h0m.5-10h0m.5 .5h0m2 39.5h0m1-22h0m4.5-34.5h0m1.5 43.5h0m1.5 10.5h0m1-.5h0m0-27.5h0m1 26.5h0m0-16.5h0m1 14h0m2-24h0m0 5h0m0-11h0m1.5 23.5h0m.5 17h0m.5-28.5h0m.5-34h0m.5 49h0m.5-19.5h0m1 18h0m2 15.5h0m.5 .5h0m1-39h0m.5 19h0m.5-15.5h0m.5 27h0m.5 12h0m1-26.5h0m1-30h0m0 54.5h0m.5-15h0m0-20h0m.5-32.5h0m1 84h0m0-22h0m2.5-11.5h0m1.5 19h0m0-33h0m2.5 26.5h0m0-27.5h0m.5 27.5h0m0-14.5h0m1-17h0m0 42h0m1-37h0m1 21h0m1 37.5h0m2-67.5h0m1 49h0m2-27.5h0m.5-19h0m3 1.5h0m.5 50.5h0m1.5-28.5h0m.5-10.5h0m3.5 8.5h0m1 13h0m.5 12h0m0-35.5h0m.5-23.5h0m0 43h0m0-42h0m1 .5h0m1.5 27.5h0m1-26h0m1.5 14h0m0 28h0m1.5 0h0m2.5-42.5h0m.5 4.5h0m2.5 37h0m.5-17h0m1 34.5h0m1-26.5h0m.5-20h0m2.5 41.5h0m.5 3h0m.5-42h0m.5-2.5h0m0-1h0m.5 61h0m.5-68.5h0m2 7.5h0m1.5 50h0m.5-25h0m.5 1.5h0m1.5 43h0m.5-71.5h0m1 9.5h0m0 42.5h0m1 4.5h0m1-49h0m1.5 23.5h0m2.5-46h0m.5 6h0m.5 28.5h0m0-22h0m3.5 54h0m3.5-22h0m.5-24.5h0m0-5h0m1.5 11h0m0 18h0m1-58h0m.5 14.5h0m0 43.5h0m.5 0h0m1.5-21h0m1-16h0m2.5 29h0m1 20.5h0m0-71h0m4.5 24.5h0m1.5 43.5h0m.5-15h0m1-1h0m1 13.5h0m0-42.5h0m.5 19.5h0m0 6.5h0m.5-45h0m1 56.5h0m0-29.5h0m.5 9h0m2-3.5h0m1 23h0m1.5 1.5h0m1.5-37.5h0m.5 15h0m2 33.5h0m0-15h0m.5-38.5h0m0 5.5h0m3 35h0m0-9.5h0m1-21.5h0m1-8h0m0-13h0m.5 12.5h0m.5-3.5h0m.5 46h0m.5-37.5h0m1 12h0m2.5 19.5h0m2.5-16.5h0m0 9h0m3.5 15.5h0m0-54.5h0m0 46.5h0m2 12.5h0m2.5-54.5h0m1 2h0m1.5 35.5h0m3-28.5h0m1 28.5h0m3-13.5h0m3 .5h0m0 23h0m1 9h0m3-44h0m1 11.5h0m0 31h0m.5 5h0m.5 19.5h0m0-87h0m1 66.5h0m0-12h0m.5-49.5h0m1.5-4h0m2 16h0m1 2.5h0m3 56.5h0m.5-31h0m0 3h0m3-3h0m6.5 24.5h0m0-1.5h0m4-27h0m.5 13.5h0m.5 9h0m.5-24.5h0m2 2.5h0m1.5-16.5h0m1.5 8h0m.5 6.5h0m1 4h0m1.5 38h0m.5-53.5h0m.5-3.5h0m1 31h0m.5 5h0m.5 16h0m.5-16.5h0m0 10h0m2-46h0m.5 39h0m1.5-3.5h0m3.5-34h0m.5 40h0m.5 16h0m0-19h0m.5-31.5h0m0 45h0m.5-18.5h0m.5-1h0m1 17.5h0m3-4.5h0m0-63.5h0m0 49h0m0-17.5h0m1.5 30h0m0 1.5h0m1.5 4h0m0-16.5h0m.5-13.5h0m.5-2h0m2.5 11.5h0m2 26h0m.5-7h0m.5 12h0m1-77h0m2 67h0m.5-30h0m1.5 0h0m.5 11h0m0 7h0m.5 4h0m.5-42.5h0m.5 11.5h0m0 11h0m.5 33h0m.5 11.5h0m.5-14.5h0m1 26h0m1-72h0m.5 28h0m3 7.5h0m1 29h0m.5-12h0m.5 3h0m.5 7.5h0m2-11h0m1 6h0m.5-58h0m0 30h0m0 7h0m0-3.5h0m.5-4h0m0 9h0m1.5 5h0m1-51.5h0m0 11.5h0m1 4h0m.5-25h0m1.5 19h0m0 42h0m4 9h0m.5-38h0m0 16.5h0m0-36.5h0m1 12.5h0m.5 54h0m1-11h0m1-5h0m.5-27.5h0m0 31.5h0m1.5-.5h0m1-1.5h0m1-28.5h0m0 11.5h0m3-.5h0m0 8h0m.5-53.5h0m1.5-6.5h0m.5 73.5h0m.5 3h0m.5-11.5h0m0-77.5h0m1 50h0m2.5 41.5h0m.5-54.5h0m1.5 1.5h0m1.5 8.5h0m1.5 46h0m0-25.5h0m0-6.5h0m0 6h0m.5-12.5h0m.5 3h0m0 8h0m2 6.5h0m.5-28h0m.5 26h0m0-34.5h0m0-15h0m.5 52h0m1.5-42h0m1.5 21.5h0m.5-24.5h0m.5 57h0m1.5-36h0m1-5h0m1-24.5h0m1.5 69h0m0-41.5h0m1-11.5h0m1-14h0m1.5 8h0m1 18h0m.5 17h0m1.5 12.5h0m1-20h0m2.5 16.5h0m.5-43.5h0m1 20h0m.5 26h0m1.5 4h0m1 17h0m1.5-6h0m.5 5h0m0-79h0m.5-17h0m.5 34h0m.5 48h0m0-8h0m2 13h0m.5-3.5h0m1-56h0m1-23h0m.5 52h0m.5 7h0m.5-45h0m0 54h0m.5 9.5h0m1-50h0m0-2.5h0m1 1.5h0m.5 12.5h0m1 37.5h0m2.5-15h0m.5-6h0m1.5-7.5h0m2 16h0m1-17.5h0m0 2h0m.5-23.5h0m.5 30h0m4-21h0m.5 22.5h0m1 5h0m3.5 8.5h0m0-6.5h0m.5 22.5h0m0-62.5h0m1 54.5h0m.5-28.5h0m1.5 6.5h0m.5-3.5h0m1.5 23.5h0m.5-36h0m3 22.5h0m0-27h0m1.5 58h0m1-28h0m0-11h0m1 2.5h0m1-14.5h0m.5-3h0m4 27h0m3.5-2.5h0m2 17h0m.5-27.5h0m.5-23h0m1 29h0m.5 1h0m.5-24.5h0m1.5 54.5h0m1.5 5h0m2.5-55h0m1 14h0m.5 31h0m.5-40.5h0m1-13h0m2 27.5h0m1.5 31.5h0m1-41.5h0m.5 30.5h0m1-30.5h0m2-42.5h0m.5 94h0m1.5-21.5h0m.5-42h0m0 8.5h0m4 23.5h0m.5-54.5h0m.5-10h0m2 17h0m2 23h0m0 33.5h0m1-22h0m0-1.5h0m.5-5h0m1 23h0m3-42h0m1.5 47.5h0m.5-42.5h0m0 9.5h0m1.5 6.5h0m0 2h0m3.5 21.5h0m0-71h0m.5 16.5h0m3.5 0h0m1 31h0m0-20h0m.5 27.5h0m0-41.5h0m1.5-12h0m2 24.5h0m.5-25h0m.5 17.5h0m.5-10h0m0 12.5h0m1.5 25h0m.5-37.5h0m1 9h0m5 56.5h0m6.5-21h0m1-.5h0m1 9h0m0 29h0m1.5-48.5h0m1 7.5h0m.5-6.5h0m0 37h0m.5-34.5h0m1-11.5h0m2.5-18h0m3 1.5h0m0 40h0m1-25h0m.5-23h0m.5 60h0m6-32.5h0m2.5 43h0m2-59.5h0m.5 34.5h0m0-31.5h0m1 51h0m1-23h0m1.5-39.5h0m.5 2.5h0m1.5 35.5h0m1.5-22.5h0m1-1h0m3 24.5h0m1-6.5h0m1-2h0m2.5-4.5h0m1-12h0m1 42h0m2.5-42h0m0-26.5h0m1 18h0m0-1.5h0m0 61h0m.5-78h0m5 36.5h0m0 57h0m0-88.5h0m1.5 48.5h0m1.5-16h0m2.5 9.5h0m2 16h0m6-17h0m1-32h0m.5 43.5h0m.5-32h0m1 2h0m1 12h0m0 32h0m.5-61h0m1 1.5h0m1.5 14h0m0-12h0m0 33h0m1.5-16h0m1.5-28.5h0m1 63h0m2-44.5h0m.5 38.5h0m2.5 1.5h0m.5-33h0m0 42h0m1-27h0m1.5 16h0m1-1.5h0m0-5h0m1.5-35.5h0m1 17.5h0m0 38h0m0-56h0m0 48h0m2.5-69h0m0 51h0m.5-17.5h0m0 24.5h0m4.5-48.5h0m.5 41.5h0m.5-21h0m2-2h0m1 36h0m0 3.5h0m.5-57.5h0m1.5 57h0m.5-42.5h0m2-17h0m2.5-3h0m2.5 39h0m4-35.5h0m0 6h0m.5 15h0m0 17.5h0m.5-2h0m.5-29h0m1.5 4.5h0m0 31h0m2.5-31h0m0 41h0m1-64.5h0m.5 7h0m1 7h0m.5 43h0m0-34.5h0m.5 26.5h0m1-95.5h0m0 102.5h0m1.5 1.5h0m.5-9.5h0m1.5-19h0m1-20.5h0m1.5 64h0m0-28.5h0m1.5 35h0m.5-38h0m3 25.5h0m2.5-32.5h0m.5 22.5h0m.5-18h0m1.5 37.5h0m1.5-51.5h0m2 54.5h0m.5-40.5h0m0 28h0m.5-11h0m6 16h0m1 6h0m.5-62h0m3 59.5h0m2-2.5h0m2-51h0m1-8.5h0m.5 13h0m.5 39h0m.5-8.5h0m1.5 54.5h0m1-62.5h0m0-37h0m1.5 13.5h0m.5 37h0m1-48.5h0m.5 44.5h0m.5 1.5h0m4 27.5h0m.5-29.5h0m1 20.5h0m0-11.5h0m0 39.5h0m.5-55h0m1.5 39h0m.5-18.5h0m1-39.5h0m.5 2.5h0m.5 36.5h0m4-12h0m1 19.5h0m1-30h0m1 41h0m0-22.5h0m2.5-44.5h0m1 42.5h0m1-8h0m.5-39h0m0 64.5h0m1-14h0m.5-28h0m2.5 27h0m3-14.5h0m.5 56h0m1-33h0m1-52h0m2 62.5h0m.5-38h0m0 51.5h0m1-75h0m1.5 63h0m2.5-17.5h0m0-23h0m.5 33h0m0-55.5h0m0 20.5h0m.5 48.5h0m.5 1h0m.5-1.5h0m0-9.5h0m1.5-54.5h0m.5 36.5h0m1-18h0m2 41h0m.5-21.5h0m1.5 20.5h0m.5-29h0m2.5-21.5h0m2 39.5h0m.5-54h0m.5 40.5h0m.5-18.5h0m.5 43h0m0-40h0m.5-16h0m3.5 57.5h0m.5-27h0m.5 9.5h0m1-23h0m1-19.5h0m.5 7.5h0m1 52h0m1.5 13h0m1-84.5h0m0 25h0m3.5-20h0m.5 25.5h0m1.5-24.5h0m0-15.5h0m1 52h0m.5-43h0m1.5 46h0m0-48.5h0m0-6.5h0m3.5 47.5h0m.5 39.5h0m.5-69h0m.5 48h0m2 27.5h0m1-102h0m4.5 70.5h0m5-34h0m1.5 19.5h0m6.5-36h0m.5 19h0m0-40h0m.5-2.5h0m6.5 36.5h0m.5-14h0m.5 49.5h0m1-5.5h0m0 20.5h0m5-41h0m0 39h0m1-49h0m5.5 30.5h0m.5 9.5h0m1 15h0m1-11.5h0m.5-9h0m.5-31.5h0m1-19.5h0m1 55.5h0m1-43.5h0m1.5 19h0m.5-24.5h0m0 54.5h0m1.5-13.5h0m.5-42.5h0m0 44.5h0m.5-18.5h0m0-25.5h0m0 1.5h0m3 32.5h0m0 1.5h0m1 10h0m1-34.5h0m0 31.5h0m1-30h0m1.5-19h0m.5 12.5h0m1.5 36.5h0m1-27.5h0m4-5h0m1.5 32.5h0m5.5 8.5h0m1-10.5h0m0 33.5h0m1-27.5h0m.5 31h0m.5-96h0m1.5 52.5h0m.5-51.5h0m1.5 27h0m1.5 33.5h0m6 25h0m0-26.5h0m0 2.5h0m2.5 15.5h0m4.5-37h0m1.5 29.5h0m.5 11h0m0 1.5h0m1.5-7h0m1-8.5h0m1 1.5h0m0-32.5h0m.5-3.5h0m.5 23.5h0m1 34.5h0m1-31h0m1.5 8.5h0m2.5-11.5h0m0 16h0m1.5-32h0m.5 4h0m1-17.5h0m3 26.5h0m.5 4.5h0m.5-23h0m.5-.5h0m1 13.5h0m1-9.5h0m0 24.5h0m3-25h0m2 11.5h0m.5-20h0m0 45h0m2-36.5h0m1.5-3h0m2 30h0m2.5-11h0m.5-37.5h0m2.5 32h0m1.5-20.5h0m0 7.5h0m0 27.5h0m2-43h0m.5 39h0m0-15h0m1-32h0m0 13h0m1 2h0m0-1h0m1.5 42.5h0m2-50.5h0m.5 35.5h0m1 15.5h0m0-22.5h0m0 30h0m4 6.5h0m.5-62h0m.5 61.5h0m5-62h0m4 81h0m1.5-44.5h0m2 36h0m1-5h0m0-54.5h0m1 41.5h0m2.5 12h0m1-30h0m.5-26.5h0m1 29.5h0m.5-4h0m.5-16.5h0m.5-4h0m.5 40.5h0m3.5-4.5h0m.5-46h0m.5 13h0m.5 46h0m1-70h0m1.5 55h0m.5-32.5h0m1.5 20.5h0m1.5-50.5h0m1.5 8.5h0m1 43.5h0m3-35h0m.5 44h0m.5 21h0m1.5-57.5h0m1 46h0m1-16h0m4-5h0m0-38h0m.5 22h0m1.5 14.5h0m.5 8.5h0m0-9.5h0m2 56h0m2-92h0m1 22h0m0-9.5h0m.5 24h0m1-46.5h0m.5 22h0m1-6h0m2-4.5h0m0 58.5h0m0-57h0m1 19.5h0m.5-20.5h0m2 51.5h0m.5-34.5h0m.5-4h0m2 58h0m1-29h0m0-36.5h0m.5 17.5h0m1-2.5h0m.5 0h0m1 32h0m.5 .5h0m1.5-29.5h0m1 29h0m0-56h0m3 35h0m1-20h0m.5 5h0m1-24.5h0m1.5 .5h0m1 31h0m.5 56.5h0m0-13h0m1-35.5h0m0-20.5h0m1 45h0m.5 6.5h0m1-75h0m1 55h0m2.5-30.5h0m.5 13h0m2-24h0m1.5 1.5h0m.5-2h0m0 .5h0m1-6h0m0 44.5h0m.5 30h0m1.5-60h0m0 68.5h0m3.5-48h0m0-1.5h0m0 16.5h0m.5-6h0m2-17h0m.5-16.5h0m.5 30h0m.5 9h0m3 8h0m1.5-18.5h0m.5 18.5h0m1-15.5h0m0-34h0m.5 41.5h0m1-28.5h0m2 34h0m1-14h0m.5 23h0m2-40h0m0 23.5h0m1.5-6.5h0m.5 16.5h0m.5 14.5h0m1-14.5h0m1.5-58.5h0m0 37.5h0m0 13h0m23-6h0m.5-12.5h0m.5-23.5h0m5 28h0m.5-7h0m1 38h0m3-26.5h0m2 23h0m1.5-37.5h0m1.5-25.5h0m0-14.5h0m.5 37h0m.5 9h0m0 9h0m.5 37.5h0m2.5-10h0m.5-9h0m1-39h0m0 .5h0m1 15.5h0m.5 27.5h0m1-15.5h0m1-28.5h0m0-10.5h0m.5 33.5h0m.5 13.5h0m.5-71h0m1 99.5h0m.5-65.5h0m.5 10.5h0m0 24.5h0m2-50h0m1-8h0m0 7h0m0 29h0m1 35.5h0m2-2h0m0-16h0m.5-49h0m.5 1h0m.5 15.5h0m0-33h0m2 83h0m0-4.5h0m1.5-6h0m1.5 7h0m.5-31.5h0m2.5-1h0m0 18h0m.5-34h0m0 1h0m1-17h0m1.5 47h0m2-33h0m1-5.5h0m.5 9h0m1.5-32.5h0m1.5 22h0m0-17h0m.5 42.5h0m.5-2.5h0m1-24.5h0m.5 5.5h0m1 5h0m1.5 25.5h0m0-41h0m0 41.5h0m.5-5.5h0m0 .5h0m0-16h0m0-33.5h0m1.5 68h0m1-8h0m1 9.5h0m1-53h0m.5 39h0m0-37h0m2.5-1h0m2-2.5h0m.5 35.5h0m1-16h0m1 30.5h0m0-45.5h0m.5 42h0m2-21.5h0m.5 39.5h0m.5-12.5h0m.5-39.5h0m2.5 57h0m0-96h0m1 35.5h0m2 45.5h0m3 6.5h0m2-34.5h0m1.5-2.5h0m.5-2.5h0m1.5-8.5h0m0 1.5h0m1 65h0m.5-61.5h0m0 9h0m1.5-16.5h0m.5-4h0m1.5 31.5h0m1.5 12h0m4 19h0m.5-26.5h0m.5 7h0m1 8h0m1.5-1h0m1-33.5h0m.5 37.5h0m.5-49.5h0m1 58h0m.5-50.5h0m.5 16.5h0m0-8.5h0m5.5-20.5h0m.5 24.5h0m1.5 6.5h0m1.5 21h0m2-10h0m0-45.5h0m1.5-14h0m.5 29h0m.5-4.5h0m.5 20h0m0 33h0m1.5-36.5h0m1-14.5h0m.5 54.5h0m0-63h0m0 3h0m1 7.5h0m2 10.5h0m0-25h0m.5 9.5h0m1-15.5h0m.5 6.5h0m2.5 55.5h0m.5-28.5h0m1 29.5h0m1-51.5h0m2.5-14.5h0m0 74.5h0m0-85h0m1.5 27h0m1.5 27.5h0m0-.5h0m2-44h0m2 2.5h0m.5 21.5h0m1.5 13h0m1-3h0m3.5 20.5h0m2-61.5h0m0 24.5h0m5.5 12.5h0m.5 1h0m0-5h0m0 68.5h0m.5-41h0m.5-1.5h0m.5-60.5h0m1 35.5h0m.5-23h0m.5-7h0m0 37h0m1 20h0m0-35.5h0m2-19.5h0m1 .5h0m2 100.5h0m1.5-34h0m2-32.5h0m1 5h0m4 37h0m1.5-17h0m8.5-22.5h0m2.5-6.5h0m2.5 1h0m2 5.5h0m.5-19.5h0m.5 .5h0m0 26h0m0-39h0m3 8h0m3.5 19.5h0m.5-22.5h0m1.5 44.5h0m4-12h0m1 4.5h0m2.5-37h0m1.5 41h0m3.5-8h0m3-31h0m.5 50h0m.5-42h0m1.5 16.5h0m1-11h0m.5 21h0m2.5-4h0m.5-12.5h0m.5 32.5h0m.5-11h0m1-19.5h0m1.5-14.5h0m0 41h0m2-27h0m0 18.5h0m2 30h0m1.5-55.5h0m1-16h0m0 20h0m1 5.5h0m3.5 48.5h0m.5-35h0m2.5 4.5h0m0-.5h0m1 8h0m0 4h0m1-51.5h0m1.5 62h0m2-24.5h0m.5-8h0m.5 16.5h0m2.5-69h0m2.5 37.5h0m2.5-18h0m1-17.5h0m.5 58h0m.5-8h0m1-67h0m.5 70.5h0m1.5 23h0m0-48h0m2 23h0m1-14.5h0m.5-24.5h0m1.5 15.5h0m0 .5h0m1.5-14h0m1 56h0m.5-17.5h0m.5-20h0m.5-22h0m.5 3h0m1 67h0m2.5-57.5h0m.5-2h0m1 27h0m.5 36h0m1.5-40h0m0 26h0m.5 10h0m2-44h0m1 51h0m2.5-30.5h0m.5-19.5h0m1.5-2h0m2.5 6h0m1-9.5h0m0 18h0m2 9h0m.5-12h0m1 6.5h0m1.5 20h0m1-26h0m1.5-12h0m1.5 22h0m.5-54.5h0m.5 57h0m0 14.5h0m1-41h0m0-9.5h0m.5 17h0m.5 46h0m1-37h0m.5-7h0m.5-12.5h0m4.5 15h0m1 .5h0m0-26.5h0m3 37.5h0m.5 50.5h0m0-77.5h0m1 63.5h0m0 3.5h0m0-16.5h0m2-17.5h0m0-29h0m1.5 47.5h0m4-12h0m0-9h0m1.5 33h0m0-47.5h0m1 31.5h0m.5-20.5h0m.5 12h0m0-9.5h0m.5 8.5h0m1.5 37h0m.5-54.5h0m1 10.5h0m1.5-27h0m1 26.5h0m0 11h0m1-4.5h0m0-43h0m1 0h0m5-1.5h0m.5-19.5h0m0 25h0m5.5-17h0m1.5-1h0m0 48.5h0m.5-57.5h0m2 49.5h0m1 7.5h0m3-2.5h0m1-30h0m0 14h0m3-28h0m1 29h0m.5 14h0m1.5-43.5h0m1.5 20.5h0m1.5 13.5h0m18.5-19h0m2.5 16.5h0m2-28h0m.5 68h0m3.5-66h0m.5 20h0m1-5h0m1 40h0m1.5-48h0m1 6h0m0-14.5h0m1 65h0m.5-88h0m.5 23.5h0m.5 29h0m.5-9.5h0m0 6.5h0m2 54h0m0-52h0m.5-27h0m0 58.5h0m1-61.5h0m1.5 10h0m.5-2.5h0m.5 5.5h0m.5 35.5h0m0 13h0m2.5-15h0m.5 4h0m.5 16h0m.5-64h0m1 64h0m2-17h0m0-4.5h0m0 26.5h0m2-48.5h0m.5 50h0m3.5-24h0m.5 10h0m3-10h0m2-6.5h0m.5 8.5h0m1 11.5h0m1.5-43.5h0m4 9h0m5 22.5h0m1-16.5h0m0-3.5h0m1-41h0m.5 63.5h0m4-59h0m1 .5h0m0 69.5h0m.5-63h0m2 22.5h0m1 .5h0m0-12.5h0m1 65.5h0m2-64.5h0m0-5.5h0m.5-6h0m.5 53.5h0m0-27h0m1.5 34h0m0 3.5h0m.5-26h0m.5 21.5h0m0-33h0m.5-5.5h0m16.5 10.5h0m.5-16h0m.5 27h0m.5-17h0m0 52.5h0m0-22.5h0m0-16.5h0m.5-13h0m1.5 30h0m.5 1h0m2.5 13.5h0m.5-10h0m0-30.5h0m1.5-9h0m.5-3h0m.5 40.5h0m1.5-11.5h0m.5-7h0m.5 17.5h0m2 3h0m3-5h0m1-.5h0m3.5-40h0m3-25.5h0m.5 24.5h0m.5 6.5h0m2-10.5h0m1 9h0m1-.5h0m1 40h0m0-5.5h0m1-38.5h0m1 5h0m.5 31h0m1-9.5h0m1-3.5h0m1 14h0m0-4.5h0m.5-17.5h0m1-14.5h0m3 44.5h0m.5-64.5h0m1 23.5h0m0 5h0m.5-12.5h0m.5 29.5h0m1-46.5h0m1 32.5h0m.5 0h0m.5-30h0m2.5-2h0m.5 3.5h0m.5 1.5h0m0 .5h0m1.5 38.5h0m1.5-23h0m3-12.5h0m3 6.5h0m.5 5.5h0m0 18.5h0m1 16.5h0m1 49h0m1.5-100h0m2 38h0m1-34h0m0 22.5h0m19.5 22h0m.5-31.5h0m1 13h0m0-37h0m.5 31.5h0m.5 42.5h0m3-62h0m6.5 46.5h0m1 9h0m1-48h0m1.5 49.5h0m.5-26h0m2 20.5h0m0-40h0m1 6h0m0 48.5h0m1 10h0m.5-9.5h0m0-73.5h0m.5 20.5h0m3 26.5h0m.5-40h0m.5 24h0m0 14h0m0-39h0m0 5h0m0 33h0m2.5-25h0m.5 21.5h0m0-40h0m.5 11.5h0m.5 44h0m2.5-52.5h0m1 30.5h0m0 38h0m5-26.5h0m1.5-3h0m1.5-24.5h0m.5-81.5h0m.5 93h0m1 34.5h0m.5 23.5h0m5-28.5h0m3.5-22.5h0m0 34h0m1-27.5h0m1 15h0m.5-2.5h0m.5-43.5h0m0 6h0m2 8h0m0-10.5h0m0 24h0m2 9.5h0m.5-53h0m2.5 14h0m3-19h0m.5 15.5h0m0 43h0m0-70h0m1 66h0m.5 9h0m1.5-64h0m1 57.5h0m2-42h0m0-17.5h0m2.5 62.5h0m.5 3.5h0m0-27h0m5 5h0m.5 19h0m0-10.5h0m.5-38h0m.5 25h0m.5-4.5h0m.5 26.5h0m.5-17.5h0m2.5 7h0m0-24h0m10.5 13h0m1-5h0m.5 46.5h0m.5-1.5h0m.5 16h0m.5-64h0m1.5 7h0m1-25.5h0m3 48h0m0-15.5h0m0 8.5h0m1 20.5h0m.5-60h0m1 51h0m1-4.5h0m0-44h0m1.5-4.5h0m1 82h0m.5-67.5h0m2 9h0m0 65h0m.5-24h0m.5-22h0m0-21h0m.5 4h0m.5 22.5h0m0-42.5h0m1 1h0m1-13h0m1 2h0m1 36.5h0m.5-34.5h0m2 17h0m.5 21h0m0-21.5h0m.5 .5h0m.5 5h0m.5-17.5h0m.5 6.5h0m1-6.5h0m0 .5h0m0 15.5h0m1-26.5h0m.5 27h0m0-18h0m1 32h0m.5 1.5h0m1-25.5h0m4.5-5.5h0m0 36.5h0m2-30h0m0 59.5h0m.5-67.5h0m.5 19h0m3-21.5h0m0 35.5h0m3.5 21h0m.5-3h0m.5-55h0m.5 65h0m.5-44.5h0m.5-8.5h0m0-14.5h0m.5 33.5h0m0 2.5h0m.5-33.5h0m3.5 28.5h0m1.5 18h0m2-7h0m1.5-36h0m6-8h0m4 48.5h0m0 11h0m1.5-42.5h0m1-21h0m0 74.5h0m0-30.5h0m.5 18.5h0m1-39.5h0m1.5 17h0m.5-13h0m.5 26.5h0m.5-4h0m0-29h0m1 9.5h0m1.5 70.5h0m.5-77h0m2-.5h0m1 1h0m1 38.5h0m1-36h0m0 23h0m.5 46h0m2-21h0m1.5-48h0m0 25h0m1.5-33.5h0m0 2h0m1.5 0h0m0 12.5h0m2-10h0m1 3h0m1-3h0m.5-19.5h0m7.5 67h0m1.5-45.5h0m1-8.5h0m.5 52h0m.5-48.5h0m1.5-17.5h0m.5 18.5h0m0 44h0m1-19h0m1 23h0m0-9h0m1.5-5.5h0m0-35h0m.5 15.5h0m0-7.5h0m2.5 20h0m1.5 34h0m0-31h0m0-4.5h0m0-21h0m4 3.5h0m2-25h0m0 47h0m4.5-23h0m0-11.5h0m.5-49h0m1.5 105h0m1-60h0m1 54.5h0m.5 2h0m1-5.5h0m0-28.5h0m1 12.5h0m.5-21.5h0m.5 3h0m0-6h0m.5 81h0m1-56.5h0m.5-22.5h0m4 11.5h0m.5 19h0m1-52h0m.5-8h0m0 0h0m1 91h0m1-68h0m.5 28.5h0m1-8.5h0m2.5 10.5h0m1-40h0m1 20.5h0m1-21.5h0m0 5h0m.5 40h0m0 14h0m0-18.5h0m1.5-11.5h0m4-2h0m1-16h0m0-2.5h0m.5-10h0m0 48.5h0m2.5-30.5h0m0 30h0m1.5-21h0m1 6h0m1.5-24h0m1 38h0m1.5-.5h0m0-42h0m.5 30h0m1.5 5.5h0m0 2h0m.5 31.5h0m.5-68h0m.5 64h0m0-38h0m1 25h0m.5-11.5h0m0-38h0m.5 67.5h0m1-35.5h0m0-7.5h0m1.5-17.5h0m2.5 7.5h0m.5 4h0m.5 51.5h0m.5-46h0m.5 44.5h0m2 13h0m.5-38h0m1 46.5h0m.5-65h0m1.5 16.5h0m1-47h0m0 24h0m0-7.5h0m.5 22h0m.5 12.5h0m1-50.5h0m1.5 16.5h0m0 30h0m0-1h0m.5-13.5h0m1 28.5h0m1.5-37h0m.5 12h0m1 9h0m.5-7h0m1 23h0m1.5-13.5h0m1-42h0m0 29h0m0 9.5h0m1 5h0m2.5-53.5h0m.5 .5h0m1.5 4h0m0 34.5h0m.5-22.5h0m1.5 19.5h0m.5-23h0m1 .5h0m1 17h0m0 9h0m.5 2h0m0-17.5h0m.5 20h0m0-9.5h0m1 4.5h0m.5 25h0m1-21h0m.5-10h0m.5-13h0m2-17.5h0m2 38h0m1.5 12.5h0m.5-26.5h0m.5 11h0m1.5 3h0m0-24.5h0m.5 6h0m0 15.5h0m2.5-8h0m.5-4h0m0 32h0m.5-74.5h0m1 36h0m2.5-20.5h0m0 38.5h0m4.5-43.5h0m0 49.5h0m.5 20h0m0-23h0m1-50h0m1 47.5h0m1-15.5h0m4-.5h0m1.5 43h0m1.5-5h0m1-31.5h0m.5-20.5h0m.5 41.5h0m.5-19h0m13 21.5h0m1.5 25h0m1.5-16.5h0m2.5-2h0m.5-11h0m.5 24.5h0m.5-22h0m.5-21h0m.5 49.5h0m.5-27.5h0m2 8.5h0m2.5-33h0m1-10h0m0 64.5h0m1-62.5h0m1.5-19.5h0m1 55.5h0m.5-16h0m0 34.5h0m.5-29.5h0m.5-2.5h0m3 46h0m0-34.5h0m0-2h0m.5-38h0m1 50h0m16.5-19h0m0-28h0m1.5 2h0m0 3.5h0m.5-8.5h0m.5 43.5h0m1-46.5h0m.5 22.5h0m2-6h0m1.5 1.5h0m0-21h0m3.5 51.5h0m1-10h0m0-20h0m.5 7.5h0m.5-11h0m1.5 40h0m.5-48.5h0m0-8h0m1 57h0m.5-43h0m.5-1.5h0m.5 32h0m1-23.5h0m1-1h0m.5-1h0m1-24.5h0m0 11.5h0m.5 19h0m1-19.5h0m9-13.5h0m1.5-17.5h0m1 38h0m.5-43h0m1 37h0m0-29h0m0 29.5h0m3.5-58h0m.5 24h0m1 16h0m.5-29.5h0m.5 47h0m.5-43.5h0m2 20h0m.5-3h0m1 17h0m.5-15.5h0m0-21.5h0m1.5 16.5h0m1.5-19h0m5 9.5h0m0-13h0m1 10.5h0m.5 6.5h0m3 33.5h0m2-69h0m2 60.5h0m2-41h0m1 19h0m0-25h0m2 40h0m1-6.5h0m1.5-20.5h0m0-17h0m1 47.5h0m0 0h0m1.5 17h0m4-68.5h0m.5 53h0m1 11.5h0m.5-7.5h0m0-23.5h0m1-3h0m1 0h0m.5 32h0m4.5 19.5h0m2-45.5h0m1 40.5h0m1-24h0m.5 2h0m.5-3h0m11 20h0m1.5-32.5h0m0 24.5h0m0-10h0m.5-2.5h0m.5 25h0m1.5-58h0m2-12.5h0m.5 69h0m3-6h0m.5-22.5h0m.5-37h0m0 7h0m0 9.5h0m4.5 16h0m.5 8h0m3-33h0m0 49h0m.5-18h0m7 29h0m.5-10.5h0m0-44h0m.5 12h0m.5-19h0m1.5 2h0m.5-2.5h0m.5 55.5h0m.5-56h0m2.5-1h0m2 19h0m.5-3h0m1-37.5h0m.5 59h0m2 14h0m.5-38h0m1.5-32.5h0m0 37.5h0m.5-2.5h0m1-15h0m.5 2.5h0m.5 50h0m0-36h0" stroke-width="6"/>
<path d="M124 571h0m1.5 10h0m2 14h0m.5 2h0m2-57.5h0m4 66h0m1 4h0m.5 5.5h0m1-63h0m3 11.5h0m1-6h0m6.5 13h0m4 57h0m5.5-71.5h0m3 28h0m1 2.5h0m1-16h0m3.5 59.5h0m7-48h0m0 56h0m9.5-62h0m1 41.5h0m4.5-33.5h0m1.5 10.5h0m4 17h0m0-3h0m9-7h0m0 6.5h0m3-14.5h0m1.5 11.5h0m1 8h0m.5-56h0m2 62.5h0m0-45h0m1-10h0m1.5 46.5h0m1-11h0m0-2.5h0m25.5-20.5h0m3 10h0m4.5-24h0m.5 57h0m1.5-40.5h0m1.5 11.5h0m6 34h0m.5-62.5h0m2 26h0m6.5 33.5h0m0-51h0m14-8.5h0m3 15h0m4-30.5h0m2 59h0m6.5-34h0m.5 20.5h0m7.5 19h0m.5 6h0m0 0h0m0-35.5h0m6.5-13.5h0m4.5 25.5h0m1-54.5h0m1.5 91h0m5.5-55.5h0m4.5-11.5h0m.5 61.5h0m1.5-73h0m1.5 4.5h0m.5 59h0m0-59.5h0m1.5 68h0m1.5-68h0m2.5 3.5h0m.5 29.5h0m2 8.5h0m3-3.5h0m2 13.5h0m.5-6h0m1 4h0m4.5 5.5h0m7-30.5h0m0-13.5h0m.5 28h0m1-16.5h0m6-2h0m.5 9.5h0m2.5-20h0m4 31.5h0m1.5 8h0m6 6h0m2-16h0m2-9.5h0m.5-14h0m4 31.5h0m.5-34h0m6 42h0m2-53.5h0m.5 4h0m1 11.5h0m4 16.5h0m5.5 14h0m1.5-.5h0m2.5-37h0m2.5-11.5h0m6.5-9h0m4.5 89h0m5-30h0m.5-29h0m1 18.5h0m1.5 38h0m5-37h0m1.5 5h0m1-27.5h0m2 16h0m2 .5h0m2.5-15.5h0m0 15.5h0m.5-31h0m1 13.5h0m2 12h0m0 29.5h0m.5 40h0m6-23h0m.5-56h0m1.5 16.5h0m0-7.5h0m1 20.5h0m7-37.5h0m2.5 36.5h0m1-53h0m0 102.5h0m0 9h0m0-66.5h0m1.5-7h0m3.5 26h0m3 12h0m1.5-29.5h0m1.5 8h0m0 6h0m1-51.5h0m6.5-14h0m4.5 36h0m3.5 16h0m0-9h0m1-22.5h0m3 31h0m.5-41.5h0m6.5 11h0m1 41h0m3.5 2.5h0m1.5-12.5h0m4 15h0m1-4h0m1.5-1h0m6.5-30.5h0m1-12h0m0 44.5h0m6.5-8h0m3-38h0m3.5 8.5h0m4 25.5h0m4.5-25h0m.5-9.5h0m.5 10h0m0 13h0m4-4h0m0 9.5h0m.5 2.5h0m9.5 35.5h0m.5-1h0m8-38h0m1-16.5h0m2 9h0m3 19h0m0 0h0m1-1h0m2 30h0m1-46.5h0m10.5-21.5h0m.5 14.5h0m5-2.5h0m1.5 3h0m2 35.5h0m1.5-73.5h0m2 87h0m2.5-41h0m4.5-6h0m10 18.5h0m1-5.5h0m.5 1.5h0m6 11.5h0m5 21h0m1.5-22.5h0m3 26h0m2-71h0m0 23.5h0m5-14h0m2 10.5h0m1-116.5h0m0 142h0m1.5-33h0m2 46h0m0-9.5h0m1.5-26.5h0m.5-1.5h0m1.5-13h0m3.5 87h0m9.5-77.5h0m7-9.5h0m9.5 22h0m2 28h0m5.5 8.5h0m4-4.5h0m4.5 1.5h0m2.5-50h0m.5 92h0m3.5-70.5h0m0 8h0m9-8h0m5 75h0m5-125.5h0m0 36h0m13 52h0m2.5-18.5h0m1.5-27h0m0 3.5h0m7.5 40h0m.5 5h0m2-22h0m.5-.5h0m1 9.5h0m.5 17h0m1-90.5h0m3.5 31h0m1.5-1.5h0m0 24.5h0m4.5-33h0m0-2.5h0m2-4h0m1.5-4h0m10 37.5h0m5.5-13h0m1-28.5h0m5 43.5h0m6-1.5h0m2-36.5h0m2 43.5h0m5-40h0m2 40.5h0m0-5.5h0m9.5 15h0m1.5-41.5h0m.5 21.5h0m1 11.5h0m2-52h0m.5 14h0m13 54h0m.5-18.5h0m4-39.5h0m1 22h0m4 5.5h0m5.5-12.5h0m0 41h0m2-31h0m7.5-8.5h0m3 0h0m3-9h0m4 30.5h0m3-4.5h0m1-4.5h0m2 19.5h0m2.5 21h0m5-22h0m2 7h0m2-60h0m0 60h0m4-12h0m.5 .5h0m5.5 14.5h0m2.5-7.5h0m12.5-16.5h0m4.5-7.5h0m.5-30.5h0m2 46h0m4.5-85h0m.5 79.5h0m1 17h0m1.5-67h0m1 68.5h0m.5-18.5h0m3-20.5h0m2.5 7.5h0m3-12h0m.5 11.5h0m2.5 27.5h0m.5-31.5h0m1 33.5h0m1.5 9h0m0-62h0m1-.5h0m1 5h0m12.5 2.5h0m1 61h0m1-70.5h0m7 25h0m3.5 10h0m3.5-28h0m2 68.5h0m0-7h0m2-44.5h0m0 26h0m6-9h0m6.5 22h0m3-31.5h0m1-17.5h0m.5 38.5h0m2-54h0m5 39h0m8.5-14.5h0m1-23.5h0m.5 42h0m0-30h0m1 21h0m1 29h0m1-13.5h0m1-18h0m1 14h0m3.5-14h0m1.5 5.5h0m3 38h0m2.5-32.5h0m2 16.5h0m4.5 8.5h0m4.5-9.5h0m4-57.5h0m0 84h0m4-91h0m.5 23h0m3.5 55h0m12.5-71.5h0m2-20.5h0m0 78h0m1.5-10h0m3-31.5h0m1.5-2h0m3 41h0m5-2h0m2-31.5h0m9 6.5h0m1.5-27h0m.5 3h0m.5-1.5h0m1 23.5h0m.5-13.5h0m0 6.5h0m.5 20.5h0m.5 9.5h0m1.5 1.5h0m1 29h0m0-71h0m3.5 9.5h0m1.5-9h0m3.5 43h0m.5 21h0m.5-59h0m7.5-17h0m4 17.5h0m.5 61.5h0m2-34.5h0m1.5-14.5h0m.5-10h0m1.5 38.5h0m7.5-4h0m1 17h0m1 31.5h0m2-39h0m3.5-11h0m1 5h0m0-10h0m4-3.5h0m.5 38.5h0m2.5-21.5h0m6.5 10h0m2 2.5h0m0-9.5h0m.5-2h0m.5-28.5h0m1.5 51h0m.5-48.5h0m.5 0h0m2-15h0m1 9.5h0m1.5-7h0m1 18.5h0m1.5 12.5h0m3.5-12h0m1-35h0m1.5 21h0m3 37h0m2-15.5h0m5.5-22h0m2-10h0m3 9h0m1-10.5h0m2.5-11h0m2 14h0m1 32h0m2-1.5h0m.5-15.5h0m1.5-6.5h0m.5 4.5h0m.5 9h0m4-35.5h0m.5 .5h0m6 29.5h0m8.5-11.5h0m.5 43.5h0m.5 6h0m4-13h0m8.5-63.5h0m3.5 39h0m0-25h0m2.5 55.5h0m10.5-68.5h0m5.5 78.5h0m1-27.5h0m4 15h0m.5-40h0m7 16.5h0m8 25.5h0m0-43h0m1-4h0m5.5 38h0m1.5-11h0m.5-32.5h0m3-24.5h0m2.5 83h0m0-28.5h0m4-11.5h0m9.5-28h0m0 51h0m2.5-9h0m1 8.5h0m3-11.5h0m.5-45h0m1 54h0m5.5-21.5h0m3.5-4h0m2 22.5h0m0-44.5h0m2 46.5h0m3 6h0m2-10h0m0-37.5h0m32.5 66h0m3-4h0m2-47.5h0m.5 4.5h0m0 45h0m1-41h0m3.5-11.5h0m.5 39.5h0m6.5-47.5h0m3-3.5h0m5.5 88.5h0m10.5-90h0m4.5 9.5h0m1 23h0m3.5 8.5h0m1-14h0m.5-26.5h0m0 4h0m1-13h0m.5 2h0m7.5 28.5h0m0-7h0m2.5 21.5h0m3.5 1h0m1.5-4.5h0m1-13.5h0m4-50h0m2.5 63h0m.5 7h0m1.5-30h0m.5 39.5h0m.5 10h0m4-42h0m.5 68h0m0-66h0m.5 58h0m.5-74.5h0m3.5 80h0m4-50h0m.5-4.5h0m1.5 63h0m3.5-53.5h0m1.5-21.5h0m6.5-4.5h0m1 20.5h0m5.5 1h0m.5 21h0m1-5h0m0-10.5h0m9.5-39h0m1.5 58.5h0m6-27h0m1-20h0m.5 28h0m2 1h0m4.5-19h0m1-23h0m6 31h0m1.5 6h0m3-7h0m.5-15.5h0m0 14.5h0m4.5-43.5h0m4.5 5.5h0m2 30h0m5.5-31h0m17 96.5h0m1.5-57.5h0m3-29h0m4 29h0m0-31h0m2 47.5h0m0-27.5h0m2 74h0m1.5-63.5h0m3.5 28.5h0m3-51h0m2-2h0m3 45.5h0m0-23h0m2-23h0m4.5 50h0m3.5-2h0m2-21h0m0 24h0m2 4.5h0m2.5-53h0m5.5 37.5h0m1-19h0m5-12h0m1-22h0m1 19h0m2.5-3h0m0 34.5h0m4 12h0m10-45h0m5 20.5h0m8 .5h0m3.5 12h0m3 25.5h0m5.5-36.5h0m1.5 25.5h0m4-9.5h0m1-26h0m.5 7.5h0m2-5.5h0m1 7.5h0m6 23.5h0m2-40.5h0m.5-17h0m0 16h0m.5 42h0m3-28h0m0 59h0m1.5-19h0m4.5-11.5h0m.5-44.5h0m1.5 72.5h0m6.5-45.5h0m3 26h0m3 3h0m0-24h0m14 24.5h0m.5-57h0m1-14h0m2.5 9.5h0m0 36.5h0m.5 8h0m1-62h0m.5 25h0m2.5-4h0m.5 38h0m0 14.5h0m1.5-49.5h0m1 20h0m3 .5h0m4-16h0m2.5 47.5h0m.5-17h0m19.5-29.5h0m1.5 36.5h0m2.5-20h0m1-23h0m4.5 5.5h0m3.5-20.5h0m0 69h0m0 10h0m3-23h0m1 5h0m6.5 5h0m1-1h0m0-43.5h0m.5 1h0m1.5 55h0m2-17.5h0m4-6h0m1.5 9h0m3.5-8h0m1-25.5h0m1 28.5h0m.5-23.5h0m1.5 16.5h0m2-4.5h0m1.5 19.5h0m3.5-3.5h0m4-21h0m2-35h0m3 2.5h0m1.5 44h0m2.5-28h0m.5 26h0m0-28h0m.5 31h0m2.5 14.5h0m.5-65h0m2.5 49h0m.5-4.5h0m2-28h0m16 36.5h0m5-20.5h0m.5 53h0m.5 19h0m0-44h0m8.5-32h0m.5 4.5h0m1.5 6.5h0m1.5-10.5h0m2-13.5h0m.5 11h0m0-24.5h0m1 92h0m2-32h0m1-13.5h0m7-1.5h0m1-37h0m.5 15h0m6-31.5h0m2 54h0m.5-30h0m5 72h0m1.5-54.5h0m0-7h0m6-40.5h0m2 60h0m0-22h0m.5 3h0m4.5 15h0m20.5-85.5h0m2 76.5h0m3.5-25h0m1.5 39h0m2.5 18.5h0m9-38h0m.5-32h0m1 69h0m2-25h0m.5-3h0m2.5-14.5h0m.5 40h0m5.5-60h0m.5 5.5h0m1.5 20.5h0m2 47h0m1-42.5h0m2-23.5h0m1.5 55.5h0m1 12.5h0m4.5-42h0m0-30h0m3 4.5h0m.5 23.5h0m2-10h0m4.5-39.5h0m2.5 43h0m3 24h0m.5-57.5h0m1 21h0m.5-2h0m.5 41h0m0-10.5h0m2.5-80.5h0m1.5 24h0m1 30h0m2.5 77h0m1.5-73h0m4 10h0m1.5 18h0m.5 11h0m1-62h0m23.5 50h0m1.5-49.5h0m1-4h0m3 20.5h0m1 19.5h0m3.5 28h0m5-67.5h0m2 35.5h0m.5-44.5h0m2.5 30h0m.5-26h0m2-2.5h0m3.5-7.5h0m6 21h0m8.5 35h0m2 1h0m5.5-3h0m3-37.5h0m.5 14.5h0m4-8h0m1 8h0m1 5h0m4.5 84.5h0m3-75.5h0m3 8h0m1.5 11.5h0m.5-33.5h0m0-16h0m1.5 1.5h0m1 1h0m0-1.5h0m.5 37.5h0m.5-32.5h0m0 40.5h0m1-26.5h0m7-12h0m3.5 .5h0m.5 36h0m0 18.5h0m2-24h0m17-27.5h0m4.5 39h0m3.5-40h0m.5 62h0m2-36h0m3 25h0m3-31h0m1.5 .5h0m0-58.5h0m1 34.5h0m2 22h0m.5 41.5h0m2.5-4.5h0m1 1h0m.5-17.5h0m1.5 40h0m2.5-64h0m3-2h0m1 60h0m1.5 19.5h0m22-55h0m1.5-35h0m7 46.5h0m2.5 0h0m1-2h0m1-36.5h0m3-14h0m1 76h0m1.5-69h0m.5 0h0m.5 59h0m.5-65.5h0m1 12h0m2.5 37h0m3.5-32h0m2.5-23.5h0m2 35h0m2-21h0m.5-13h0m2 53h0m9-16.5h0m2-34h0m2 38.5h0m.5-10.5h0m1 7.5h0m3-19h0m1.5 36.5h0m1.5-60h0m0 11h0m2 2.5h0m2.5-14.5h0m1 13h0m0 33h0m.5-26h0m4.5-8h0m.5 .5h0m.5 4.5h0m4 7h0m.5-19.5h0m4.5 6.5h0m3.5 13h0m16 75.5h0m1.5-38h0m1 6.5h0m1-3h0m2-16.5h0m.5-16h0m1.5 34.5h0m.5-51.5h0m0 19h0m3 32h0m1-14.5h0m.5-45.5h0m4 32h0m0 21.5h0m0-42h0m4-22h0m0 77h0m21.5-27h0m2 37.5h0m2.5-51.5h0m2 11.5h0m8.5-30h0m12.5-27.5h0m2 54.5h0m3-15h0m1-13h0m2.5-25h0m.5 1.5h0m4 .5h0m14.5-24.5h0m1.5 61h0m14.5 0h0m4.5-70.5h0m2 75h0m.5-34.5h0m1-5h0m1 51.5h0m.5-44.5h0m3.5-3.5h0m0 34h0m.5-9.5h0m0 9.5h0m10.5-53.5h0m1-11.5h0m.5 39h0m3-27h0m5 1.5h0m4.5 3.5h0m3.5 20h0m4.5-.5h0m.5-33h0m1.5 32h0m2.5-16.5h0m6.5 40h0m3 1.5h0m7-56h0m.5-22h0m1 34.5h0" stroke-width="5"/>
<path d="M125 570h0m3.5 3.5h0m8.5 16.5h0m3-31.5h0m2 2.5h0m5 26h0m3-26.5h0m5.5 47.5h0m2-2h0m8 14.5h0m.5-14h0m.5 20.5h0m.5-78h0m9 97.5h0m9-28h0m8 35.5h0m2-72h0m1 39.5h0m7 2.5h0m.5-14h0m4-18.5h0m2 29.5h0m0-46h0m.5 29.5h0m25.5-53.5h0m6 25.5h0m1.5 34h0m.5 8.5h0m11-7h0m4-13h0m.5 32h0m5-48h0m.5 39.5h0m9.5-61h0m4.5 41.5h0m8 15h0m6.5-35.5h0m4.5 10.5h0m3.5-12h0m2 41h0m.5-53.5h0m0 0h0m6 7h0m2.5 27h0m4-71h0m2 53h0m.5 16h0m15 6h0m9 1h0m16.5-2h0m22-39.5h0m5.5 6h0m4.5 35h0m2.5-1h0m1.5 9h0m10 11.5h0m1.5-32h0m1.5-4h0m3.5-31.5h0m1 25.5h0m0-10h0m4 17.5h0m2.5-28h0m1 28.5h0m2.5-5.5h0m2.5 29.5h0m2.5 9h0m4-18h0m2 9h0m16.5-19h0m4.5 12h0m6.5-3h0m11 5h0m5-28h0m11.5-38h0m.5 54.5h0m.5-27h0m9-12.5h0m0 22.5h0m1 1.5h0m0-22h0m7.5 42h0m2.5-29.5h0m3 15.5h0m9.5 42.5h0m6-49h0m3.5 1h0m4-32.5h0m1 51h0m2.5-31.5h0m.5 17h0m5-19h0m.5-20h0m1 54h0m23.5-15h0m4.5 28h0m1.5-28.5h0m1 31.5h0m6.5-42.5h0m2.5 6h0m4 31.5h0m1.5-53.5h0m1.5 23.5h0m0-14h0m.5 41h0m14-37h0m.5 15h0m3.5 15.5h0m0-24.5h0m.5 32.5h0m5 17.5h0m17.5-33.5h0m2.5 20.5h0m7.5-8h0m7.5-20.5h0m7.5-34.5h0m0 32h0m12.5 20.5h0m3 18h0m4-35h0m1.5 28h0m.5 2.5h0m10-38.5h0m0 15.5h0m1.5 6h0m4-44.5h0m1.5 60.5h0m2-27.5h0m1-6h0m.5 37h0m2-51h0m6.5 9h0m0 17h0m2.5 2.5h0m3.5 1.5h0m1-3.5h0m1.5 27h0m2.5-54.5h0m.5 24.5h0m9.5 32.5h0m.5-3h0m5.5-24h0m1 24h0m4.5-30h0m1.5 18.5h0m3.5 6.5h0m1.5 7.5h0m3.5 3h0m3.5-40.5h0m3.5 6.5h0m3 32h0m8.5-80h0m9.5 87.5h0m3.5-38.5h0m5-38h0m2-4h0m2 13h0m1-8h0m2.5-3.5h0m.5-14h0m1.5 12h0m1.5-6h0m4 55.5h0m1.5-26h0m2 0h0m4 39h0m0-27.5h0m2.5 42.5h0m1.5-32h0m0 0h0m1 5.5h0m1-8h0m1-26h0m1 14h0m.5-3h0m4.5 43h0m5 35h0m6-69.5h0m7 15.5h0m3-29.5h0m1.5 32.5h0m0-44h0m2-2h0m2 66.5h0m0-23.5h0m11.5 2.5h0m1-13h0m1.5-7h0m1.5 46.5h0m2-21.5h0m6.5-.5h0m2-33.5h0m2.5 78h0m2-79h0m2.5-19h0m7.5 43h0m0-1.5h0m5.5-48.5h0m1.5 48.5h0m1.5-34h0m2 32h0m.5 13h0m4.5-55.5h0m1-21h0m.5 18.5h0m1-14.5h0m2 15h0m8 4h0m.5 45.5h0m1-40h0m5.5 18.5h0m.5 17.5h0m1-25.5h0m2.5 6.5h0m10.5-.5h0m2-18h0m2 7.5h0m1-6h0m4 60h0m9-1h0m5-31h0m15.5 41.5h0m8-28h0m1.5-29h0m2.5 16h0m.5-20.5h0m4 33.5h0m3-22h0m6-8.5h0m.5 28.5h0m18-43h0m1 24h0m0 7.5h0m5.5-20.5h0m5 60h0m8.5-28.5h0m5-42h0m1.5 57h0m6.5-46h0m5.5 34.5h0m2-73h0m0 55.5h0m14 1.5h0m3-25h0m5 1.5h0m13.5 61.5h0m2-1h0m8.5-50.5h0m10.5-14h0m.5 22h0m5.5-22h0m1 52h0m0-19.5h0m3.5 5h0m2 23.5h0m2-41h0m1-13.5h0m12 3h0m14.5-6h0m4.5 7h0m9.5 31h0m0-17.5h0m7-37h0m8 22h0m11.5-16h0m7.5 57h0m3-17.5h0m1.5 20h0m4.5-30h0m7.5 41h0m7.5-78.5h0m3.5 44.5h0m7-23.5h0m1-11h0m6.5 85h0m.5 10h0m5-73.5h0m7 39h0m1 8.5h0m0-8h0m3.5-51.5h0m4.5 57h0m.5-15h0m4.5-17h0m2 20h0m17-48.5h0m4 47h0m2 .5h0m4.5-25h0m5.5-34.5h0m7.5 38h0m7-25h0m24 35.5h0m2-67h0m1 64.5h0m0 16h0m3-38h0m4 60h0m2.5-13.5h0m2.5-58h0m3.5 46.5h0m3.5-25.5h0m5.5 45h0m8.5-34h0m.5 29h0m6-30.5h0m0-33h0m0-8h0m5-16.5h0m4 64h0m1-18.5h0m2-13h0m2.5 36h0m2-64h0m2.5 17.5h0m7.5 37h0m1-8.5h0m4-1.5h0m2.5-9h0m.5-19h0m1 30.5h0m3 18h0m1.5-8h0m3.5 4.5h0m8.5-19.5h0m2-14h0m2 56.5h0m.5-39h0m1.5 74.5h0m7.5-81.5h0m3 25h0m1-38.5h0m.5 35.5h0m0-30h0m1 20.5h0m2-17h0m0 48.5h0m6 0h0m11-49h0m2.5 10.5h0m13.5-23h0m2.5 11.5h0m1.5 26.5h0m1-24h0m1.5 11.5h0m1-28h0m1.5 7.5h0m11 23.5h0m3.5-19.5h0m2.5 .5h0m2 12h0m2-2.5h0m0 18.5h0m3-16h0m3.5-27.5h0m13 33h0m.5 21.5h0m7.5 10.5h0m7.5-13h0m3.5-18h0m2.5-18h0m1-5h0m1.5 59h0m.5-24h0m.5 28.5h0m5.5-8h0m1-3h0m4-17.5h0m3.5-6h0m14.5-19.5h0m3-4.5h0m3.5-17h0m7 53.5h0m.5-26.5h0m4 52.5h0m7-33h0m5 23h0m.5-1h0m0-31.5h0m3-11.5h0m.5-3h0m1.5 34h0m1.5-15.5h0m1 6h0m2 30.5h0m.5-50.5h0m14.5 48.5h0m1.5-8h0m.5-12.5h0m1.5 15.5h0m1-45.5h0m9.5 38.5h0m16.5-85.5h0m8.5 63.5h0m3-43.5h0m3 20h0m6.5 38.5h0m2.5-47.5h0m19 63.5h0m4-44h0m.5 48.5h0m1-16h0m2.5-39.5h0m2-.5h0m1-26.5h0m6.5 45.5h0m2.5 39h0m1-4.5h0m2.5-70h0m.5 62.5h0m8-44h0m.5 18h0m4.5 11.5h0m1.5 59.5h0m1.5-83h0m6 31h0m2.5 12.5h0m1-53h0m.5 0h0m.5 42.5h0m0-37.5h0m5.5 44h0m5.5-44h0m2-27.5h0m25.5 101h0m3.5-13h0m5-10.5h0m6 21h0m1.5-36.5h0m3-5h0m1.5-42h0m11 4h0m.5 40.5h0m2-67h0m3 57h0m1-56.5h0m6.5 33h0m2.5 20.5h0m0 40.5h0m1.5-85.5h0m3 59h0m.5-67h0m.5 26.5h0m2.5 27.5h0m0-21h0m51-15h0m3.5 59h0m3.5-56.5h0m5 67h0m7.5-33.5h0m4-9h0m.5 16h0m4.5-35h0m1.5 35h0m0-49.5h0m8 6.5h0m.5-25h0m.5 21h0m3.5-12.5h0m1.5 41.5h0m1 59.5h0m.5-99h0m29.5 3h0m2.5 50h0m4.5 14h0m1.5-44.5h0m3 46.5h0m4-47.5h0m5.5 35h0m1.5-32.5h0m1.5-11.5h0m7 0h0m7-12h0m0 35h0m13-29.5h0m0 49.5h0m3-34.5h0m1-16h0m6 56h0m.5-60h0m3 128h0m3.5-88.5h0m1.5-26.5h0m7.5 0h0m15.5 25.5h0m5.5 23h0m.5 .5h0m3.5-57h0m2 48.5h0m1 8.5h0m.5-28h0m.5 27h0m1 4.5h0m1-39.5h0m4-6.5h0m1-18h0m0 54h0m4.5-31.5h0m10 15h0m5 8h0m10-24h0m4.5 29.5h0m12.5 32.5h0m4.5-37h0m1.5 6.5h0m2.5-4h0m8.5-23h0m4.5 21.5h0m.5 21.5h0m1-4.5h0m5.5-11.5h0m3-1.5h0m0 14.5h0m0-9h0m2 48h0m9-22h0m2-80.5h0m1 52h0m0-31.5h0m10.5-18.5h0m8 3.5h0m5-18.5h0m7 11h0m7.5-18.5h0m2.5 52.5h0m0 11.5h0m12 22.5h0m6.5-12.5h0m35.5-40.5h0m2 18h0m2-15.5h0m.5 21.5h0m1.5-9.5h0m5.5-21h0m3-5h0m1 47h0m3-26h0m2-3.5h0m10.5-61h0m2.5 34h0m0-35.5h0m3.5 42.5h0m2-63.5h0m3 53.5h0m8.5-24.5h0m2.5 85.5h0m.5-31.5h0m.5-1.5h0m9-7.5h0m2-4.5h0m1-14.5h0m5-38.5h0m6 74.5h0m4-37.5h0m1-1.5h0m.5 2h0m8.5 76h0m13.5-47.5h0m9-16h0m10.5-6.5h0m3-34.5h0m9.5 42h0m2-8.5h0" stroke-width="4"/>
<path d="M129.5 584.5h0m14 7.5h0m4 1h0m6.5 16h0m4 6h0m2.5-48.5h0m.5 52.5h0m7.5-56h0m8 21.5h0m3 13.5h0m.5-8.5h0m18.5 12h0m38-18h0m11 32h0m21.5-3h0m3-12.5h0m8.5 23h0m.5-52h0m5.5 12h0m0 27.5h0m.5-16.5h0m4-38.5h0m6.5 42.5h0m6.5-22.5h0m4 22.5h0m4-23.5h0m10 43.5h0m4-44h0m1.5-15.5h0m6.5 34h0m3.5-28.5h0m4.5 44.5h0m3-51.5h0m1.5-2h0m2 140h0m14-105h0m3 22.5h0m19-48.5h0m.5 27.5h0m6 16h0m2-2.5h0m0 1h0m4.5-28h0m7.5 100h0m9-105.5h0m2.5 52.5h0m2-63h0m11 41h0m13.5-37.5h0m14 70.5h0m8-32h0m5.5-13.5h0m2.5-42h0m1.5-2.5h0m23.5 64.5h0m.5-36h0m13 37.5h0m10-23.5h0m11 16.5h0m14.5-41.5h0m34 32.5h0m9.5 28.5h0m1.5-42h0m18 47.5h0m6-24h0m18.5 10.5h0m10 18.5h0m11-74.5h0m0 73.5h0m11-6h0m20.5-27.5h0m2 3.5h0m28.5-28h0m1 50h0m2-27h0m6.5 19.5h0m6 26.5h0m1.5-16h0m2 2.5h0m2-46.5h0m6.5 6.5h0m7-14h0m1 43.5h0m0-18.5h0m3.5 24.5h0m0-50h0m10.5-11h0m11-13.5h0m2.5 50.5h0m.5-24.5h0m6 109h0m9-85h0m3-39.5h0m1 8.5h0m6.5 18h0m1.5-21.5h0m9.5 29h0m1.5-17h0m8 13.5h0m3 34.5h0m3.5 5.5h0m4-34h0m21.5 29h0m4-47h0m6.5 50h0m.5-5h0m0-40.5h0m57.5 18h0m2.5-14.5h0m9-44.5h0m4.5 20.5h0m5.5-.5h0m1 33h0m18-4h0m5-30.5h0m9 59h0m8.5 9.5h0m1-51h0m2.5-27h0m4.5 83.5h0m6.5-33h0m5.5-86h0m0 95.5h0m1-24.5h0m1.5 20h0m3 2h0m7-56h0m.5 59h0m1.5-3h0m18.5 17h0m1.5-20.5h0m.5 16h0m2 10h0m.5-47.5h0m4 1.5h0m18.5 39h0m1.5-46h0m1 13h0m0 39.5h0m5.5-54h0m7.5-19.5h0m2.5 15.5h0m7.5 25.5h0m16-24.5h0m1 46.5h0m8 13.5h0m29.5-40.5h0m22.5-29.5h0m8.5 30h0m3.5-9.5h0m13 1h0m3.5 42h0m2-53h0m3.5 26h0m18 11.5h0m3-36.5h0m2.5 4.5h0m20.5 20.5h0m2 29h0m.5-1.5h0m2.5-13.5h0m8-64.5h0m1.5 45h0m15.5-26h0m13 19.5h0m5-38h0m4 60h0m4-13.5h0m.5 75h0m14.5-52.5h0m34.5-16h0m6.5-40.5h0m6 13h0m7.5 18.5h0m10.5 20.5h0m8-34h0m14-27h0m6 40.5h0m14-30h0m14.5 46.5h0m4-22h0m.5-1h0m2-15.5h0m5 24.5h0m3.5 1.5h0m.5-35h0m3 32h0m15 10h0m5-2h0m2-28h0m.5-6h0m6-7.5h0m4-12.5h0m16 49.5h0m9.5-50h0m20.5 74h0m8 8.5h0m3 50h0m1-84h0m11-20.5h0m7-5h0m2.5 20h0m6-33.5h0m6 109.5h0m5-88h0m14.5-43h0m9 62.5h0m2-14h0m3-61h0m6.5 91.5h0m2.5-19.5h0m6.5-18.5h0m1.5 38h0m.5 67h0m3-79h0m6.5-7.5h0m5.5-19h0m5.5 28.5h0m1.5-26.5h0m15 42h0m24-38h0m12.5 36.5h0m28-48.5h0m3.5 51.5h0m10.5-38.5h0m4-10h0m9 30h0m3.5-6.5h0m7.5 28h0m2.5-7h0m7.5-38.5h0m3.5-32h0m2.5-24.5h0m38.5 44h0m.5 62.5h0m13-69h0m.5 76h0m8.5-89.5h0m2 8.5h0m8 33.5h0m6.5 3h0m1.5 27.5h0m13-69h0m24 30.5h0m14.5-28.5h0m1.5 26.5h0m0 14h0m7-41h0m9 51h0m15.5 14.5h0m5.5-57h0m11 24h0m14.5 13h0m2.5-25.5h0m10.5-13.5h0m17.5 41h0m10.5-29h0m7.5 18h0m4.5 6.5h0m6.5-11h0m16 22.5h0m.5-21h0m.5-34h0m8-3h0m24 45.5h0m2.5-6h0m3.5-5h0m6 27.5h0m4.5 18h0m1.5-26h0m7-39h0m2 46.5h0m2-45.5h0m7.5 30h0m1.5-7.5h0m10.5 15.5h0m.5-16.5h0m7 1.5h0m8.5 11h0m8.5-36h0m.5 37h0m3.5-24h0m17.5 34h0m22 3h0m8-56h0m10.5 39h0m6.5-28.5h0m7.5 41h0m27 .5h0m2.5-51h0m1.5 63.5h0m7.5-54h0m.5 31h0m1-29.5h0m15.5 6.5h0m3.5-10h0m7.5-2h0m23.5-2h0m1-35.5h0m1 41h0m19 15h0m9-60h0m13.5 51h0m5.5-28.5h0m14.5 2.5h0m3.5-19h0m7.5-32h0m12 26.5h0m1 64h0m3.5-41.5h0m1-20h0m15.5-5.5h0m7 490.5h0m1 0h0m5 0h0m1 0h0m3.5 0h0m1.5 0h0m2-3.5h0" stroke-width="3"/>
<path d="M151.5 584h0m18 38h0m14-27.5h0m3.5 104.5h0m2-37h0m12.5 13.5h0m35-171.5h0m5.5 112h0m20 69.5h0m51-183.5h0m20 74.5h0m12.5 2.5h0m1-2.5h0m1 1.5h0m5 28.5h0m1.5-33.5h0m7 87.5h0m8 15h0m19.5-19h0m15-55.5h0m2.5 95h0m2-166h0m8 147.5h0m18-71h0m15.5 21.5h0m1.5-13.5h0m10-19.5h0m7.5-43.5h0m1 116h0m16 27.5h0m7.5-134h0m0 108.5h0m10.5-112h0m7.5 23.5h0m.5 50h0m33.5-33.5h0m10 18.5h0m2.5 66.5h0m6.5-67h0m19 51.5h0m4-157h0m10 18h0m11 67h0m7 71h0m32.5-45h0m41-64.5h0m2-49.5h0m15 178h0m3.5-26h0m.5-126.5h0m8 97.5h0m10.5 43.5h0m4-52h0m2.5 27.5h0m19-31h0m4.5-9.5h0m18 8h0m6 5h0m9-16h0m2.5 66.5h0m1-72.5h0m21 77h0m2-74.5h0m22-32h0m11.5-16.5h0m23 43h0m18.5 84h0m46-115.5h0m9 50.5h0m11 .5h0m1.5-89h0m11.5 133h0m6.5-40h0m6-1h0m9.5 4h0m16-23h0m2-23h0m14.5 15h0m1.5-7.5h0m0 6.5h0m19-34h0m10.5 13.5h0m4.5 119.5h0m31-128h0m1 5.5h0m15 40h0m4.5-27.5h0m10.5-55h0m1.5 30.5h0m3.5 52.5h0m6.5 8.5h0m17.5 16h0m22.5 40.5h0m1-63h0m3.5 11h0m6-62h0m5.5 63h0m14-32h0m4.5-64h0m6.5 109h0m11.5-50h0m12.5-36h0m2 45.5h0m2 12.5h0m11-40.5h0m6 60h0m5-52h0m1.5-68.5h0m36.5 60.5h0m12.5-4h0m50 46h0m16.5-101.5h0m3 112.5h0m2-57h0m6 16.5h0m10-25h0m17.5 68h0m.5-13.5h0m27-28h0m24 77h0m1.5-43h0m4-16h0m5 27h0m1-114h0m12 54h0m20.5 46.5h0m40-15h0m4.5-1.5h0m2.5-41h0m1.5 19h0m1-68.5h0m21.5 126h0m6.5 37h0m8.5-110h0m18-46h0m10 85h0m4.5 21h0m4-10.5h0m33.5-26.5h0m40.5-18h0m22 72h0m7-12h0m1-6.5h0m22.5 1.5h0m15.5-35.5h0m3.5 17.5h0m12.5 6.5h0m0 89h0m29-81h0m16.5-20.5h0m5 5.5h0m23.5 19.5h0m8.5-27.5h0m1.5-10h0m2.5 18h0m17.5-93h0m51.5 57.5h0m14.5 21h0m10 114h0m2-129h0m7 99h0m18.5-83.5h0m2.5 26.5h0m16.5-87h0m12 73h0m16 79h0m4.5-.5h0m9 22h0m.5-240h0m17.5 106h0m18.5 96.5h0m5.5-45.5h0m6 1.5h0m6-66.5h0m18.5 56.5h0m.5 38h0m16.5-130.5h0m8 101.5h0m8-34.5h0m.5-12h0m10 8h0m18 11h0m8-7h0m18.5-11h0m4-.5h0m6.5 15h0m24 37h0m19-57.5h0m7 102.5h0m3.5-141.5h0m7 150.5h0m7-79.5h0m12.5-21.5h0m3-2h0m40.5-30h0m3.5 1h0m12 15.5h0m9-11.5h0m38 9.5h0m21 455.5h0m1.5-105h0m2-118.5h0m2 176.5h0m2.5-359.5h0m.5 100.5h0m1 7h0m3 35.5h0m3 217h0" stroke-width="2"/>
</g>
<path d="M122.4 586.3H264.0M265.6 621.4H273.9M276.0 585.2H312.2M314.7 590.0H497.9M500.5 592.7H649.1M651.7 600.0H795.0M797.7 591.3H933.1M935.8 592.0H1063.7M1066.5 591.2H1185.2M1188.0 588.5H1297.0M1299.8 585.3H1404.8M1407.6 584.5H1508.3M1511.1 585.3H1611.4M1614.2 590.3H1713.6M1730.4 593.3H1801.6M1818.9 587.3H1883.6M1900.9 586.3H1961.8M1964.6 580.5H2030.8M2033.6 582.2H2092.8M2095.6 587.5H2152.5M2155.3 586.3H2197.6M2200.4 581.2H2245.7M2255.9 550.3H2255.9M2256.9 585.3H2282.3M2297.7 578.3H2321.6M2324.4 574.4H2326.4M2328.9 536.3H2440.4M2443.7 1016.5H2461.8" stroke="#00008b" stroke-width="3.125"/>
<path d="M242.8 593.7h0M279.2 589.1h0M325.5 592.2h0M498.7 577.0h0M506.9 621.7h0M527.4 590.8h0M637.6 640.0h0M646.8 613.8h0M692.4 597.5h0M692.7 597.5h0M1107.3 563.4h0M1107.3 575.6h0M1153.9 593.2h0M1302.5 612.0h0M1315.1 604.7h0M1315.2 623.4h0M1365.2 591.2h0M1474.7 612.5h0M1657.2 589.2h0M1665.7 606.7h0M1752.4 620.8h0M1911.3 587.5h0M1952.6 577.2h0M2038.0 573.3h0M2061.0 584.0h0M2054.8 603.7h0M2165.6 569.5h0M2306.8 578.3h0M2410.3 594.2h0" stroke="#000" stroke-width="10.8"/>
</g>
<text transform="translate(251.8 607.6) rotate(-90)" text-anchor="end">NTRK1</text>
<text transform="translate(288.1 603.0) rotate(-90)" text-anchor="end">MDM4</text>
<text transform="translate(334.4 606.1) rotate(-90)" text-anchor="end">MYCN</text>
<text transform="translate(507.6 563.1) rotate(-90)">PDCD1</text>
<text transform="translate(515.9 635.6) rotate(-90)" text-anchor="end">VHL</text>
<text transform="translate(536.4 604.7) rotate(-90)" text-anchor="end">MLH1</text>
<text transform="translate(646.6 653.9) rotate(-90)" text-anchor="end">SOX2</text>
<text transform="translate(655.8 627.7) rotate(-90)" text-anchor="end">OPA1</text>
<text transform="translate(701.4 611.4) rotate(-90)" text-anchor="end">PDGFRA</text>
<text transform="translate(701.7 611.4) rotate(-90)" text-anchor="end">KIT</text>
<text transform="translate(1116.2 549.5) rotate(-90)">EGFR_vIII</text>
<text transform="translate(1116.2 561.7) rotate(-90)">EGFR</text>
<text transform="translate(1162.9 607.1) rotate(-90)" text-anchor="end">MET</text>
<text transform="translate(1311.5 625.9) rotate(-90)" text-anchor="end">CD274</text>
<text transform="translate(1324.0 618.6) rotate(-90)" text-anchor="end">CDKN2A</text>
<text transform="translate(1324.2 637.3) rotate(-90)" text-anchor="end">CDKN2B</text>
<text transform="translate(1374.2 605.1) rotate(-90)" text-anchor="end">NTRK2</text>
<text transform="translate(1483.7 626.4) rotate(-90)" text-anchor="end">PTEN</text>
<text transform="translate(1666.2 603.1) rotate(-90)" text-anchor="end">CDK4</text>
<text transform="translate(1674.7 620.6) rotate(-90)" text-anchor="end">MDM2</text>
<text transform="translate(1761.4 634.7) rotate(-90)" text-anchor="end">RB1</text>
<text transform="translate(1920.2 601.4) rotate(-90)" text-anchor="end">NUTM1</text>
<text transform="translate(1961.5 563.3) rotate(-90)">NTRK3</text>
<text transform="translate(2047.0 559.4) rotate(-90)">TP53</text>
<text transform="translate(2069.9 570.1) rotate(-90)">ERBB2</text>
<text transform="translate(2063.8 617.6) rotate(-90)" text-anchor="end">NF1</text>
<text transform="translate(2174.5 555.6) rotate(-90)">BRD4</text>
<text transform="translate(2315.8 564.4) rotate(-90)">NF2</text>
<text transform="translate(2419.2 608.1) rotate(-90)" text-anchor="end">IL13RA2</text>
</svg></body></html>
